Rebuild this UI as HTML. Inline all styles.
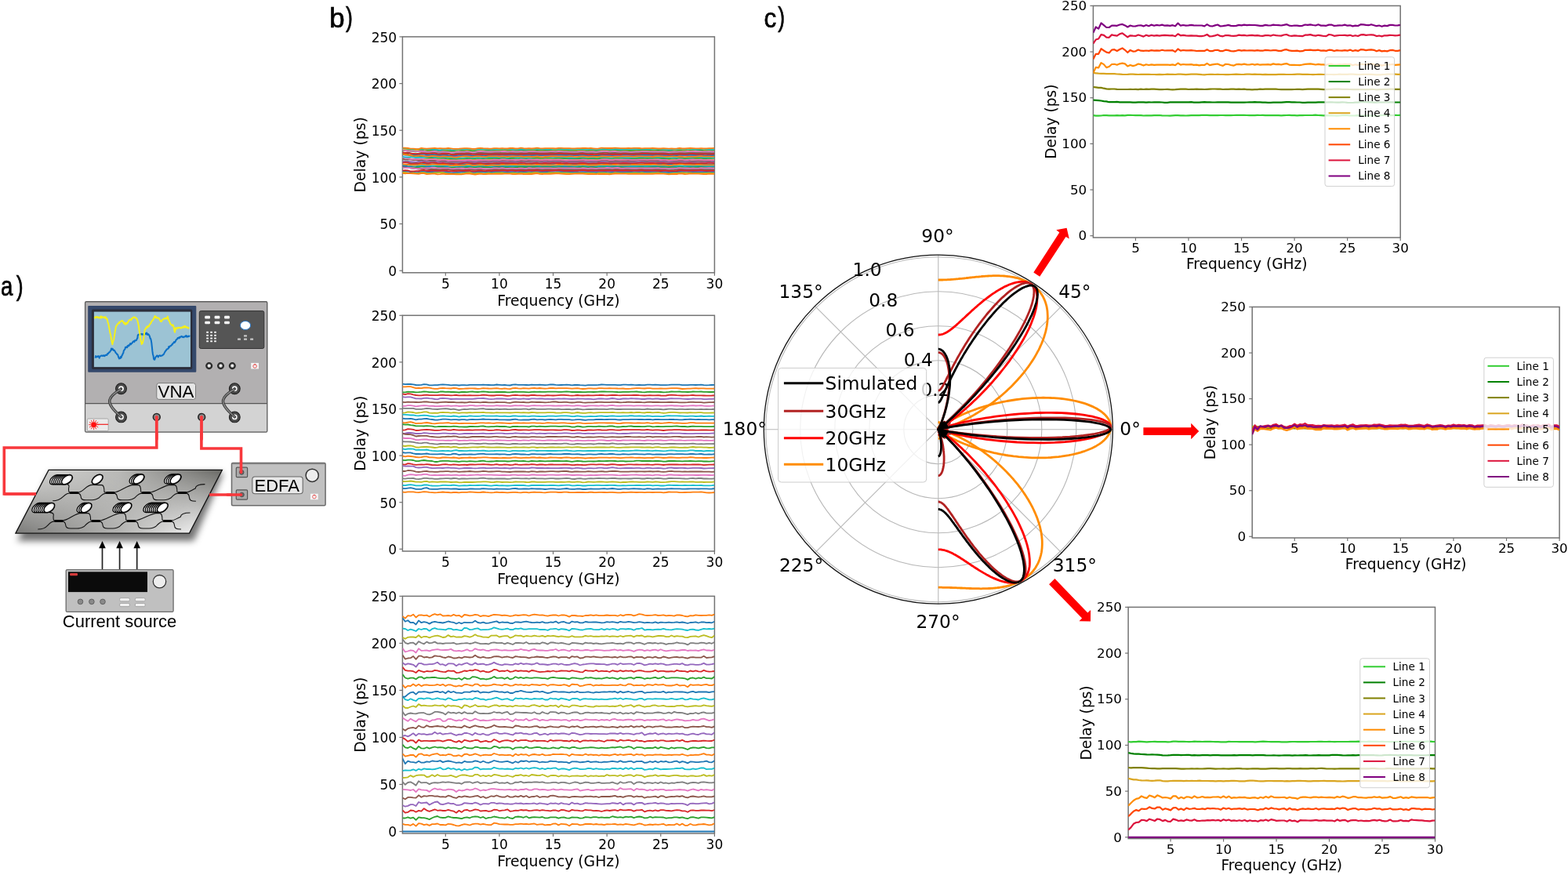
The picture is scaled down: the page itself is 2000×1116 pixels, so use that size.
<!DOCTYPE html>
<html><head><meta charset="utf-8"><title>Figure</title>
<style>html,body{margin:0;padding:0;background:#fff;}svg{display:block;}</style>
</head><body>
<svg width="2000" height="1116" viewBox="0 0 2000 1116">
<rect width="2000" height="1116" fill="#ffffff"/>
<rect x="513.4" y="46.9" width="398" height="300.9" fill="none" stroke="#737373" stroke-width="1.5"/>
<line x1="509.4" y1="345.2" x2="513.4" y2="345.2" stroke="#737373" stroke-width="1.2"/>
<text x="506.2" y="352.1" text-anchor="end" style="font-family:'DejaVu Sans',sans-serif;font-size:17.0px">0</text>
<line x1="509.4" y1="285.54" x2="513.4" y2="285.54" stroke="#737373" stroke-width="1.2"/>
<text x="506.2" y="292.44" text-anchor="end" style="font-family:'DejaVu Sans',sans-serif;font-size:17.0px">50</text>
<line x1="509.4" y1="225.88" x2="513.4" y2="225.88" stroke="#737373" stroke-width="1.2"/>
<text x="506.2" y="232.78" text-anchor="end" style="font-family:'DejaVu Sans',sans-serif;font-size:17.0px">100</text>
<line x1="509.4" y1="166.22" x2="513.4" y2="166.22" stroke="#737373" stroke-width="1.2"/>
<text x="506.2" y="173.12" text-anchor="end" style="font-family:'DejaVu Sans',sans-serif;font-size:17.0px">150</text>
<line x1="509.4" y1="106.56" x2="513.4" y2="106.56" stroke="#737373" stroke-width="1.2"/>
<text x="506.2" y="113.46" text-anchor="end" style="font-family:'DejaVu Sans',sans-serif;font-size:17.0px">200</text>
<line x1="509.4" y1="46.9" x2="513.4" y2="46.9" stroke="#737373" stroke-width="1.2"/>
<text x="506.2" y="53.8" text-anchor="end" style="font-family:'DejaVu Sans',sans-serif;font-size:17.0px">250</text>
<line x1="568.3" y1="347.8" x2="568.3" y2="351.8" stroke="#737373" stroke-width="1.2"/>
<text x="568.3" y="368.1" text-anchor="middle" style="font-family:'DejaVu Sans',sans-serif;font-size:17.0px">5</text>
<line x1="636.92" y1="347.8" x2="636.92" y2="351.8" stroke="#737373" stroke-width="1.2"/>
<text x="636.92" y="368.1" text-anchor="middle" style="font-family:'DejaVu Sans',sans-serif;font-size:17.0px">10</text>
<line x1="705.54" y1="347.8" x2="705.54" y2="351.8" stroke="#737373" stroke-width="1.2"/>
<text x="705.54" y="368.1" text-anchor="middle" style="font-family:'DejaVu Sans',sans-serif;font-size:17.0px">15</text>
<line x1="774.16" y1="347.8" x2="774.16" y2="351.8" stroke="#737373" stroke-width="1.2"/>
<text x="774.16" y="368.1" text-anchor="middle" style="font-family:'DejaVu Sans',sans-serif;font-size:17.0px">20</text>
<line x1="842.78" y1="347.8" x2="842.78" y2="351.8" stroke="#737373" stroke-width="1.2"/>
<text x="842.78" y="368.1" text-anchor="middle" style="font-family:'DejaVu Sans',sans-serif;font-size:17.0px">25</text>
<line x1="911.4" y1="347.8" x2="911.4" y2="351.8" stroke="#737373" stroke-width="1.2"/>
<text x="911.4" y="368.1" text-anchor="middle" style="font-family:'DejaVu Sans',sans-serif;font-size:17.0px">30</text>
<text x="712.4" y="389.8" text-anchor="middle" style="font-family:'DejaVu Sans',sans-serif;font-size:18.8px">Frequency (GHz)</text>
<text transform="translate(466.4,197.35) rotate(-90)" text-anchor="middle" style="font-family:'DejaVu Sans',sans-serif;font-size:18.8px">Delay (ps)</text>
<clipPath id="cp1"><rect x="513.4" y="46.9" width="398" height="300.9"/></clipPath>
<g clip-path="url(#cp1)" fill="none" stroke-width="1.8" stroke-linejoin="round">
<path transform="translate(513.4,0) scale(3.4310,0.1)" vector-effect="non-scaling-stroke" stroke="#7f7f7f" d="M0 1897l1 6 1 15 1 9 1 0 1 5 1 -1 1 -2 1 9 1 5 1 -3 1 0 1 1 1 4 1 4 1 -6 1 -2 1 3 1 -2 1 4 1 6 1 0 1 -2 1 -2 1 -4 1 3 1 4 1 0 1 -4 1 -3 1 3 1 1 1 -1 1 1 1 -1 1 -1 1 -3 1 -6 1 2 1 3 1 2 1 -1 1 1 1 2 1 -3 1 2 1 0 1 -2 1 3 1 -2 1 -6 1 4 1 4 1 -3 1 -1 1 2 1 1 1 -3 1 -2 1 3 1 -1 1 1 1 2 1 1 1 -1 1 1 1 1 1 -4 1 1 1 1 1 -3 1 4 1 2 1 -4 1 0 1 -2 1 2 1 5 1 -1 1 -3 1 0 1 0 1 -2 1 -2 1 2 1 5 1 0 1 -1 1 -1 1 -3 1 0 1 4 1 -2 1 -3 1 0 1 1 1 1 1 0 1 0 1 3 1 -1 1 -1 1 1 1 -3 1 0 1 3 1 0 1 -3 1 -2 1 5 1 1 1 -2 1 0 1 1 1 -1 1 1 1 -1"/>
<path transform="translate(513.4,0) scale(3.4310,0.1)" vector-effect="non-scaling-stroke" stroke="#7f7f7f" d="M0 2055l1 -1 1 0 1 17 1 3 1 -2 1 -3 1 -14 1 6 1 11 1 -3 1 -2 1 -1 1 1 1 4 1 -4 1 3 1 5 1 -3 1 1 1 4 1 0 1 -2 1 -2 1 -5 1 3 1 5 1 -2 1 -4 1 -1 1 1 1 1 1 0 1 0 1 -4 1 3 1 3 1 -5 1 3 1 2 1 2 1 -2 1 1 1 -2 1 -2 1 1 1 -2 1 0 1 4 1 -2 1 -2 1 4 1 0 1 -3 1 2 1 0 1 -1 1 0 1 -6 1 1 1 5 1 2 1 2 1 1 1 -2 1 -2 1 -1 1 -2 1 2 1 0 1 -1 1 4 1 1 1 -4 1 -2 1 2 1 2 1 2 1 -2 1 -8 1 2 1 5 1 -3 1 2 1 2 1 0 1 0 1 -3 1 0 1 0 1 -1 1 1 1 1 1 -3 1 0 1 1 1 1 1 3 1 0 1 -2 1 -2 1 1 1 2 1 -3 1 1 1 4 1 -3 1 -2 1 2 1 3 1 -1 1 -4 1 3 1 2 1 -5 1 2 1 3"/>
<path transform="translate(513.4,0) scale(3.4310,0.1)" vector-effect="non-scaling-stroke" stroke="#7f7f7f" d="M0 2126l1 3 1 7 1 8 1 0 1 1 1 6 1 -2 1 0 1 5 1 0 1 -1 1 1 1 1 1 -2 1 -3 1 1 1 3 1 -1 1 0 1 5 1 0 1 5 1 -2 1 -7 1 -3 1 8 1 0 1 -6 1 1 1 6 1 2 1 -5 1 0 1 -4 1 3 1 0 1 -5 1 2 1 1 1 -2 1 1 1 6 1 1 1 -7 1 -1 1 3 1 -1 1 2 1 -3 1 -1 1 5 1 -2 1 -4 1 4 1 2 1 0 1 -3 1 -4 1 3 1 3 1 0 1 1 1 -1 1 -1 1 -3 1 0 1 1 1 1 1 3 1 0 1 3 1 -1 1 -4 1 -2 1 -2 1 1 1 2 1 1 1 -1 1 -1 1 1 1 0 1 0 1 1 1 4 1 0 1 -3 1 -4 1 -2 1 2 1 1 1 -1 1 -1 1 2 1 2 1 1 1 1 1 0 1 1 1 -1 1 -2 1 -1 1 -1 1 1 1 4 1 -2 1 -2 1 -2 1 1 1 0 1 0 1 5 1 0 1 -2 1 0 1 -1"/>
<path transform="translate(513.4,0) scale(3.4310,0.1)" vector-effect="non-scaling-stroke" stroke="#9467bd" d="M0 1969l1 5 1 3 1 3 1 2 1 7 1 -1 1 -7 1 3 1 3 1 -5 1 -3 1 4 1 3 1 -3 1 -3 1 2 1 5 1 4 1 0 1 2 1 -1 1 -3 1 0 1 0 1 1 1 2 1 -2 1 -6 1 1 1 4 1 2 1 -2 1 0 1 -4 1 -3 1 3 1 2 1 2 1 1 1 0 1 -4 1 0 1 4 1 -5 1 -1 1 2 1 0 1 2 1 -4 1 -3 1 3 1 1 1 -3 1 0 1 1 1 4 1 1 1 -5 1 2 1 1 1 0 1 2 1 -1 1 -1 1 0 1 -2 1 -3 1 4 1 7 1 -2 1 -1 1 2 1 -3 1 -5 1 0 1 5 1 -2 1 -1 1 2 1 -1 1 0 1 1 1 -1 1 0 1 4 1 -1 1 -3 1 -1 1 -1 1 1 1 -3 1 1 1 1 1 -1 1 3 1 0 1 -1 1 0 1 4 1 1 1 -1 1 -2 1 -5 1 0 1 4 1 -1 1 -3 1 2 1 4 1 1 1 -1 1 -1 1 0 1 -1 1 -1 1 -1"/>
<path transform="translate(513.4,0) scale(3.4310,0.1)" vector-effect="non-scaling-stroke" stroke="#9467bd" d="M0 2057l1 4 1 2 1 -2 1 3 1 3 1 -7 1 -6 1 3 1 7 1 -5 1 -7 1 4 1 9 1 2 1 -8 1 -3 1 4 1 2 1 3 1 2 1 -3 1 -2 1 2 1 -4 1 -4 1 8 1 5 1 -6 1 -3 1 7 1 -1 1 -5 1 2 1 -6 1 -1 1 6 1 -2 1 1 1 3 1 -3 1 -1 1 3 1 -3 1 -5 1 3 1 1 1 -2 1 1 1 -2 1 -2 1 5 1 4 1 -2 1 1 1 -3 1 -2 1 1 1 0 1 1 1 3 1 1 1 -1 1 2 1 0 1 -3 1 -1 1 0 1 3 1 -1 1 -2 1 1 1 -1 1 0 1 0 1 -2 1 -2 1 4 1 2 1 -5 1 0 1 1 1 0 1 2 1 1 1 0 1 -1 1 4 1 -2 1 -4 1 -1 1 0 1 3 1 -2 1 -2 1 1 1 3 1 -1 1 2 1 4 1 -2 1 0 1 -2 1 -4 1 2 1 0 1 0 1 1 1 1 1 -1 1 -2 1 -1 1 2 1 2 1 0 1 2 1 -1"/>
<path transform="translate(513.4,0) scale(3.4310,0.1)" vector-effect="non-scaling-stroke" stroke="#9467bd" d="M0 2185l1 0 1 -4 1 9 1 5 1 -8 1 3 1 -3 1 -2 1 -1 1 1 1 5 1 -3 1 -4 1 3 1 4 1 -1 1 -1 1 1 1 2 1 2 1 -1 1 -4 1 -5 1 4 1 5 1 -2 1 -1 1 1 1 -1 1 0 1 1 1 0 1 1 1 -4 1 -1 1 3 1 -2 1 0 1 -1 1 -2 1 2 1 2 1 -1 1 -4 1 2 1 -1 1 -3 1 5 1 -1 1 -3 1 3 1 3 1 0 1 2 1 -2 1 -4 1 0 1 0 1 2 1 1 1 0 1 -1 1 2 1 3 1 0 1 -1 1 -3 1 2 1 0 1 -3 1 1 1 3 1 -2 1 -3 1 -1 1 1 1 3 1 1 1 -4 1 1 1 1 1 -4 1 2 1 3 1 4 1 -1 1 -3 1 1 1 -2 1 -2 1 1 1 2 1 -1 1 -1 1 1 1 3 1 -4 1 0 1 5 1 -2 1 1 1 -1 1 -6 1 3 1 3 1 -4 1 -2 1 4 1 3 1 -1 1 -3 1 -1 1 1 1 1 1 3 1 -1"/>
<path transform="translate(513.4,0) scale(3.4310,0.1)" vector-effect="non-scaling-stroke" stroke="#8c564b" d="M0 1953l1 -3 1 -6 1 9 1 9 1 -1 1 -4 1 -6 1 5 1 2 1 -1 1 0 1 -1 1 5 1 3 1 -7 1 -1 1 2 1 5 1 2 1 -5 1 -4 1 0 1 2 1 -4 1 1 1 7 1 1 1 -8 1 -3 1 3 1 2 1 -1 1 1 1 -2 1 -4 1 0 1 2 1 2 1 0 1 -3 1 1 1 6 1 0 1 -6 1 2 1 -1 1 -3 1 3 1 -1 1 -2 1 0 1 1 1 0 1 2 1 -3 1 2 1 2 1 -4 1 1 1 3 1 0 1 0 1 1 1 1 1 0 1 -2 1 -4 1 4 1 4 1 -5 1 3 1 2 1 -3 1 -3 1 -5 1 1 1 4 1 2 1 -3 1 1 1 0 1 1 1 1 1 -1 1 1 1 -1 1 2 1 -2 1 -3 1 2 1 0 1 1 1 3 1 -2 1 -3 1 2 1 1 1 0 1 4 1 0 1 -2 1 -3 1 -2 1 1 1 3 1 1 1 -4 1 0 1 4 1 -1 1 -4 1 1 1 2 1 0 1 -1 1 1"/>
<path transform="translate(513.4,0) scale(3.4310,0.1)" vector-effect="non-scaling-stroke" stroke="#8c564b" d="M0 2027l1 7 1 -1 1 3 1 4 1 -1 1 4 1 -3 1 1 1 8 1 -2 1 -2 1 -1 1 3 1 3 1 -2 1 2 1 3 1 3 1 0 1 0 1 -2 1 -1 1 -4 1 -6 1 4 1 6 1 -2 1 -5 1 3 1 2 1 1 1 -3 1 1 1 -4 1 1 1 4 1 -2 1 -1 1 0 1 2 1 -2 1 0 1 3 1 -2 1 3 1 0 1 -4 1 3 1 -2 1 -2 1 5 1 -1 1 -5 1 4 1 2 1 -3 1 0 1 -2 1 3 1 2 1 -2 1 -1 1 2 1 1 1 -2 1 1 1 -3 1 1 1 3 1 -3 1 -1 1 4 1 1 1 -6 1 -4 1 5 1 5 1 0 1 -4 1 2 1 1 1 -1 1 1 1 -2 1 1 1 1 1 -3 1 -2 1 0 1 2 1 1 1 -2 1 -2 1 3 1 1 1 -1 1 0 1 -1 1 2 1 1 1 1 1 0 1 -4 1 -1 1 1 1 -2 1 5 1 2 1 -2 1 -1 1 1 1 1 1 -1 1 -2 1 3 1 -1"/>
<path transform="translate(513.4,0) scale(3.4310,0.1)" vector-effect="non-scaling-stroke" stroke="#8c564b" d="M0 2119l1 5 1 9 1 11 1 4 1 2 1 5 1 -3 1 -4 1 8 1 5 1 0 1 4 1 0 1 -2 1 -2 1 0 1 -1 1 6 1 4 1 -2 1 -1 1 -1 1 0 1 -4 1 0 1 6 1 0 1 -5 1 0 1 3 1 -1 1 -1 1 4 1 -2 1 1 1 2 1 -3 1 -1 1 4 1 -1 1 -4 1 2 1 2 1 -5 1 2 1 4 1 -2 1 1 1 -6 1 -3 1 5 1 4 1 -1 1 0 1 -1 1 1 1 0 1 -5 1 2 1 2 1 0 1 3 1 1 1 -3 1 -3 1 0 1 -2 1 3 1 2 1 -4 1 4 1 1 1 -2 1 0 1 0 1 1 1 -1 1 0 1 -2 1 -1 1 2 1 2 1 -2 1 -2 1 2 1 4 1 0 1 -4 1 -3 1 1 1 1 1 2 1 -1 1 -2 1 0 1 2 1 1 1 4 1 3 1 -2 1 -2 1 -3 1 -7 1 3 1 6 1 -1 1 -1 1 -2 1 0 1 0 1 0 1 5 1 1 1 -2 1 0 1 -2"/>
<path transform="translate(513.4,0) scale(3.4310,0.1)" vector-effect="non-scaling-stroke" stroke="#1f77b4" d="M0 1971l1 5 1 1 1 6 1 -3 1 -3 1 -1 1 -11 1 0 1 12 1 -1 1 -7 1 4 1 7 1 -1 1 -2 1 0 1 4 1 5 1 -2 1 -2 1 -3 1 -1 1 -1 1 -4 1 4 1 7 1 -2 1 -4 1 -3 1 4 1 2 1 -3 1 -1 1 -1 1 -3 1 -2 1 2 1 4 1 -4 1 -2 1 3 1 3 1 1 1 -3 1 2 1 -1 1 -2 1 4 1 -2 1 -2 1 4 1 1 1 -5 1 -1 1 1 1 0 1 0 1 -1 1 2 1 1 1 0 1 0 1 -1 1 4 1 -1 1 -2 1 -2 1 3 1 1 1 -3 1 6 1 2 1 -3 1 -3 1 -5 1 1 1 4 1 2 1 -6 1 -1 1 4 1 -2 1 -3 1 0 1 5 1 0 1 -1 1 0 1 0 1 1 1 0 1 1 1 -2 1 -4 1 2 1 5 1 -1 1 0 1 2 1 -1 1 1 1 1 1 -4 1 -2 1 3 1 0 1 0 1 -1 1 -1 1 0 1 0 1 4 1 2 1 -6 1 3 1 2"/>
<path transform="translate(513.4,0) scale(3.4310,0.1)" vector-effect="non-scaling-stroke" stroke="#1f77b4" d="M0 2101l1 0 1 -8 1 -1 1 -1 1 1 1 0 1 -6 1 -2 1 9 1 2 1 -2 1 -3 1 -2 1 2 1 1 1 4 1 0 1 2 1 1 1 -1 1 -2 1 -1 1 -2 1 -1 1 1 1 5 1 -1 1 -4 1 0 1 2 1 4 1 -3 1 0 1 -3 1 -2 1 5 1 -1 1 -1 1 2 1 -1 1 -2 1 1 1 0 1 -3 1 2 1 1 1 -2 1 1 1 -3 1 -1 1 6 1 0 1 -4 1 1 1 1 1 -1 1 -4 1 -1 1 5 1 0 1 4 1 0 1 -1 1 -1 1 -2 1 1 1 -2 1 2 1 3 1 -2 1 2 1 2 1 -5 1 -5 1 -1 1 4 1 1 1 -1 1 -3 1 0 1 4 1 0 1 0 1 0 1 2 1 1 1 2 1 -2 1 -1 1 0 1 -2 1 2 1 -1 1 -4 1 2 1 0 1 -2 1 5 1 4 1 -4 1 -1 1 -1 1 -3 1 4 1 3 1 -1 1 -2 1 1 1 2 1 -3 1 -3 1 3 1 3 1 0 1 0 1 -2"/>
<path transform="translate(513.4,0) scale(3.4310,0.1)" vector-effect="non-scaling-stroke" stroke="#1f77b4" d="M0 2114l1 3 1 5 1 4 1 6 1 -3 1 -6 1 -3 1 1 1 4 1 0 1 -5 1 0 1 7 1 -1 1 -8 1 6 1 5 1 4 1 2 1 -4 1 -4 1 1 1 0 1 -7 1 0 1 8 1 -2 1 -6 1 1 1 4 1 4 1 0 1 -2 1 -4 1 -1 1 0 1 -2 1 1 1 3 1 3 1 -1 1 0 1 0 1 -4 1 3 1 1 1 -3 1 0 1 -2 1 -2 1 4 1 2 1 -2 1 -4 1 1 1 1 1 -3 1 -2 1 4 1 1 1 -1 1 3 1 1 1 0 1 -2 1 0 1 -4 1 4 1 5 1 -4 1 -1 1 1 1 0 1 -2 1 -3 1 1 1 4 1 1 1 -3 1 2 1 3 1 -4 1 -1 1 3 1 0 1 -3 1 -1 1 1 1 0 1 -1 1 1 1 3 1 -3 1 -3 1 3 1 7 1 1 1 -2 1 2 1 -4 1 -2 1 1 1 -4 1 2 1 3 1 -1 1 -5 1 -2 1 6 1 1 1 -1 1 3 1 1 1 -3 1 -1 1 0"/>
<path transform="translate(513.4,0) scale(3.4310,0.1)" vector-effect="non-scaling-stroke" stroke="#1f77b4" d="M0 2184l1 1 1 -1 1 6 1 6 1 7 1 -2 1 -11 1 2 1 7 1 -1 1 -5 1 0 1 5 1 2 1 -2 1 1 1 3 1 3 1 1 1 -5 1 -3 1 -1 1 0 1 0 1 3 1 5 1 -4 1 -6 1 0 1 2 1 2 1 1 1 0 1 -4 1 -1 1 2 1 -2 1 3 1 2 1 -1 1 -2 1 3 1 2 1 -10 1 3 1 5 1 -3 1 -1 1 -2 1 -1 1 4 1 2 1 -6 1 -1 1 5 1 1 1 -2 1 -3 1 2 1 2 1 2 1 0 1 -1 1 2 1 0 1 -1 1 -3 1 2 1 4 1 -3 1 0 1 3 1 -2 1 -2 1 -3 1 4 1 3 1 -2 1 -2 1 -3 1 3 1 0 1 0 1 -2 1 -1 1 1 1 2 1 1 1 -4 1 0 1 2 1 0 1 0 1 -1 1 -1 1 2 1 2 1 0 1 3 1 -2 1 -4 1 -1 1 -3 1 2 1 8 1 -2 1 -4 1 1 1 1 1 1 1 -1 1 0 1 -2 1 0 1 4 1 -3"/>
<path transform="translate(513.4,0) scale(3.4310,0.1)" vector-effect="non-scaling-stroke" stroke="#bcbd22" d="M0 1901l1 0 1 4 1 6 1 0 1 1 1 -1 1 -10 1 2 1 9 1 3 1 -3 1 2 1 6 1 -5 1 -7 1 4 1 7 1 2 1 -1 1 -2 1 -7 1 0 1 4 1 0 1 -1 1 3 1 3 1 -5 1 -1 1 1 1 -3 1 -1 1 3 1 -2 1 -1 1 3 1 -2 1 2 1 3 1 -4 1 -2 1 3 1 -2 1 -1 1 5 1 -2 1 -4 1 3 1 -3 1 -3 1 7 1 3 1 -5 1 -2 1 4 1 -2 1 -3 1 -2 1 3 1 4 1 1 1 -4 1 0 1 2 1 -1 1 0 1 0 1 3 1 -1 1 -1 1 1 1 0 1 0 1 -1 1 -2 1 2 1 1 1 1 1 -3 1 1 1 3 1 -2 1 -3 1 3 1 2 1 -1 1 0 1 -3 1 -2 1 0 1 1 1 1 1 -1 1 1 1 0 1 1 1 0 1 0 1 6 1 -2 1 -3 1 -2 1 -3 1 3 1 4 1 -2 1 -2 1 4 1 -1 1 -5 1 1 1 5 1 0 1 -1 1 0 1 -1"/>
<path transform="translate(513.4,0) scale(3.4310,0.1)" vector-effect="non-scaling-stroke" stroke="#bcbd22" d="M0 2006l1 2 1 6 1 10 1 4 1 -1 1 -1 1 0 1 0 1 1 1 1 1 -2 1 1 1 2 1 2 1 -1 1 0 1 1 1 2 1 3 1 0 1 -2 1 -5 1 1 1 -3 1 -2 1 7 1 1 1 -3 1 3 1 2 1 -1 1 -2 1 0 1 -3 1 2 1 1 1 -4 1 3 1 0 1 0 1 1 1 1 1 -2 1 -5 1 1 1 3 1 -1 1 2 1 -4 1 0 1 3 1 -1 1 0 1 -1 1 -2 1 0 1 0 1 -2 1 2 1 0 1 1 1 0 1 1 1 2 1 0 1 -1 1 -4 1 4 1 3 1 -5 1 2 1 5 1 -2 1 -6 1 0 1 3 1 3 1 -1 1 -4 1 0 1 4 1 -1 1 -2 1 0 1 2 1 2 1 -5 1 -1 1 2 1 1 1 0 1 -1 1 -4 1 2 1 5 1 -1 1 -3 1 1 1 3 1 0 1 0 1 0 1 -2 1 -2 1 3 1 -3 1 -2 1 4 1 0 1 -5 1 0 1 6 1 1 1 -5 1 3 1 2"/>
<path transform="translate(513.4,0) scale(3.4310,0.1)" vector-effect="non-scaling-stroke" stroke="#bcbd22" d="M0 2200l1 -1 1 10 1 1 1 -6 1 7 1 -2 1 -8 1 1 1 6 1 4 1 -4 1 -4 1 -1 1 -1 1 0 1 6 1 5 1 1 1 2 1 -1 1 1 1 -2 1 -5 1 -6 1 -1 1 10 1 1 1 -3 1 0 1 4 1 -3 1 -4 1 4 1 -2 1 -3 1 1 1 -2 1 3 1 3 1 -3 1 -2 1 3 1 3 1 -6 1 2 1 0 1 -3 1 2 1 -5 1 -1 1 5 1 3 1 0 1 -2 1 -3 1 -1 1 -1 1 -1 1 5 1 1 1 0 1 1 1 3 1 -1 1 -1 1 -2 1 -1 1 2 1 2 1 -2 1 2 1 3 1 -6 1 -1 1 0 1 2 1 4 1 -1 1 -6 1 2 1 2 1 -1 1 2 1 -1 1 1 1 -3 1 0 1 1 1 -5 1 5 1 4 1 -3 1 -2 1 -1 1 -1 1 3 1 3 1 3 1 2 1 -4 1 -2 1 -2 1 -2 1 -1 1 1 1 0 1 1 1 2 1 0 1 -1 1 0 1 1 1 -1 1 -1 1 2 1 -1"/>
<path transform="translate(513.4,0) scale(3.4310,0.1)" vector-effect="non-scaling-stroke" stroke="#2ca02c" d="M0 1920l1 1 1 2 1 4 1 5 1 2 1 -9 1 -10 1 6 1 4 1 -2 1 -3 1 -2 1 5 1 7 1 -4 1 3 1 -1 1 -3 1 4 1 4 1 -3 1 -6 1 3 1 -1 1 -2 1 4 1 0 1 -2 1 0 1 3 1 -4 1 -3 1 3 1 -1 1 3 1 0 1 -5 1 1 1 1 1 1 1 -1 1 1 1 -2 1 -6 1 4 1 4 1 -2 1 2 1 -2 1 -3 1 5 1 0 1 -4 1 1 1 0 1 1 1 1 1 -2 1 1 1 1 1 -1 1 2 1 1 1 1 1 -1 1 -3 1 0 1 3 1 -1 1 -2 1 2 1 2 1 -2 1 -2 1 -2 1 2 1 2 1 0 1 -4 1 1 1 3 1 -2 1 1 1 1 1 -1 1 0 1 -1 1 -1 1 0 1 0 1 -1 1 1 1 2 1 -1 1 -3 1 1 1 2 1 3 1 2 1 -3 1 3 1 -1 1 -6 1 4 1 2 1 -4 1 -2 1 2 1 -2 1 -3 1 1 1 5 1 2 1 -1 1 0 1 -2"/>
<path transform="translate(513.4,0) scale(3.4310,0.1)" vector-effect="non-scaling-stroke" stroke="#2ca02c" d="M0 1956l1 8 1 5 1 15 1 5 1 9 1 5 1 -9 1 6 1 12 1 -2 1 0 1 -1 1 5 1 2 1 -2 1 4 1 0 1 8 1 1 1 -2 1 -2 1 -5 1 0 1 2 1 -3 1 3 1 0 1 -4 1 2 1 3 1 -2 1 -2 1 2 1 -2 1 1 1 2 1 -5 1 0 1 5 1 0 1 -3 1 1 1 1 1 -2 1 2 1 2 1 0 1 -2 1 -3 1 -2 1 2 1 1 1 -1 1 -2 1 -1 1 4 1 0 1 -3 1 3 1 3 1 -2 1 3 1 1 1 -1 1 -1 1 0 1 -2 1 1 1 2 1 -2 1 1 1 2 1 -2 1 -5 1 0 1 4 1 -1 1 0 1 -1 1 0 1 0 1 2 1 3 1 -1 1 1 1 0 1 -1 1 -3 1 -2 1 2 1 -2 1 2 1 0 1 -4 1 1 1 4 1 1 1 1 1 2 1 -4 1 0 1 1 1 -6 1 1 1 5 1 -1 1 0 1 0 1 -3 1 -1 1 2 1 3 1 0 1 -3 1 1 1 -2"/>
<path transform="translate(513.4,0) scale(3.4310,0.1)" vector-effect="non-scaling-stroke" stroke="#2ca02c" d="M0 2138l1 2 1 -3 1 1 1 -3 1 2 1 -2 1 -8 1 4 1 10 1 0 1 -8 1 -5 1 4 1 2 1 -2 1 5 1 2 1 -1 1 0 1 2 1 -1 1 -3 1 -2 1 0 1 -2 1 3 1 3 1 -6 1 -2 1 5 1 1 1 1 1 2 1 -1 1 -3 1 1 1 -2 1 0 1 3 1 -1 1 -2 1 0 1 -2 1 -3 1 3 1 2 1 -2 1 1 1 -1 1 -1 1 4 1 0 1 -3 1 1 1 2 1 -2 1 1 1 0 1 -2 1 4 1 3 1 -5 1 2 1 -1 1 0 1 -1 1 -7 1 4 1 5 1 -2 1 2 1 1 1 -2 1 -1 1 -4 1 4 1 3 1 -2 1 -1 1 -1 1 0 1 2 1 1 1 -1 1 2 1 -1 1 -1 1 -2 1 -2 1 2 1 -1 1 0 1 1 1 1 1 1 1 0 1 -2 1 -1 1 2 1 1 1 0 1 0 1 -5 1 0 1 3 1 1 1 1 1 -2 1 -1 1 1 1 -2 1 2 1 3 1 -1 1 3 1 -2"/>
<path transform="translate(513.4,0) scale(3.4310,0.1)" vector-effect="non-scaling-stroke" stroke="#e377c2" d="M0 1914l1 5 1 6 1 1 1 1 1 1 1 0 1 -2 1 2 1 7 1 2 1 -5 1 -2 1 4 1 3 1 -2 1 1 1 3 1 4 1 1 1 -6 1 -3 1 1 1 0 1 -5 1 6 1 6 1 -5 1 -6 1 -2 1 1 1 3 1 1 1 0 1 -2 1 1 1 -1 1 -5 1 2 1 5 1 -2 1 -2 1 2 1 0 1 -2 1 4 1 0 1 -4 1 1 1 0 1 1 1 2 1 0 1 0 1 -1 1 -3 1 0 1 2 1 -3 1 1 1 2 1 1 1 2 1 0 1 0 1 -1 1 -4 1 1 1 3 1 2 1 -4 1 2 1 3 1 -5 1 -5 1 -2 1 4 1 4 1 -2 1 -2 1 3 1 3 1 -3 1 1 1 3 1 2 1 -3 1 -2 1 0 1 -3 1 1 1 0 1 1 1 0 1 1 1 1 1 -1 1 -1 1 3 1 4 1 -3 1 -3 1 2 1 -2 1 -1 1 0 1 -3 1 2 1 0 1 -2 1 1 1 2 1 0 1 0 1 -1 1 3 1 -2"/>
<path transform="translate(513.4,0) scale(3.4310,0.1)" vector-effect="non-scaling-stroke" stroke="#e377c2" d="M0 2006l1 8 1 8 1 6 1 2 1 1 1 -2 1 -6 1 10 1 6 1 -7 1 -1 1 1 1 6 1 4 1 -6 1 3 1 9 1 -3 1 -1 1 2 1 -1 1 1 1 -1 1 -5 1 -1 1 7 1 0 1 -6 1 2 1 0 1 -1 1 3 1 -3 1 -4 1 2 1 1 1 -5 1 2 1 2 1 0 1 -1 1 2 1 2 1 -7 1 1 1 3 1 -5 1 2 1 2 1 -3 1 5 1 1 1 -6 1 3 1 2 1 -1 1 -1 1 -1 1 1 1 3 1 2 1 -3 1 1 1 0 1 0 1 -2 1 -3 1 4 1 4 1 -2 1 0 1 1 1 -2 1 -5 1 -2 1 1 1 3 1 4 1 -5 1 -1 1 2 1 -1 1 0 1 0 1 2 1 0 1 -1 1 -1 1 -1 1 1 1 1 1 -1 1 -1 1 0 1 1 1 3 1 -2 1 0 1 8 1 -2 1 -2 1 -4 1 -5 1 3 1 5 1 -1 1 -3 1 -2 1 3 1 0 1 -2 1 5 1 1 1 -3 1 5 1 -2"/>
<path transform="translate(513.4,0) scale(3.4310,0.1)" vector-effect="non-scaling-stroke" stroke="#e377c2" d="M0 2139l1 2 1 -1 1 2 1 3 1 5 1 -1 1 -6 1 1 1 1 1 -2 1 -6 1 0 1 6 1 2 1 -2 1 1 1 0 1 5 1 2 1 -4 1 -1 1 -1 1 2 1 1 1 -5 1 3 1 5 1 -4 1 -3 1 6 1 4 1 -2 1 -3 1 -5 1 0 1 2 1 -4 1 4 1 3 1 -3 1 1 1 2 1 -2 1 -4 1 4 1 1 1 -7 1 3 1 2 1 -3 1 1 1 1 1 -1 1 0 1 -1 1 3 1 0 1 -3 1 0 1 0 1 1 1 0 1 0 1 1 1 1 1 1 1 -4 1 2 1 4 1 -4 1 2 1 2 1 -5 1 0 1 0 1 -4 1 2 1 3 1 -3 1 -2 1 5 1 1 1 -2 1 0 1 1 1 0 1 0 1 -1 1 -1 1 2 1 0 1 -1 1 1 1 -2 1 -1 1 5 1 -1 1 0 1 3 1 -2 1 -1 1 -1 1 -3 1 1 1 1 1 1 1 1 1 -3 1 3 1 1 1 -5 1 1 1 1 1 -3 1 4 1 0"/>
<path transform="translate(513.4,0) scale(3.4310,0.1)" vector-effect="non-scaling-stroke" stroke="#d62728" d="M0 1945l1 4 1 5 1 5 1 1 1 3 1 1 1 -9 1 1 1 6 1 -4 1 -1 1 -1 1 7 1 3 1 -4 1 1 1 -1 1 8 1 6 1 -5 1 -5 1 -1 1 1 1 -2 1 -1 1 6 1 0 1 -1 1 -1 1 1 1 0 1 -2 1 3 1 -4 1 1 1 3 1 -2 1 0 1 -2 1 -2 1 1 1 2 1 -1 1 -2 1 2 1 -1 1 -1 1 4 1 -3 1 -3 1 6 1 -1 1 -3 1 2 1 0 1 0 1 -2 1 -1 1 0 1 1 1 0 1 -1 1 4 1 3 1 -3 1 -2 1 -2 1 4 1 5 1 -3 1 2 1 1 1 -5 1 -1 1 -1 1 1 1 2 1 3 1 -3 1 1 1 2 1 -6 1 0 1 2 1 2 1 0 1 -2 1 -1 1 -3 1 -1 1 1 1 2 1 1 1 -1 1 0 1 1 1 0 1 0 1 5 1 1 1 -5 1 -1 1 -1 1 1 1 4 1 -2 1 -6 1 -1 1 6 1 1 1 -2 1 0 1 1 1 1 1 -1 1 -2"/>
<path transform="translate(513.4,0) scale(3.4310,0.1)" vector-effect="non-scaling-stroke" stroke="#d62728" d="M0 2077l1 -6 1 3 1 12 1 2 1 -4 1 -1 1 -7 1 -4 1 9 1 -1 1 -4 1 -1 1 7 1 1 1 -5 1 7 1 1 1 0 1 3 1 3 1 -3 1 -6 1 -6 1 -1 1 2 1 7 1 2 1 -5 1 0 1 5 1 -1 1 -2 1 2 1 -4 1 -1 1 0 1 -3 1 3 1 1 1 -1 1 1 1 2 1 -2 1 -5 1 2 1 4 1 0 1 0 1 -3 1 -2 1 5 1 -1 1 -3 1 3 1 -2 1 -3 1 3 1 -2 1 2 1 1 1 -1 1 3 1 1 1 1 1 -2 1 -3 1 -2 1 4 1 7 1 -3 1 -1 1 1 1 -6 1 -2 1 1 1 2 1 1 1 1 1 -2 1 1 1 0 1 -2 1 0 1 1 1 2 1 0 1 -2 1 -2 1 -2 1 4 1 1 1 -2 1 -2 1 3 1 -2 1 0 1 1 1 3 1 0 1 -2 1 0 1 1 1 -2 1 3 1 1 1 -3 1 -1 1 3 1 2 1 -2 1 -1 1 0 1 -2 1 -4 1 2 1 4"/>
<path transform="translate(513.4,0) scale(3.4310,0.1)" vector-effect="non-scaling-stroke" stroke="#d62728" d="M0 2177l1 -5 1 2 1 11 1 -2 1 -1 1 -1 1 -9 1 -3 1 10 1 1 1 -6 1 1 1 3 1 1 1 -6 1 3 1 5 1 0 1 1 1 0 1 -4 1 -1 1 1 1 -3 1 3 1 6 1 0 1 -6 1 -1 1 4 1 -1 1 -3 1 4 1 -5 1 -3 1 4 1 -4 1 1 1 4 1 -4 1 0 1 5 1 -2 1 -3 1 4 1 -1 1 -6 1 4 1 0 1 -4 1 5 1 3 1 -3 1 -1 1 0 1 -2 1 -1 1 -1 1 3 1 4 1 0 1 -2 1 2 1 1 1 -1 1 -4 1 -5 1 5 1 5 1 -3 1 0 1 1 1 -1 1 -1 1 -1 1 3 1 0 1 0 1 -2 1 -1 1 1 1 0 1 -1 1 2 1 2 1 -1 1 0 1 -2 1 -3 1 5 1 0 1 0 1 -1 1 0 1 3 1 1 1 -3 1 0 1 5 1 -2 1 1 1 -1 1 -7 1 1 1 3 1 -1 1 0 1 0 1 1 1 -4 1 -1 1 4 1 2 1 0 1 -2 1 1"/>
<path transform="translate(513.4,0) scale(3.4310,0.1)" vector-effect="non-scaling-stroke" stroke="#17becf" d="M0 1889l1 1 1 5 1 9 1 2 1 -5 1 -1 1 -4 1 2 1 3 1 -3 1 5 1 3 1 2 1 6 1 -7 1 -6 1 2 1 5 1 3 1 -4 1 -4 1 1 1 0 1 -3 1 -1 1 4 1 2 1 -2 1 -1 1 1 1 0 1 0 1 3 1 -5 1 1 1 0 1 -7 1 4 1 2 1 -2 1 5 1 2 1 -4 1 -3 1 3 1 2 1 -4 1 0 1 -3 1 0 1 2 1 2 1 0 1 2 1 -2 1 -4 1 1 1 -2 1 3 1 2 1 0 1 1 1 0 1 -1 1 -2 1 0 1 0 1 4 1 -1 1 -4 1 4 1 2 1 -1 1 -2 1 -4 1 3 1 3 1 -1 1 -3 1 2 1 3 1 -2 1 -1 1 0 1 2 1 -3 1 0 1 1 1 -2 1 1 1 1 1 0 1 -4 1 0 1 4 1 2 1 0 1 1 1 5 1 -5 1 -2 1 0 1 -8 1 3 1 5 1 -4 1 0 1 3 1 3 1 -2 1 -5 1 1 1 4 1 1 1 1 1 -2"/>
<path transform="translate(513.4,0) scale(3.4310,0.1)" vector-effect="non-scaling-stroke" stroke="#17becf" d="M0 2000l1 4 1 1 1 -3 1 4 1 4 1 -1 1 -2 1 2 1 -1 1 -10 1 1 1 7 1 3 1 -1 1 -3 1 1 1 4 1 0 1 3 1 2 1 0 1 -1 1 -2 1 -3 1 0 1 4 1 -2 1 -1 1 1 1 1 1 -1 1 -5 1 0 1 0 1 -1 1 4 1 -3 1 0 1 7 1 -6 1 -6 1 7 1 2 1 -5 1 3 1 2 1 -1 1 -1 1 -3 1 -3 1 4 1 0 1 -2 1 3 1 2 1 2 1 -5 1 -2 1 3 1 0 1 2 1 1 1 0 1 1 1 -3 1 -3 1 0 1 4 1 2 1 -4 1 1 1 -2 1 -2 1 1 1 0 1 3 1 2 1 1 1 -4 1 0 1 1 1 -1 1 1 1 2 1 -2 1 -2 1 -1 1 -2 1 -1 1 3 1 1 1 -3 1 2 1 1 1 -3 1 3 1 1 1 -1 1 5 1 0 1 -2 1 1 1 -4 1 0 1 3 1 -2 1 1 1 -2 1 -2 1 0 1 1 1 4 1 -1 1 -2 1 4 1 0"/>
<path transform="translate(513.4,0) scale(3.4310,0.1)" vector-effect="non-scaling-stroke" stroke="#17becf" d="M0 2102l1 -3 1 4 1 9 1 -3 1 0 1 4 1 -3 1 -2 1 3 1 0 1 2 1 -2 1 -2 1 2 1 0 1 3 1 1 1 0 1 4 1 1 1 -4 1 1 1 -1 1 -4 1 1 1 4 1 2 1 -3 1 -4 1 2 1 0 1 1 1 5 1 -6 1 -3 1 -1 1 -2 1 5 1 1 1 -1 1 3 1 -3 1 -3 1 -1 1 2 1 -1 1 -1 1 2 1 0 1 1 1 1 1 -3 1 -1 1 2 1 1 1 1 1 -2 1 -4 1 3 1 2 1 -1 1 0 1 2 1 3 1 -1 1 -7 1 0 1 6 1 1 1 -4 1 1 1 5 1 -2 1 -3 1 1 1 0 1 0 1 0 1 -7 1 0 1 6 1 1 1 1 1 1 1 1 1 0 1 0 1 -3 1 -1 1 3 1 0 1 -1 1 -3 1 -1 1 -1 1 4 1 1 1 1 1 1 1 -5 1 2 1 2 1 -4 1 2 1 5 1 -5 1 -2 1 2 1 0 1 -1 1 0 1 2 1 2 1 -3 1 2 1 -2"/>
<path transform="translate(513.4,0) scale(3.4310,0.1)" vector-effect="non-scaling-stroke" stroke="#ff7f0e" d="M0 1887l1 -1 1 4 1 6 1 1 1 3 1 1 1 -12 1 4 1 4 1 -4 1 -2 1 -1 1 3 1 -1 1 1 1 0 1 -3 1 3 1 5 1 0 1 -1 1 -3 1 -2 1 0 1 1 1 5 1 1 1 -7 1 -3 1 3 1 1 1 2 1 1 1 -4 1 0 1 1 1 -2 1 2 1 2 1 -5 1 0 1 5 1 -1 1 -7 1 5 1 3 1 -4 1 4 1 -4 1 -4 1 5 1 2 1 -3 1 0 1 1 1 0 1 2 1 -6 1 1 1 3 1 -1 1 1 1 2 1 -1 1 -1 1 -1 1 -2 1 1 1 2 1 -2 1 3 1 4 1 -4 1 -6 1 1 1 2 1 0 1 0 1 -3 1 2 1 2 1 0 1 0 1 -1 1 1 1 -2 1 -1 1 2 1 3 1 -1 1 -1 1 1 1 -3 1 2 1 4 1 0 1 -3 1 1 1 3 1 -1 1 1 1 -2 1 -4 1 3 1 2 1 -4 1 -1 1 2 1 2 1 -1 1 -1 1 1 1 0 1 -1 1 0 1 -3"/>
<path transform="translate(513.4,0) scale(3.4310,0.1)" vector-effect="non-scaling-stroke" stroke="#ff7f0e" d="M0 1965l1 5 1 6 1 6 1 6 1 3 1 -5 1 0 1 6 1 4 1 -1 1 -6 1 2 1 4 1 4 1 -4 1 1 1 3 1 0 1 8 1 1 1 -7 1 -5 1 -1 1 0 1 4 1 2 1 -4 1 -2 1 2 1 5 1 -1 1 -7 1 0 1 -1 1 1 1 5 1 -4 1 1 1 4 1 -3 1 -2 1 2 1 0 1 -2 1 5 1 -1 1 -3 1 4 1 -2 1 -3 1 5 1 3 1 -3 1 -2 1 -3 1 -2 1 2 1 2 1 -2 1 1 1 2 1 -3 1 1 1 5 1 0 1 -4 1 -4 1 5 1 5 1 -5 1 -1 1 3 1 -2 1 -4 1 2 1 3 1 -1 1 0 1 1 1 -1 1 -1 1 -3 1 3 1 0 1 0 1 1 1 -3 1 -2 1 0 1 4 1 0 1 -1 1 4 1 -5 1 -3 1 2 1 3 1 1 1 0 1 -2 1 0 1 3 1 -4 1 3 1 6 1 -5 1 -2 1 1 1 0 1 -4 1 -3 1 5 1 1 1 -1 1 3 1 -2"/>
<path transform="translate(513.4,0) scale(3.4310,0.1)" vector-effect="non-scaling-stroke" stroke="#ff7f0e" d="M0 2096l1 0 1 4 1 4 1 -1 1 1 1 -2 1 -8 1 4 1 6 1 -3 1 -4 1 0 1 4 1 1 1 -3 1 2 1 2 1 8 1 -1 1 -5 1 3 1 -1 1 -1 1 -7 1 -1 1 10 1 1 1 -6 1 -3 1 3 1 7 1 -2 1 -3 1 -2 1 3 1 0 1 -8 1 4 1 2 1 -3 1 -2 1 1 1 3 1 -4 1 1 1 3 1 -2 1 2 1 0 1 -5 1 3 1 4 1 -3 1 1 1 2 1 -1 1 -1 1 -3 1 0 1 2 1 1 1 -2 1 3 1 2 1 -2 1 -3 1 -3 1 4 1 5 1 -3 1 1 1 0 1 -3 1 0 1 -2 1 0 1 3 1 -1 1 -3 1 3 1 1 1 0 1 0 1 0 1 -1 1 -2 1 1 1 -1 1 -2 1 3 1 -1 1 0 1 -2 1 0 1 5 1 0 1 -1 1 3 1 6 1 -3 1 -7 1 0 1 -4 1 0 1 5 1 0 1 -1 1 2 1 -1 1 -2 1 2 1 2 1 -1 1 1 1 0 1 -1"/>
<path transform="translate(513.4,0) scale(3.4310,0.1)" vector-effect="non-scaling-stroke" stroke="#ff7f0e" d="M0 2209l1 4 1 -5 1 2 1 3 1 4 1 1 1 -8 1 2 1 9 1 -2 1 -4 1 1 1 7 1 -2 1 -5 1 4 1 0 1 0 1 0 1 3 1 0 1 0 1 -4 1 -5 1 1 1 6 1 6 1 -7 1 -4 1 4 1 1 1 -2 1 0 1 0 1 0 1 0 1 -1 1 -2 1 -1 1 2 1 4 1 1 1 -3 1 -3 1 4 1 2 1 -2 1 0 1 -5 1 -3 1 6 1 2 1 -4 1 2 1 0 1 -3 1 -1 1 0 1 3 1 2 1 2 1 0 1 -3 1 -2 1 -1 1 0 1 0 1 4 1 3 1 -4 1 2 1 1 1 -2 1 1 1 -1 1 2 1 2 1 -4 1 -4 1 2 1 0 1 -2 1 2 1 1 1 0 1 1 1 -1 1 1 1 0 1 0 1 -2 1 1 1 0 1 -2 1 -2 1 2 1 1 1 2 1 5 1 -3 1 -1 1 0 1 -6 1 1 1 7 1 -3 1 -5 1 1 1 2 1 0 1 1 1 2 1 1 1 -5 1 3 1 0"/>
</g>
<rect x="513.4" y="402.3" width="398" height="300.7" fill="none" stroke="#737373" stroke-width="1.5"/>
<line x1="509.4" y1="700.3" x2="513.4" y2="700.3" stroke="#737373" stroke-width="1.2"/>
<text x="506.2" y="707.2" text-anchor="end" style="font-family:'DejaVu Sans',sans-serif;font-size:17.0px">0</text>
<line x1="509.4" y1="640.7" x2="513.4" y2="640.7" stroke="#737373" stroke-width="1.2"/>
<text x="506.2" y="647.6" text-anchor="end" style="font-family:'DejaVu Sans',sans-serif;font-size:17.0px">50</text>
<line x1="509.4" y1="581.1" x2="513.4" y2="581.1" stroke="#737373" stroke-width="1.2"/>
<text x="506.2" y="588" text-anchor="end" style="font-family:'DejaVu Sans',sans-serif;font-size:17.0px">100</text>
<line x1="509.4" y1="521.5" x2="513.4" y2="521.5" stroke="#737373" stroke-width="1.2"/>
<text x="506.2" y="528.4" text-anchor="end" style="font-family:'DejaVu Sans',sans-serif;font-size:17.0px">150</text>
<line x1="509.4" y1="461.9" x2="513.4" y2="461.9" stroke="#737373" stroke-width="1.2"/>
<text x="506.2" y="468.8" text-anchor="end" style="font-family:'DejaVu Sans',sans-serif;font-size:17.0px">200</text>
<line x1="509.4" y1="402.3" x2="513.4" y2="402.3" stroke="#737373" stroke-width="1.2"/>
<text x="506.2" y="409.2" text-anchor="end" style="font-family:'DejaVu Sans',sans-serif;font-size:17.0px">250</text>
<line x1="568.3" y1="703" x2="568.3" y2="707" stroke="#737373" stroke-width="1.2"/>
<text x="568.3" y="723.3" text-anchor="middle" style="font-family:'DejaVu Sans',sans-serif;font-size:17.0px">5</text>
<line x1="636.92" y1="703" x2="636.92" y2="707" stroke="#737373" stroke-width="1.2"/>
<text x="636.92" y="723.3" text-anchor="middle" style="font-family:'DejaVu Sans',sans-serif;font-size:17.0px">10</text>
<line x1="705.54" y1="703" x2="705.54" y2="707" stroke="#737373" stroke-width="1.2"/>
<text x="705.54" y="723.3" text-anchor="middle" style="font-family:'DejaVu Sans',sans-serif;font-size:17.0px">15</text>
<line x1="774.16" y1="703" x2="774.16" y2="707" stroke="#737373" stroke-width="1.2"/>
<text x="774.16" y="723.3" text-anchor="middle" style="font-family:'DejaVu Sans',sans-serif;font-size:17.0px">20</text>
<line x1="842.78" y1="703" x2="842.78" y2="707" stroke="#737373" stroke-width="1.2"/>
<text x="842.78" y="723.3" text-anchor="middle" style="font-family:'DejaVu Sans',sans-serif;font-size:17.0px">25</text>
<line x1="911.4" y1="703" x2="911.4" y2="707" stroke="#737373" stroke-width="1.2"/>
<text x="911.4" y="723.3" text-anchor="middle" style="font-family:'DejaVu Sans',sans-serif;font-size:17.0px">30</text>
<text x="712.4" y="745" text-anchor="middle" style="font-family:'DejaVu Sans',sans-serif;font-size:18.8px">Frequency (GHz)</text>
<text transform="translate(466.4,552.65) rotate(-90)" text-anchor="middle" style="font-family:'DejaVu Sans',sans-serif;font-size:18.8px">Delay (ps)</text>
<clipPath id="cp2"><rect x="513.4" y="402.3" width="398" height="300.7"/></clipPath>
<g clip-path="url(#cp2)" fill="none" stroke-width="1.8" stroke-linejoin="round">
<path transform="translate(513.4,0) scale(3.4310,0.1)" vector-effect="non-scaling-stroke" stroke="#1f77b4" d="M0 4897l1 4 1 -3 1 2 1 3 1 7 1 2 1 -3 1 -7 1 2 1 10 1 0 1 -2 1 -1 1 -4 1 -3 1 2 1 3 1 4 1 -2 1 0 1 4 1 -3 1 -1 1 2 1 -5 1 0 1 1 1 0 1 0 1 -2 1 2 1 1 1 1 1 1 1 -7 1 3 1 4 1 -2 1 4 1 1 1 -8 1 -4 1 5 1 1 1 -1 1 2 1 2 1 -5 1 1 1 1 1 -2 1 2 1 3 1 -3 1 -5 1 1 1 4 1 2 1 -1 1 -1 1 -2 1 2 1 4 1 -3 1 -1 1 3 1 2 1 2 1 -4 1 -1 1 0 1 0 1 -2 1 -4 1 2 1 2 1 -1 1 0 1 1 1 2 1 0 1 -5 1 0 1 2 1 -2 1 3 1 2 1 -1 1 1 1 0 1 -4 1 0 1 1 1 -1 1 1 1 3 1 0 1 0 1 -2 1 -3 1 1 1 -1 1 1 1 4 1 0 1 0 1 -2 1 -1 1 2 1 -2 1 -1 1 4 1 2 1 -1 1 -2 1 -2"/>
<path transform="translate(513.4,0) scale(3.4310,0.1)" vector-effect="non-scaling-stroke" stroke="#ff7f0e" d="M0 4933l1 0 1 -2 1 1 1 9 1 10 1 -2 1 2 1 -6 1 -2 1 4 1 7 1 5 1 -1 1 -6 1 -2 1 2 1 1 1 2 1 -6 1 3 1 8 1 -2 1 -1 1 -2 1 -2 1 0 1 2 1 4 1 -2 1 -5 1 1 1 2 1 1 1 -2 1 -2 1 5 1 1 1 -4 1 4 1 3 1 -9 1 -3 1 5 1 2 1 -4 1 1 1 4 1 -6 1 -1 1 3 1 -3 1 3 1 4 1 -3 1 -4 1 0 1 3 1 -2 1 1 1 0 1 -1 1 3 1 3 1 -3 1 -3 1 5 1 4 1 -1 1 -5 1 0 1 3 1 -1 1 -5 1 1 1 2 1 0 1 -2 1 1 1 0 1 2 1 1 1 -1 1 3 1 0 1 -2 1 -3 1 -2 1 1 1 2 1 1 1 -4 1 1 1 4 1 0 1 0 1 -2 1 2 1 0 1 -3 1 -1 1 -1 1 1 1 3 1 5 1 -1 1 -2 1 0 1 -4 1 -1 1 3 1 -1 1 0 1 2 1 0 1 1 1 0"/>
<path transform="translate(513.4,0) scale(3.4310,0.1)" vector-effect="non-scaling-stroke" stroke="#2ca02c" d="M0 5004l1 -1 1 -6 1 2 1 1 1 4 1 -2 1 -3 1 -6 1 3 1 6 1 -1 1 3 1 0 1 -9 1 0 1 3 1 -2 1 4 1 -1 1 2 1 4 1 -5 1 -1 1 2 1 -5 1 -1 1 4 1 1 1 -3 1 -4 1 3 1 4 1 1 1 1 1 -4 1 2 1 -1 1 1 1 3 1 1 1 -4 1 -4 1 2 1 1 1 0 1 2 1 2 1 -5 1 -1 1 2 1 -3 1 2 1 1 1 -3 1 0 1 0 1 1 1 2 1 -1 1 -2 1 -1 1 1 1 4 1 0 1 -2 1 2 1 2 1 -1 1 -3 1 1 1 1 1 -2 1 -1 1 -2 1 0 1 2 1 -1 1 0 1 2 1 2 1 1 1 -2 1 0 1 -1 1 -1 1 -1 1 -1 1 3 1 4 1 1 1 -5 1 -1 1 2 1 -1 1 0 1 2 1 3 1 -1 1 -3 1 -4 1 1 1 1 1 -2 1 3 1 1 1 1 1 -2 1 -3 1 2 1 0 1 -2 1 4 1 0 1 1 1 0 1 -1"/>
<path transform="translate(513.4,0) scale(3.4310,0.1)" vector-effect="non-scaling-stroke" stroke="#d62728" d="M0 5024l1 7 1 -9 1 1 1 10 1 7 1 3 1 1 1 -6 1 -1 1 4 1 1 1 0 1 0 1 -4 1 -1 1 4 1 0 1 2 1 -1 1 -2 1 4 1 -1 1 -1 1 1 1 -1 1 2 1 0 1 0 1 -2 1 -5 1 2 1 5 1 1 1 0 1 -3 1 0 1 0 1 3 1 4 1 -3 1 -5 1 -3 1 4 1 2 1 -2 1 3 1 0 1 -7 1 2 1 3 1 0 1 3 1 -1 1 -4 1 2 1 2 1 -2 1 -2 1 -2 1 -1 1 3 1 3 1 2 1 -2 1 -4 1 3 1 2 1 -2 1 -2 1 3 1 -1 1 -2 1 -1 1 -2 1 4 1 2 1 -3 1 -2 1 1 1 2 1 1 1 -1 1 -1 1 0 1 1 1 -2 1 0 1 2 1 1 1 2 1 -2 1 -1 1 2 1 -1 1 -1 1 3 1 2 1 -2 1 -7 1 -2 1 3 1 3 1 2 1 1 1 -1 1 -1 1 -1 1 -2 1 3 1 1 1 -1 1 2 1 2 1 -1 1 -1 1 -2"/>
<path transform="translate(513.4,0) scale(3.4310,0.1)" vector-effect="non-scaling-stroke" stroke="#9467bd" d="M0 5061l1 5 1 -2 1 -1 1 10 1 10 1 0 1 2 1 -6 1 -3 1 6 1 1 1 7 1 3 1 -11 1 -3 1 2 1 2 1 7 1 -2 1 -2 1 3 1 0 1 0 1 0 1 -1 1 1 1 -4 1 -4 1 1 1 -2 1 4 1 5 1 3 1 -3 1 -5 1 1 1 -1 1 3 1 5 1 -1 1 -6 1 -1 1 5 1 0 1 -5 1 4 1 2 1 -7 1 0 1 3 1 -2 1 1 1 4 1 -2 1 2 1 1 1 -4 1 -1 1 2 1 -2 1 1 1 3 1 1 1 -2 1 -3 1 2 1 0 1 2 1 -2 1 1 1 5 1 -4 1 -5 1 1 1 2 1 1 1 -3 1 -5 1 4 1 7 1 -1 1 -5 1 0 1 1 1 -4 1 1 1 2 1 2 1 3 1 0 1 -5 1 0 1 4 1 -4 1 0 1 5 1 0 1 -1 1 -4 1 -3 1 2 1 0 1 0 1 3 1 1 1 2 1 -2 1 -3 1 2 1 -1 1 1 1 5 1 -1 1 -2 1 -1 1 -1"/>
<path transform="translate(513.4,0) scale(3.4310,0.1)" vector-effect="non-scaling-stroke" stroke="#8c564b" d="M0 5128l1 3 1 -4 1 1 1 0 1 2 1 2 1 -4 1 -4 1 1 1 4 1 2 1 3 1 1 1 -3 1 -3 1 -2 1 3 1 0 1 -1 1 4 1 1 1 -2 1 3 1 -1 1 -7 1 5 1 -1 1 0 1 2 1 -5 1 2 1 4 1 0 1 0 1 -4 1 1 1 0 1 0 1 5 1 2 1 -6 1 -6 1 2 1 3 1 -1 1 3 1 1 1 -7 1 1 1 2 1 0 1 1 1 2 1 -2 1 -3 1 -4 1 1 1 5 1 1 1 -2 1 0 1 4 1 2 1 -1 1 -5 1 -1 1 6 1 2 1 -3 1 1 1 0 1 -4 1 -2 1 1 1 2 1 1 1 -1 1 -2 1 -1 1 2 1 3 1 -1 1 -2 1 -3 1 2 1 3 1 -2 1 -2 1 3 1 2 1 -5 1 -1 1 3 1 0 1 0 1 1 1 1 1 0 1 -2 1 -1 1 2 1 1 1 2 1 0 1 -1 1 -1 1 -4 1 0 1 4 1 -1 1 0 1 6 1 -3 1 -3 1 0 1 -1"/>
<path transform="translate(513.4,0) scale(3.4310,0.1)" vector-effect="non-scaling-stroke" stroke="#e377c2" d="M0 5178l1 0 1 -6 1 0 1 4 1 8 1 -5 1 -5 1 -2 1 1 1 5 1 -1 1 3 1 1 1 -1 1 -1 1 -3 1 -3 1 5 1 -2 1 -2 1 6 1 -1 1 -3 1 1 1 -5 1 0 1 3 1 1 1 -2 1 -2 1 5 1 -1 1 1 1 0 1 -6 1 4 1 0 1 -1 1 2 1 2 1 -3 1 -3 1 1 1 -1 1 2 1 4 1 1 1 -6 1 -1 1 1 1 1 1 2 1 -2 1 0 1 0 1 1 1 1 1 -2 1 1 1 -2 1 -2 1 2 1 3 1 -1 1 -4 1 2 1 5 1 2 1 -5 1 -1 1 0 1 1 1 1 1 -4 1 3 1 2 1 -5 1 -4 1 5 1 3 1 -1 1 -2 1 1 1 0 1 0 1 2 1 -2 1 -1 1 0 1 2 1 0 1 2 1 0 1 -3 1 -1 1 4 1 0 1 -2 1 -2 1 -2 1 4 1 -2 1 3 1 4 1 -4 1 0 1 -3 1 -1 1 3 1 -2 1 -1 1 5 1 1 1 1 1 -2 1 -4"/>
<path transform="translate(513.4,0) scale(3.4310,0.1)" vector-effect="non-scaling-stroke" stroke="#7f7f7f" d="M0 5207l1 2 1 -1 1 1 1 0 1 10 1 0 1 -1 1 -4 1 -6 1 4 1 4 1 3 1 1 1 -4 1 -3 1 -1 1 3 1 6 1 -4 1 7 1 8 1 -8 1 -5 1 3 1 -5 1 -1 1 2 1 -1 1 -4 1 -1 1 6 1 2 1 -1 1 2 1 -4 1 3 1 -1 1 -2 1 3 1 1 1 -2 1 -2 1 1 1 1 1 -3 1 1 1 6 1 -8 1 -1 1 5 1 -1 1 1 1 0 1 -3 1 1 1 1 1 0 1 -1 1 4 1 1 1 -4 1 2 1 3 1 -3 1 -5 1 4 1 4 1 -2 1 -3 1 2 1 -1 1 -2 1 2 1 0 1 0 1 2 1 -4 1 -3 1 4 1 2 1 0 1 -1 1 0 1 -1 1 0 1 1 1 -1 1 1 1 3 1 -1 1 -6 1 3 1 3 1 -3 1 0 1 2 1 3 1 -3 1 -3 1 -1 1 2 1 3 1 -2 1 0 1 2 1 -1 1 -1 1 -1 1 3 1 1 1 -3 1 2 1 -2 1 2 1 -1 1 -2"/>
<path transform="translate(513.4,0) scale(3.4310,0.1)" vector-effect="non-scaling-stroke" stroke="#bcbd22" d="M0 5267l1 -3 1 -11 1 3 1 4 1 9 1 -4 1 -4 1 -7 1 -1 1 14 1 1 1 -2 1 2 1 -7 1 -2 1 2 1 0 1 6 1 -5 1 1 1 5 1 -5 1 0 1 2 1 -4 1 2 1 -1 1 0 1 -1 1 -2 1 4 1 1 1 1 1 1 1 -4 1 1 1 1 1 0 1 0 1 1 1 -1 1 -2 1 -1 1 2 1 -1 1 1 1 2 1 -5 1 2 1 3 1 -2 1 0 1 0 1 -1 1 0 1 0 1 3 1 1 1 -1 1 -3 1 -1 1 2 1 5 1 -2 1 -6 1 5 1 4 1 0 1 -6 1 -1 1 4 1 -2 1 -2 1 0 1 0 1 0 1 -1 1 -3 1 4 1 2 1 -1 1 -1 1 1 1 0 1 -3 1 3 1 -3 1 -1 1 4 1 2 1 -6 1 1 1 4 1 -3 1 -2 1 5 1 4 1 -2 1 -4 1 -4 1 1 1 3 1 3 1 -1 1 -1 1 2 1 -3 1 1 1 1 1 -2 1 -1 1 5 1 1 1 0 1 -2 1 -2"/>
<path transform="translate(513.4,0) scale(3.4310,0.1)" vector-effect="non-scaling-stroke" stroke="#17becf" d="M0 5287l1 1 1 3 1 4 1 -2 1 8 1 2 1 -5 1 -1 1 2 1 6 1 4 1 4 1 -1 1 -6 1 -2 1 3 1 1 1 4 1 -7 1 3 1 9 1 -7 1 0 1 1 1 -7 1 3 1 1 1 0 1 -1 1 -5 1 4 1 0 1 1 1 -1 1 -3 1 6 1 0 1 -2 1 5 1 -1 1 -6 1 -1 1 4 1 1 1 -3 1 3 1 2 1 -4 1 -1 1 2 1 2 1 1 1 0 1 -5 1 0 1 1 1 1 1 -2 1 -2 1 -1 1 0 1 4 1 4 1 -1 1 -6 1 5 1 5 1 0 1 -3 1 -1 1 1 1 -1 1 -3 1 -2 1 3 1 2 1 -3 1 -3 1 3 1 2 1 -1 1 -2 1 1 1 -2 1 -3 1 3 1 2 1 -2 1 2 1 2 1 -5 1 3 1 4 1 -2 1 0 1 2 1 -1 1 -6 1 -2 1 1 1 1 1 0 1 1 1 1 1 2 1 1 1 -3 1 1 1 3 1 -2 1 -3 1 5 1 -1 1 -3 1 2 1 0"/>
<path transform="translate(513.4,0) scale(3.4310,0.1)" vector-effect="non-scaling-stroke" stroke="#1f77b4" d="M0 5336l1 5 1 0 1 -2 1 6 1 9 1 -7 1 -1 1 -4 1 -2 1 7 1 3 1 5 1 1 1 -4 1 -5 1 -1 1 2 1 6 1 -2 1 0 1 3 1 -3 1 0 1 4 1 -5 1 -1 1 1 1 0 1 -3 1 -3 1 3 1 1 1 3 1 -1 1 -2 1 4 1 1 1 0 1 1 1 0 1 -5 1 -3 1 7 1 2 1 -3 1 2 1 0 1 -6 1 -2 1 6 1 -1 1 0 1 3 1 -3 1 -3 1 2 1 2 1 -4 1 -1 1 4 1 0 1 0 1 4 1 -2 1 -3 1 1 1 3 1 3 1 -4 1 -1 1 0 1 -3 1 0 1 0 1 2 1 -2 1 -1 1 -1 1 1 1 5 1 1 1 -3 1 0 1 -1 1 -3 1 0 1 1 1 1 1 -1 1 3 1 -2 1 -1 1 4 1 -3 1 0 1 2 1 0 1 -1 1 -1 1 -2 1 2 1 1 1 2 1 0 1 -3 1 -1 1 -2 1 2 1 2 1 -1 1 1 1 1 1 0 1 2 1 -2 1 -1"/>
<path transform="translate(513.4,0) scale(3.4310,0.1)" vector-effect="non-scaling-stroke" stroke="#ff7f0e" d="M0 5391l1 3 1 -7 1 -5 1 8 1 11 1 -2 1 0 1 -5 1 -4 1 5 1 6 1 2 1 -4 1 -2 1 0 1 -3 1 -3 1 8 1 0 1 -2 1 5 1 -2 1 -2 1 1 1 -1 1 4 1 -2 1 -4 1 -3 1 1 1 2 1 -1 1 2 1 1 1 -4 1 0 1 1 1 1 1 2 1 2 1 -3 1 -4 1 2 1 2 1 -3 1 2 1 1 1 -3 1 0 1 2 1 1 1 1 1 -2 1 -4 1 2 1 3 1 0 1 -1 1 -2 1 0 1 3 1 1 1 2 1 -2 1 -5 1 0 1 5 1 3 1 -2 1 -1 1 -1 1 -2 1 -2 1 0 1 1 1 1 1 0 1 -1 1 3 1 4 1 -1 1 -5 1 -2 1 1 1 1 1 1 1 -1 1 -2 1 4 1 0 1 -5 1 4 1 3 1 -5 1 1 1 3 1 -1 1 -4 1 -3 1 2 1 4 1 -2 1 2 1 3 1 0 1 -3 1 -5 1 1 1 3 1 1 1 0 1 1 1 0 1 0 1 0 1 0"/>
<path transform="translate(513.4,0) scale(3.4310,0.1)" vector-effect="non-scaling-stroke" stroke="#2ca02c" d="M0 5411l1 5 1 -1 1 7 1 3 1 8 1 1 1 0 1 1 1 -4 1 3 1 3 1 6 1 -1 1 -3 1 1 1 0 1 1 1 0 1 -4 1 2 1 4 1 1 1 1 1 0 1 -5 1 0 1 2 1 -1 1 -4 1 -2 1 6 1 2 1 -1 1 -1 1 -4 1 3 1 0 1 -1 1 5 1 4 1 -8 1 -2 1 2 1 1 1 0 1 1 1 3 1 -8 1 0 1 4 1 -4 1 1 1 4 1 -3 1 -3 1 1 1 0 1 2 1 0 1 -3 1 0 1 3 1 8 1 -1 1 -9 1 3 1 6 1 -2 1 -5 1 -1 1 4 1 0 1 -5 1 2 1 3 1 -3 1 -4 1 0 1 6 1 4 1 -2 1 -3 1 1 1 -5 1 -1 1 5 1 0 1 -1 1 2 1 1 1 -5 1 0 1 6 1 -2 1 -3 1 3 1 1 1 -3 1 -1 1 0 1 -2 1 -1 1 3 1 2 1 0 1 3 1 -3 1 -3 1 2 1 0 1 0 1 3 1 0 1 -1 1 0 1 -2"/>
<path transform="translate(513.4,0) scale(3.4310,0.1)" vector-effect="non-scaling-stroke" stroke="#d62728" d="M0 5487l1 -3 1 -12 1 1 1 6 1 11 1 -1 1 -6 1 -2 1 -2 1 3 1 3 1 4 1 0 1 -3 1 -4 1 -1 1 5 1 0 1 -7 1 4 1 4 1 -2 1 2 1 -2 1 0 1 1 1 -3 1 1 1 0 1 -3 1 3 1 4 1 0 1 -1 1 -5 1 2 1 4 1 -2 1 2 1 -1 1 -5 1 -2 1 5 1 0 1 -2 1 1 1 3 1 -3 1 -2 1 -1 1 1 1 2 1 1 1 0 1 -1 1 0 1 1 1 2 1 -1 1 -4 1 -1 1 3 1 6 1 -1 1 -6 1 3 1 5 1 -1 1 -5 1 0 1 1 1 -2 1 -2 1 3 1 1 1 -1 1 -3 1 -1 1 3 1 2 1 -1 1 -3 1 0 1 0 1 -1 1 1 1 0 1 0 1 2 1 -1 1 -4 1 4 1 4 1 -3 1 -1 1 3 1 4 1 -3 1 -3 1 -1 1 -1 1 -1 1 0 1 2 1 2 1 2 1 -2 1 -2 1 3 1 0 1 -3 1 2 1 0 1 2 1 0 1 -2"/>
<path transform="translate(513.4,0) scale(3.4310,0.1)" vector-effect="non-scaling-stroke" stroke="#9467bd" d="M0 5529l1 -3 1 -6 1 0 1 5 1 5 1 0 1 -1 1 -7 1 1 1 5 1 1 1 3 1 -1 1 -3 1 -1 1 0 1 1 1 3 1 -3 1 3 1 6 1 -4 1 -3 1 0 1 -2 1 2 1 1 1 1 1 -3 1 -2 1 5 1 0 1 -2 1 -1 1 -2 1 0 1 0 1 3 1 1 1 -2 1 -1 1 -4 1 2 1 2 1 -1 1 4 1 0 1 -7 1 3 1 4 1 -4 1 1 1 2 1 -4 1 0 1 3 1 0 1 -2 1 -1 1 -2 1 -1 1 3 1 3 1 0 1 -4 1 0 1 4 1 1 1 -4 1 3 1 1 1 -3 1 -1 1 0 1 1 1 0 1 0 1 -2 1 1 1 4 1 2 1 -2 1 0 1 -2 1 -3 1 -1 1 0 1 0 1 2 1 1 1 -2 1 2 1 2 1 -2 1 1 1 3 1 1 1 -1 1 -4 1 -2 1 1 1 0 1 1 1 2 1 1 1 1 1 0 1 0 1 -2 1 -1 1 1 1 -1 1 1 1 0 1 -3 1 -1"/>
<path transform="translate(513.4,0) scale(3.4310,0.1)" vector-effect="non-scaling-stroke" stroke="#8c564b" d="M0 5529l1 10 1 1 1 2 1 10 1 13 1 -5 1 -1 1 0 1 0 1 8 1 3 1 3 1 3 1 -1 1 -3 1 -2 1 -3 1 2 1 -4 1 2 1 10 1 0 1 -2 1 3 1 -3 1 -5 1 -1 1 1 1 0 1 0 1 3 1 2 1 -2 1 -4 1 0 1 5 1 0 1 0 1 4 1 0 1 -7 1 -3 1 5 1 2 1 -1 1 1 1 1 1 -5 1 0 1 3 1 -1 1 3 1 -2 1 -5 1 1 1 -1 1 1 1 2 1 -1 1 -2 1 -1 1 3 1 5 1 -1 1 -6 1 5 1 5 1 -2 1 -3 1 1 1 1 1 -3 1 -1 1 0 1 3 1 1 1 -2 1 -2 1 1 1 2 1 0 1 -2 1 -3 1 -1 1 3 1 2 1 -1 1 -1 1 2 1 2 1 -7 1 0 1 6 1 -3 1 0 1 0 1 1 1 -1 1 1 1 -1 1 -3 1 -1 1 2 1 5 1 -1 1 -1 1 1 1 -1 1 -1 1 -2 1 -1 1 6 1 -3 1 1 1 3 1 -2"/>
<path transform="translate(513.4,0) scale(3.4310,0.1)" vector-effect="non-scaling-stroke" stroke="#e377c2" d="M0 5585l1 5 1 -1 1 3 1 6 1 14 1 0 1 -6 1 -2 1 1 1 6 1 1 1 2 1 3 1 -1 1 0 1 2 1 -2 1 2 1 -4 1 0 1 6 1 -2 1 -2 1 2 1 -3 1 1 1 2 1 -1 1 -2 1 -3 1 2 1 2 1 1 1 2 1 -5 1 1 1 2 1 0 1 2 1 -1 1 -3 1 0 1 4 1 -1 1 -4 1 2 1 3 1 -7 1 1 1 4 1 -1 1 2 1 0 1 -4 1 1 1 2 1 1 1 -3 1 0 1 2 1 -3 1 3 1 7 1 -2 1 -6 1 2 1 3 1 0 1 -4 1 1 1 2 1 -3 1 -4 1 0 1 2 1 5 1 0 1 -5 1 0 1 5 1 0 1 -5 1 2 1 0 1 -2 1 2 1 -1 1 -1 1 4 1 1 1 -5 1 1 1 3 1 -3 1 -1 1 0 1 4 1 -1 1 -5 1 -1 1 4 1 0 1 -2 1 3 1 1 1 -1 1 -1 1 -1 1 2 1 -2 1 -1 1 5 1 -2 1 1 1 1 1 -4"/>
<path transform="translate(513.4,0) scale(3.4310,0.1)" vector-effect="non-scaling-stroke" stroke="#7f7f7f" d="M0 5631l1 3 1 0 1 1 1 4 1 8 1 4 1 2 1 -7 1 1 1 10 1 2 1 4 1 4 1 -7 1 -1 1 0 1 -1 1 4 1 -4 1 1 1 6 1 -1 1 -2 1 0 1 -5 1 0 1 1 1 2 1 2 1 -5 1 0 1 4 1 1 1 -3 1 -2 1 3 1 0 1 3 1 4 1 -1 1 -6 1 -2 1 4 1 1 1 -2 1 1 1 0 1 -6 1 1 1 4 1 -2 1 2 1 -1 1 0 1 2 1 -2 1 -1 1 2 1 0 1 -4 1 0 1 6 1 4 1 -2 1 -6 1 2 1 3 1 -1 1 -1 1 0 1 3 1 -3 1 -5 1 1 1 2 1 2 1 -2 1 -6 1 5 1 4 1 -2 1 1 1 3 1 -2 1 -4 1 0 1 1 1 -1 1 1 1 2 1 -4 1 0 1 5 1 -4 1 -1 1 5 1 1 1 -3 1 -1 1 0 1 0 1 2 1 -1 1 1 1 0 1 -1 1 -3 1 -2 1 6 1 1 1 -1 1 2 1 -2 1 0 1 -1 1 -1"/>
<path transform="translate(513.4,0) scale(3.4310,0.1)" vector-effect="non-scaling-stroke" stroke="#bcbd22" d="M0 5687l1 3 1 -5 1 -1 1 7 1 14 1 2 1 -5 1 -2 1 0 1 2 1 3 1 5 1 -4 1 -7 1 1 1 1 1 -1 1 6 1 -6 1 1 1 11 1 -3 1 -2 1 2 1 -3 1 -3 1 0 1 2 1 -3 1 -3 1 4 1 2 1 2 1 -1 1 -3 1 2 1 2 1 0 1 1 1 0 1 -2 1 -2 1 2 1 0 1 -2 1 2 1 3 1 -6 1 1 1 6 1 -3 1 0 1 2 1 -3 1 -2 1 1 1 1 1 -1 1 1 1 0 1 -3 1 0 1 4 1 -3 1 -3 1 4 1 4 1 0 1 -3 1 1 1 -1 1 -1 1 0 1 -2 1 2 1 2 1 -2 1 -3 1 4 1 2 1 0 1 -2 1 -1 1 0 1 -1 1 0 1 0 1 -1 1 2 1 2 1 -3 1 1 1 3 1 -5 1 -1 1 4 1 2 1 0 1 -1 1 -2 1 0 1 1 1 3 1 -1 1 -2 1 2 1 -5 1 -3 1 5 1 -1 1 0 1 2 1 1 1 3 1 -1 1 -3"/>
<path transform="translate(513.4,0) scale(3.4310,0.1)" vector-effect="non-scaling-stroke" stroke="#17becf" d="M0 5723l1 8 1 -6 1 -2 1 4 1 11 1 -1 1 2 1 -1 1 -3 1 8 1 6 1 2 1 2 1 -2 1 -2 1 2 1 -1 1 3 1 -7 1 -4 1 8 1 0 1 2 1 -1 1 -5 1 2 1 1 1 -1 1 0 1 -2 1 4 1 3 1 -2 1 -1 1 -2 1 1 1 0 1 0 1 5 1 2 1 -8 1 0 1 4 1 -1 1 -2 1 4 1 -1 1 -6 1 1 1 3 1 -1 1 -1 1 1 1 1 1 0 1 -2 1 2 1 -1 1 0 1 -2 1 -2 1 3 1 3 1 2 1 -4 1 0 1 3 1 0 1 -2 1 0 1 0 1 -1 1 0 1 1 1 0 1 -1 1 -1 1 0 1 0 1 4 1 2 1 -4 1 2 1 -1 1 -3 1 -1 1 -3 1 2 1 3 1 0 1 -3 1 3 1 2 1 -4 1 2 1 2 1 2 1 -2 1 -4 1 -3 1 3 1 3 1 1 1 1 1 0 1 -3 1 -5 1 0 1 6 1 -1 1 1 1 5 1 -5 1 -1 1 3 1 0"/>
<path transform="translate(513.4,0) scale(3.4310,0.1)" vector-effect="non-scaling-stroke" stroke="#1f77b4" d="M0 5770l1 7 1 -4 1 1 1 10 1 6 1 -1 1 3 1 -4 1 -3 1 6 1 2 1 1 1 0 1 -3 1 1 1 4 1 2 1 -2 1 -10 1 4 1 12 1 -5 1 -3 1 3 1 -4 1 2 1 1 1 -4 1 -3 1 -2 1 6 1 1 1 -1 1 0 1 -1 1 3 1 -2 1 1 1 5 1 -1 1 -6 1 -3 1 3 1 3 1 -1 1 3 1 2 1 -7 1 0 1 1 1 0 1 2 1 0 1 -4 1 -1 1 3 1 0 1 0 1 1 1 -4 1 -2 1 2 1 4 1 0 1 -3 1 4 1 3 1 -1 1 -4 1 0 1 3 1 0 1 -4 1 -2 1 3 1 1 1 -4 1 -1 1 5 1 3 1 -1 1 -4 1 2 1 2 1 -2 1 -2 1 0 1 1 1 1 1 2 1 -4 1 -1 1 5 1 -1 1 -2 1 2 1 2 1 -2 1 -4 1 0 1 2 1 -1 1 0 1 0 1 2 1 0 1 -4 1 0 1 3 1 -1 1 -2 1 5 1 1 1 -1 1 1 1 -4"/>
<path transform="translate(513.4,0) scale(3.4310,0.1)" vector-effect="non-scaling-stroke" stroke="#ff7f0e" d="M0 5817l1 6 1 -6 1 3 1 3 1 7 1 3 1 -1 1 -9 1 0 1 11 1 0 1 3 1 5 1 -2 1 -5 1 -1 1 2 1 2 1 -3 1 3 1 7 1 -5 1 -2 1 0 1 -3 1 4 1 1 1 -3 1 -1 1 -2 1 -1 1 4 1 2 1 1 1 -1 1 2 1 -1 1 -2 1 4 1 -1 1 -5 1 -1 1 3 1 3 1 -2 1 -2 1 2 1 -4 1 0 1 3 1 -3 1 3 1 3 1 -2 1 -4 1 1 1 1 1 1 1 2 1 -3 1 -3 1 3 1 5 1 -2 1 -4 1 2 1 3 1 4 1 -4 1 -2 1 2 1 -3 1 -2 1 0 1 0 1 1 1 1 1 -1 1 -1 1 3 1 3 1 -3 1 -2 1 0 1 -2 1 2 1 1 1 -1 1 1 1 4 1 -4 1 0 1 2 1 -6 1 -1 1 3 1 4 1 -2 1 -3 1 -1 1 2 1 2 1 0 1 -2 1 0 1 0 1 -5 1 3 1 5 1 -1 1 0 1 2 1 0 1 -1 1 -2 1 -1"/>
<path transform="translate(513.4,0) scale(3.4310,0.1)" vector-effect="non-scaling-stroke" stroke="#2ca02c" d="M0 5868l1 3 1 -5 1 0 1 4 1 11 1 0 1 -7 1 -4 1 5 1 4 1 1 1 10 1 0 1 -9 1 -3 1 0 1 1 1 4 1 0 1 2 1 3 1 -5 1 1 1 3 1 -6 1 3 1 3 1 -3 1 -4 1 -3 1 7 1 2 1 -1 1 -1 1 -5 1 3 1 0 1 0 1 3 1 -2 1 -4 1 -2 1 4 1 1 1 -2 1 4 1 2 1 -7 1 2 1 2 1 -3 1 1 1 2 1 -1 1 0 1 -2 1 0 1 0 1 1 1 1 1 -2 1 3 1 5 1 -4 1 -4 1 1 1 4 1 2 1 -4 1 0 1 2 1 -2 1 -3 1 1 1 1 1 -2 1 -1 1 -1 1 2 1 4 1 -2 1 0 1 3 1 -1 1 -1 1 -1 1 -5 1 -1 1 4 1 0 1 -2 1 2 1 2 1 -3 1 1 1 2 1 4 1 -1 1 -5 1 -2 1 2 1 2 1 0 1 1 1 -1 1 0 1 -2 1 1 1 3 1 -2 1 0 1 3 1 -1 1 2 1 -2 1 -2"/>
<path transform="translate(513.4,0) scale(3.4310,0.1)" vector-effect="non-scaling-stroke" stroke="#d62728" d="M0 5924l1 2 1 -14 1 3 1 9 1 4 1 -2 1 -1 1 1 1 -5 1 4 1 5 1 2 1 2 1 -5 1 -6 1 -1 1 4 1 2 1 -4 1 2 1 5 1 -3 1 -1 1 3 1 -5 1 0 1 2 1 -3 1 -1 1 -2 1 2 1 2 1 4 1 -2 1 -5 1 6 1 0 1 -4 1 2 1 5 1 -3 1 -6 1 4 1 3 1 -3 1 -1 1 2 1 -5 1 1 1 5 1 -3 1 -1 1 4 1 -2 1 -3 1 2 1 1 1 0 1 0 1 -1 1 0 1 2 1 4 1 -1 1 -4 1 2 1 2 1 1 1 -4 1 -4 1 1 1 2 1 -2 1 -1 1 3 1 2 1 -3 1 -4 1 2 1 5 1 2 1 -2 1 -2 1 -3 1 1 1 2 1 -1 1 1 1 1 1 0 1 -3 1 3 1 1 1 -4 1 0 1 3 1 3 1 -3 1 -3 1 1 1 0 1 -1 1 2 1 1 1 -2 1 2 1 -1 1 -2 1 1 1 -1 1 2 1 5 1 -3 1 -1 1 0 1 -2"/>
<path transform="translate(513.4,0) scale(3.4310,0.1)" vector-effect="non-scaling-stroke" stroke="#9467bd" d="M0 5942l1 4 1 -3 1 3 1 0 1 15 1 4 1 -2 1 -4 1 -1 1 9 1 5 1 -1 1 -2 1 -1 1 2 1 -3 1 -3 1 5 1 0 1 2 1 5 1 -3 1 -3 1 0 1 -2 1 3 1 2 1 -1 1 -3 1 -3 1 4 1 1 1 0 1 -2 1 -2 1 5 1 0 1 -3 1 3 1 3 1 -5 1 -3 1 2 1 3 1 -1 1 0 1 0 1 -6 1 1 1 4 1 0 1 0 1 2 1 -2 1 1 1 1 1 -1 1 1 1 -2 1 -2 1 1 1 1 1 5 1 -3 1 -5 1 4 1 4 1 1 1 -5 1 0 1 2 1 -2 1 -4 1 0 1 4 1 1 1 -5 1 -5 1 5 1 4 1 2 1 -2 1 -1 1 0 1 -1 1 2 1 -2 1 -1 1 5 1 1 1 -8 1 2 1 5 1 -2 1 -1 1 2 1 4 1 -3 1 -7 1 -1 1 5 1 0 1 -1 1 0 1 1 1 4 1 -3 1 -3 1 1 1 -1 1 2 1 5 1 -2 1 -1 1 -1 1 -1"/>
<path transform="translate(513.4,0) scale(3.4310,0.1)" vector-effect="non-scaling-stroke" stroke="#8c564b" d="M0 6010l1 0 1 -10 1 1 1 5 1 10 1 4 1 -3 1 -6 1 -1 1 6 1 1 1 2 1 -1 1 -4 1 -1 1 -2 1 1 1 4 1 -3 1 1 1 5 1 -2 1 -2 1 -1 1 -4 1 3 1 4 1 0 1 -4 1 -4 1 3 1 4 1 -1 1 -1 1 -2 1 0 1 4 1 0 1 2 1 2 1 -3 1 -2 1 0 1 0 1 -1 1 3 1 2 1 -7 1 2 1 5 1 -4 1 -1 1 2 1 -2 1 -2 1 -1 1 2 1 2 1 -4 1 -1 1 0 1 5 1 4 1 -4 1 0 1 1 1 0 1 0 1 -4 1 1 1 4 1 -1 1 -3 1 -1 1 3 1 1 1 -4 1 -2 1 0 1 2 1 4 1 1 1 0 1 0 1 -3 1 0 1 1 1 -1 1 0 1 1 1 -2 1 -1 1 3 1 -2 1 -1 1 4 1 2 1 -2 1 -4 1 -3 1 4 1 0 1 1 1 2 1 -2 1 2 1 -1 1 -1 1 1 1 0 1 -1 1 3 1 0 1 0 1 1 1 -2"/>
<path transform="translate(513.4,0) scale(3.4310,0.1)" vector-effect="non-scaling-stroke" stroke="#e377c2" d="M0 6066l1 2 1 -11 1 -6 1 3 1 6 1 -4 1 -1 1 -6 1 0 1 10 1 2 1 -1 1 1 1 -2 1 1 1 -1 1 -2 1 5 1 -3 1 -2 1 6 1 -3 1 -2 1 5 1 -3 1 -2 1 -1 1 -2 1 3 1 -1 1 -1 1 1 1 0 1 2 1 -1 1 3 1 -1 1 0 1 2 1 -2 1 -4 1 1 1 5 1 -3 1 0 1 3 1 0 1 -7 1 0 1 3 1 0 1 1 1 1 1 -3 1 -1 1 1 1 2 1 0 1 -2 1 -1 1 -2 1 3 1 3 1 0 1 -3 1 2 1 3 1 2 1 -3 1 -2 1 3 1 -2 1 -1 1 -2 1 0 1 0 1 -1 1 1 1 1 1 4 1 1 1 -4 1 1 1 -2 1 -1 1 -1 1 -1 1 3 1 1 1 2 1 -4 1 1 1 5 1 -6 1 0 1 4 1 2 1 -2 1 -6 1 0 1 4 1 -1 1 2 1 2 1 -4 1 0 1 0 1 0 1 2 1 0 1 -2 1 1 1 -1 1 2 1 2 1 -4"/>
<path transform="translate(513.4,0) scale(3.4310,0.1)" vector-effect="non-scaling-stroke" stroke="#7f7f7f" d="M0 6104l1 2 1 -5 1 0 1 -1 1 8 1 3 1 -4 1 -8 1 -1 1 5 1 0 1 5 1 0 1 -3 1 -1 1 -2 1 -1 1 4 1 -5 1 2 1 6 1 -3 1 0 1 1 1 -3 1 1 1 -1 1 0 1 -4 1 -3 1 6 1 3 1 0 1 1 1 -2 1 1 1 -2 1 2 1 3 1 -2 1 -4 1 -1 1 1 1 2 1 -1 1 -1 1 4 1 -4 1 -2 1 3 1 0 1 1 1 2 1 -3 1 -2 1 1 1 3 1 0 1 -2 1 -2 1 -1 1 2 1 6 1 2 1 -7 1 -2 1 6 1 2 1 -5 1 -2 1 1 1 -2 1 -1 1 1 1 1 1 2 1 -3 1 -3 1 2 1 4 1 1 1 -2 1 1 1 1 1 0 1 -3 1 -1 1 1 1 3 1 0 1 -7 1 3 1 4 1 -4 1 -1 1 2 1 5 1 -1 1 -6 1 -2 1 3 1 0 1 1 1 1 1 2 1 1 1 -4 1 -2 1 3 1 -3 1 0 1 5 1 0 1 1 1 0 1 -2"/>
<path transform="translate(513.4,0) scale(3.4310,0.1)" vector-effect="non-scaling-stroke" stroke="#bcbd22" d="M0 6140l1 2 1 -4 1 -3 1 5 1 7 1 -1 1 2 1 -7 1 -2 1 9 1 -4 1 2 1 2 1 -3 1 0 1 0 1 1 1 4 1 -2 1 -1 1 7 1 -1 1 -4 1 1 1 -2 1 2 1 -2 1 -1 1 -1 1 -3 1 1 1 2 1 6 1 -2 1 -5 1 2 1 3 1 -2 1 1 1 2 1 -2 1 -4 1 1 1 0 1 0 1 4 1 1 1 -6 1 0 1 3 1 0 1 0 1 0 1 -2 1 1 1 0 1 1 1 0 1 -1 1 1 1 -1 1 -2 1 4 1 -1 1 -4 1 3 1 6 1 -1 1 -7 1 1 1 2 1 -1 1 -2 1 0 1 2 1 1 1 -2 1 -1 1 1 1 3 1 4 1 -3 1 0 1 -3 1 -4 1 2 1 1 1 2 1 1 1 0 1 -4 1 1 1 2 1 -3 1 1 1 6 1 0 1 -3 1 -4 1 -3 1 0 1 2 1 2 1 -1 1 1 1 1 1 -2 1 -1 1 4 1 0 1 -1 1 3 1 -2 1 1 1 -1 1 -4"/>
<path transform="translate(513.4,0) scale(3.4310,0.1)" vector-effect="non-scaling-stroke" stroke="#17becf" d="M0 6190l1 2 1 -7 1 -4 1 5 1 7 1 1 1 -1 1 -8 1 -1 1 7 1 4 1 1 1 0 1 -3 1 -5 1 1 1 2 1 -1 1 -4 1 5 1 6 1 -4 1 -2 1 2 1 -3 1 2 1 -1 1 -1 1 -1 1 -1 1 2 1 3 1 3 1 -4 1 -2 1 3 1 -1 1 1 1 2 1 -1 1 -3 1 -2 1 1 1 0 1 0 1 4 1 2 1 -6 1 -1 1 1 1 -1 1 1 1 1 1 0 1 -1 1 -1 1 2 1 2 1 -3 1 -1 1 -3 1 1 1 6 1 1 1 -4 1 1 1 4 1 0 1 -3 1 -1 1 0 1 -2 1 -1 1 3 1 1 1 -2 1 -1 1 -1 1 2 1 3 1 1 1 -2 1 1 1 -1 1 -1 1 1 1 -3 1 1 1 2 1 0 1 -3 1 0 1 5 1 -3 1 1 1 3 1 0 1 -4 1 -5 1 2 1 2 1 -1 1 2 1 1 1 -2 1 2 1 -1 1 -2 1 3 1 0 1 -2 1 4 1 0 1 0 1 -2 1 -3"/>
<path transform="translate(513.4,0) scale(3.4310,0.1)" vector-effect="non-scaling-stroke" stroke="#1f77b4" d="M0 6229l1 2 1 -5 1 -4 1 6 1 10 1 0 1 0 1 -11 1 -5 1 14 1 3 1 0 1 -1 1 -5 1 0 1 1 1 0 1 3 1 -3 1 1 1 5 1 -1 1 -1 1 0 1 -3 1 0 1 1 1 1 1 -2 1 -4 1 3 1 3 1 -1 1 2 1 -3 1 1 1 1 1 -1 1 2 1 -1 1 -5 1 -2 1 5 1 2 1 -2 1 -1 1 2 1 -4 1 1 1 2 1 -1 1 2 1 4 1 -3 1 -4 1 0 1 4 1 1 1 -1 1 -4 1 -3 1 6 1 3 1 -1 1 -4 1 1 1 5 1 0 1 -4 1 -1 1 1 1 1 1 -1 1 -2 1 -2 1 4 1 -3 1 -3 1 4 1 4 1 0 1 -4 1 0 1 3 1 -4 1 -2 1 3 1 1 1 2 1 1 1 -6 1 1 1 5 1 -2 1 -2 1 2 1 0 1 -1 1 -2 1 -2 1 3 1 -1 1 1 1 3 1 0 1 -2 1 -1 1 -1 1 0 1 2 1 -2 1 1 1 0 1 3 1 -2 1 -4"/>
<path transform="translate(513.4,0) scale(3.4310,0.1)" vector-effect="non-scaling-stroke" stroke="#ff7f0e" d="M0 6276l1 3 1 -5 1 0 1 0 1 5 1 2 1 -4 1 -5 1 1 1 5 1 3 1 3 1 -2 1 -4 1 -3 1 3 1 2 1 3 1 -3 1 0 1 4 1 -5 1 0 1 0 1 -5 1 2 1 3 1 3 1 -2 1 -5 1 4 1 3 1 1 1 -2 1 -4 1 5 1 -2 1 1 1 3 1 -3 1 -3 1 0 1 3 1 2 1 -4 1 0 1 4 1 -5 1 -1 1 1 1 0 1 4 1 1 1 -4 1 -2 1 -1 1 1 1 3 1 0 1 -3 1 0 1 3 1 2 1 0 1 -3 1 1 1 0 1 2 1 -2 1 -3 1 3 1 1 1 -2 1 0 1 1 1 1 1 -2 1 -1 1 3 1 3 1 -1 1 -3 1 1 1 -2 1 -2 1 2 1 1 1 -2 1 1 1 2 1 -3 1 0 1 2 1 -2 1 0 1 1 1 4 1 -3 1 -5 1 2 1 0 1 0 1 5 1 0 1 -2 1 -1 1 -1 1 -2 1 1 1 0 1 -3 1 4 1 5 1 2 1 -2 1 -3"/>
</g>
<rect x="513.4" y="760.4" width="398" height="302.6" fill="none" stroke="#737373" stroke-width="1.5"/>
<line x1="509.4" y1="1060.5" x2="513.4" y2="1060.5" stroke="#737373" stroke-width="1.2"/>
<text x="506.2" y="1067.4" text-anchor="end" style="font-family:'DejaVu Sans',sans-serif;font-size:17.0px">0</text>
<line x1="509.4" y1="1000.48" x2="513.4" y2="1000.48" stroke="#737373" stroke-width="1.2"/>
<text x="506.2" y="1007.38" text-anchor="end" style="font-family:'DejaVu Sans',sans-serif;font-size:17.0px">50</text>
<line x1="509.4" y1="940.46" x2="513.4" y2="940.46" stroke="#737373" stroke-width="1.2"/>
<text x="506.2" y="947.36" text-anchor="end" style="font-family:'DejaVu Sans',sans-serif;font-size:17.0px">100</text>
<line x1="509.4" y1="880.44" x2="513.4" y2="880.44" stroke="#737373" stroke-width="1.2"/>
<text x="506.2" y="887.34" text-anchor="end" style="font-family:'DejaVu Sans',sans-serif;font-size:17.0px">150</text>
<line x1="509.4" y1="820.42" x2="513.4" y2="820.42" stroke="#737373" stroke-width="1.2"/>
<text x="506.2" y="827.32" text-anchor="end" style="font-family:'DejaVu Sans',sans-serif;font-size:17.0px">200</text>
<line x1="509.4" y1="760.4" x2="513.4" y2="760.4" stroke="#737373" stroke-width="1.2"/>
<text x="506.2" y="767.3" text-anchor="end" style="font-family:'DejaVu Sans',sans-serif;font-size:17.0px">250</text>
<line x1="568.3" y1="1063" x2="568.3" y2="1067" stroke="#737373" stroke-width="1.2"/>
<text x="568.3" y="1083.3" text-anchor="middle" style="font-family:'DejaVu Sans',sans-serif;font-size:17.0px">5</text>
<line x1="636.92" y1="1063" x2="636.92" y2="1067" stroke="#737373" stroke-width="1.2"/>
<text x="636.92" y="1083.3" text-anchor="middle" style="font-family:'DejaVu Sans',sans-serif;font-size:17.0px">10</text>
<line x1="705.54" y1="1063" x2="705.54" y2="1067" stroke="#737373" stroke-width="1.2"/>
<text x="705.54" y="1083.3" text-anchor="middle" style="font-family:'DejaVu Sans',sans-serif;font-size:17.0px">15</text>
<line x1="774.16" y1="1063" x2="774.16" y2="1067" stroke="#737373" stroke-width="1.2"/>
<text x="774.16" y="1083.3" text-anchor="middle" style="font-family:'DejaVu Sans',sans-serif;font-size:17.0px">20</text>
<line x1="842.78" y1="1063" x2="842.78" y2="1067" stroke="#737373" stroke-width="1.2"/>
<text x="842.78" y="1083.3" text-anchor="middle" style="font-family:'DejaVu Sans',sans-serif;font-size:17.0px">25</text>
<line x1="911.4" y1="1063" x2="911.4" y2="1067" stroke="#737373" stroke-width="1.2"/>
<text x="911.4" y="1083.3" text-anchor="middle" style="font-family:'DejaVu Sans',sans-serif;font-size:17.0px">30</text>
<text x="712.4" y="1105" text-anchor="middle" style="font-family:'DejaVu Sans',sans-serif;font-size:18.8px">Frequency (GHz)</text>
<text transform="translate(466.4,911.7) rotate(-90)" text-anchor="middle" style="font-family:'DejaVu Sans',sans-serif;font-size:18.8px">Delay (ps)</text>
<clipPath id="cp3"><rect x="513.4" y="760.4" width="398" height="302.6"/></clipPath>
<g clip-path="url(#cp3)" fill="none" stroke-width="1.8" stroke-linejoin="round">
<path transform="translate(513.4,0) scale(3.4310,0.1)" vector-effect="non-scaling-stroke" stroke="#1f77b4" d="M0 10605l1 0 1 0 1 0 1 0 1 0 1 0 1 0 1 0 1 0 1 0 1 0 1 0 1 0 1 0 1 0 1 0 1 0 1 0 1 0 1 0 1 0 1 0 1 0 1 0 1 0 1 0 1 0 1 0 1 0 1 0 1 0 1 0 1 0 1 0 1 0 1 0 1 0 1 0 1 0 1 0 1 0 1 0 1 0 1 0 1 0 1 0 1 0 1 0 1 0 1 0 1 0 1 0 1 0 1 0 1 0 1 0 1 0 1 0 1 0 1 0 1 0 1 0 1 0 1 0 1 0 1 0 1 0 1 0 1 0 1 0 1 0 1 0 1 0 1 0 1 0 1 0 1 0 1 0 1 0 1 0 1 0 1 0 1 0 1 0 1 0 1 0 1 0 1 0 1 0 1 0 1 0 1 0 1 0 1 0 1 0 1 0 1 0 1 0 1 0 1 0 1 0 1 0 1 0 1 0 1 0 1 0 1 0 1 0 1 0 1 0 1 0 1 0 1 0 1 0 1 0 1 0"/>
<path transform="translate(513.4,0) scale(3.4310,0.1)" vector-effect="non-scaling-stroke" stroke="#ff7f0e" d="M0 10509l1 10 1 0 1 9 1 -19 1 27 1 -34 1 5 1 14 1 -7 1 15 1 -18 1 1 1 -7 1 15 1 -1 1 5 1 -16 1 4 1 8 1 12 1 2 1 -12 1 -10 1 4 1 9 1 -13 1 -6 1 1 1 10 1 -9 1 9 1 5 1 -1 1 -24 1 5 1 10 1 2 1 1 1 -2 1 5 1 1 1 -7 1 -1 1 -4 1 4 1 -3 1 6 1 -5 1 -4 1 13 1 -4 1 -2 1 12 1 -5 1 1 1 -14 1 -1 1 19 1 -16 1 3 1 4 1 18 1 -24 1 3 1 -1 1 12 1 -5 1 -8 1 0 1 -2 1 8 1 -6 1 7 1 -2 1 7 1 -10 1 1 1 -1 1 -2 1 8 1 -5 1 6 1 -10 1 4 1 5 1 6 1 -10 1 -11 1 7 1 15 1 -4 1 -6 1 5 1 -6 1 5 1 -5 1 -6 1 19 1 -7 1 1 1 0 1 -16 1 20 1 -19 1 22 1 0 1 -20 1 15 1 0 1 -8 1 -2 1 -3 1 7 1 6 1 -4 1 -17"/>
<path transform="translate(513.4,0) scale(3.4310,0.1)" vector-effect="non-scaling-stroke" stroke="#2ca02c" d="M0 10434l1 1 1 -11 1 13 1 -10 1 32 1 -36 1 7 1 2 1 6 1 13 1 -18 1 -15 1 -8 1 17 1 3 1 -1 1 -16 1 11 1 6 1 0 1 5 1 7 1 -13 1 -6 1 10 1 -15 1 -4 1 2 1 14 1 -11 1 21 1 -12 1 -2 1 -11 1 6 1 8 1 2 1 6 1 -17 1 14 1 6 1 -22 1 -3 1 3 1 10 1 -15 1 20 1 -8 1 -3 1 1 1 3 1 -6 1 13 1 1 1 -10 1 -1 1 0 1 13 1 -10 1 -2 1 9 1 3 1 -13 1 4 1 0 1 10 1 -3 1 -12 1 2 1 5 1 -7 1 0 1 7 1 -5 1 5 1 -2 1 1 1 -16 1 8 1 6 1 -5 1 8 1 -13 1 5 1 -4 1 14 1 -11 1 -5 1 5 1 14 1 -2 1 -15 1 11 1 -7 1 3 1 0 1 1 1 11 1 -5 1 0 1 -7 1 -1 1 7 1 -6 1 10 1 8 1 -17 1 -3 1 6 1 8 1 -13 1 1 1 3 1 3 1 3 1 -11"/>
<path transform="translate(513.4,0) scale(3.4310,0.1)" vector-effect="non-scaling-stroke" stroke="#d62728" d="M0 10335l1 31 1 -7 1 -24 1 3 1 19 1 -18 1 8 1 -35 1 24 1 13 1 -12 1 -14 1 15 1 -5 1 7 1 0 1 -12 1 10 1 8 1 21 1 -29 1 21 1 -26 1 -5 1 17 1 -9 1 -12 1 4 1 17 1 -4 1 -3 1 11 1 -5 1 -17 1 1 1 15 1 -7 1 -2 1 -11 1 25 1 -4 1 -7 1 2 1 -9 1 5 1 -3 1 9 1 -2 1 -6 1 -1 1 6 1 -7 1 6 1 2 1 4 1 -9 1 1 1 11 1 -16 1 2 1 9 1 7 1 -19 1 7 1 1 1 5 1 1 1 -15 1 5 1 0 1 8 1 -1 1 1 1 9 1 -10 1 -7 1 7 1 -5 1 -4 1 11 1 -16 1 8 1 -1 1 -3 1 1 1 15 1 -13 1 0 1 -5 1 26 1 -12 1 -6 1 7 1 -10 1 11 1 -13 1 1 1 6 1 2 1 3 1 -6 1 -5 1 1 1 10 1 0 1 15 1 -21 1 -3 1 4 1 1 1 -4 1 -2 1 4 1 -1 1 6 1 -12"/>
<path transform="translate(513.4,0) scale(3.4310,0.1)" vector-effect="non-scaling-stroke" stroke="#9467bd" d="M0 10270l1 17 1 -8 1 -18 1 1 1 18 1 -50 1 13 1 -5 1 -3 1 30 1 -19 1 -16 1 -5 1 30 1 6 1 -9 1 -10 1 10 1 -2 1 18 1 0 1 -7 1 -20 1 4 1 4 1 1 1 -14 1 10 1 19 1 -13 1 -1 1 4 1 -17 1 0 1 12 1 -5 1 1 1 8 1 -2 1 4 1 -1 1 -10 1 4 1 -4 1 8 1 -5 1 3 1 -2 1 -4 1 11 1 -12 1 5 1 4 1 7 1 -15 1 4 1 -4 1 11 1 -14 1 9 1 3 1 7 1 -25 1 16 1 -6 1 13 1 -5 1 -12 1 3 1 1 1 3 1 1 1 3 1 4 1 -3 1 -3 1 1 1 -10 1 3 1 6 1 -14 1 27 1 -18 1 -1 1 -1 1 20 1 -21 1 -3 1 -1 1 20 1 -9 1 -4 1 -2 1 -5 1 13 1 -8 1 2 1 9 1 1 1 -8 1 4 1 -4 1 1 1 -1 1 9 1 14 1 -23 1 -1 1 4 1 1 1 -5 1 -3 1 -2 1 12 1 -5 1 -15"/>
<path transform="translate(513.4,0) scale(3.4310,0.1)" vector-effect="non-scaling-stroke" stroke="#8c564b" d="M0 10176l1 17 1 -24 1 0 1 5 1 3 1 -34 1 25 1 -17 1 5 1 -7 1 0 1 7 1 -2 1 9 1 -1 1 4 1 -19 1 9 1 16 1 7 1 -21 1 8 1 -12 1 6 1 6 1 -4 1 -8 1 -5 1 22 1 -11 1 19 1 -11 1 -15 1 6 1 -14 1 13 1 8 1 1 1 -17 1 16 1 1 1 -14 1 10 1 -14 1 15 1 -14 1 21 1 -9 1 -2 1 -10 1 20 1 -9 1 0 1 5 1 -17 1 -2 1 7 1 9 1 1 1 -3 1 3 1 8 1 -10 1 -2 1 2 1 2 1 1 1 -8 1 1 1 -1 1 7 1 -4 1 10 1 -11 1 1 1 -2 1 2 1 -5 1 -6 1 14 1 -5 1 11 1 -13 1 -4 1 0 1 14 1 -11 1 6 1 -4 1 20 1 -12 1 1 1 -4 1 -6 1 15 1 -19 1 3 1 17 1 -8 1 -4 1 1 1 -8 1 7 1 -8 1 14 1 8 1 -14 1 -5 1 6 1 6 1 -5 1 -8 1 9 1 0 1 0 1 -10"/>
<path transform="translate(513.4,0) scale(3.4310,0.1)" vector-effect="non-scaling-stroke" stroke="#e377c2" d="M0 10069l1 2 1 3 1 6 1 -10 1 32 1 -39 1 10 1 4 1 2 1 20 1 -28 1 -16 1 14 1 -4 1 11 1 0 1 -9 1 2 1 6 1 25 1 -24 1 9 1 -7 1 -11 1 9 1 -4 1 -17 1 12 1 18 1 -10 1 5 1 -10 1 -8 1 0 1 4 1 4 1 1 1 3 1 -3 1 -1 1 6 1 -6 1 8 1 -10 1 2 1 -8 1 14 1 0 1 -12 1 0 1 10 1 -4 1 2 1 6 1 -4 1 -9 1 8 1 0 1 -7 1 7 1 0 1 4 1 -1 1 -8 1 -5 1 23 1 -7 1 -6 1 -4 1 11 1 0 1 -8 1 1 1 -2 1 3 1 -8 1 5 1 -6 1 8 1 3 1 -25 1 16 1 -1 1 -2 1 -2 1 21 1 -24 1 9 1 -2 1 6 1 11 1 -12 1 10 1 -12 1 6 1 -7 1 1 1 12 1 -5 1 3 1 -6 1 0 1 -3 1 3 1 2 1 11 1 -12 1 -9 1 8 1 11 1 -16 1 8 1 -5 1 5 1 5 1 -18"/>
<path transform="translate(513.4,0) scale(3.4310,0.1)" vector-effect="non-scaling-stroke" stroke="#7f7f7f" d="M0 9970l1 38 1 -28 1 -6 1 18 1 26 1 -56 1 22 1 -2 1 0 1 19 1 -15 1 -5 1 4 1 -4 1 -8 1 5 1 -4 1 4 1 5 1 6 1 -2 1 11 1 -21 1 -2 1 -2 1 15 1 -9 1 -7 1 19 1 -8 1 0 1 9 1 -3 1 -9 1 -5 1 13 1 -5 1 5 1 -9 1 18 1 -4 1 -17 1 3 1 -10 1 14 1 -3 1 -3 1 2 1 -6 1 2 1 3 1 -4 1 9 1 3 1 -2 1 -5 1 0 1 9 1 -9 1 -1 1 7 1 10 1 -10 1 -10 1 3 1 16 1 -7 1 -10 1 2 1 10 1 0 1 -5 1 -6 1 10 1 0 1 -2 1 1 1 -10 1 12 1 9 1 -26 1 15 1 -4 1 -9 1 -1 1 28 1 -22 1 -6 1 7 1 13 1 -11 1 2 1 6 1 -10 1 11 1 -16 1 13 1 -3 1 9 1 -9 1 4 1 -9 1 -1 1 -5 1 10 1 12 1 -12 1 -4 1 2 1 7 1 -13 1 -3 1 5 1 6 1 -1 1 -5"/>
<path transform="translate(513.4,0) scale(3.4310,0.1)" vector-effect="non-scaling-stroke" stroke="#bcbd22" d="M0 9920l1 -1 1 -6 1 -22 1 18 1 -17 1 -6 1 -3 1 3 1 25 1 -6 1 -22 1 20 1 -23 1 17 1 2 1 -1 1 -1 1 -8 1 12 1 12 1 -18 1 -10 1 -1 1 6 1 9 1 0 1 -21 1 1 1 21 1 -10 1 12 1 -12 1 11 1 -22 1 4 1 9 1 9 1 -3 1 -8 1 10 1 9 1 -19 1 0 1 -8 1 13 1 -5 1 10 1 -20 1 5 1 5 1 1 1 -11 1 12 1 15 1 -15 1 -2 1 2 1 13 1 -13 1 4 1 -2 1 11 1 -9 1 1 1 -3 1 5 1 -1 1 -8 1 15 1 -11 1 4 1 -4 1 7 1 -4 1 3 1 -19 1 12 1 -2 1 0 1 7 1 -13 1 15 1 -8 1 -7 1 0 1 17 1 -18 1 4 1 4 1 19 1 -11 1 -5 1 -1 1 -10 1 15 1 -7 1 -4 1 7 1 5 1 -6 1 -6 1 0 1 7 1 4 1 -4 1 9 1 -9 1 -1 1 7 1 -2 1 -6 1 -12 1 18 1 -8 1 6 1 -16"/>
<path transform="translate(513.4,0) scale(3.4310,0.1)" vector-effect="non-scaling-stroke" stroke="#17becf" d="M0 9831l1 -7 1 2 1 1 1 -14 1 16 1 -21 1 10 1 -14 1 6 1 -1 1 5 1 -4 1 -8 1 -11 1 22 1 -2 1 -17 1 14 1 -7 1 17 1 -10 1 19 1 -19 1 12 1 -9 1 -3 1 -22 1 4 1 24 1 -7 1 2 1 -3 1 2 1 -19 1 9 1 8 1 -3 1 5 1 -3 1 4 1 5 1 -17 1 7 1 -9 1 11 1 -11 1 11 1 -10 1 -4 1 5 1 11 1 -8 1 11 1 -12 1 5 1 -8 1 -1 1 21 1 -11 1 -1 1 7 1 10 1 -18 1 -7 1 4 1 12 1 -1 1 -3 1 -9 1 2 1 10 1 -9 1 6 1 1 1 4 1 -6 1 4 1 -12 1 1 1 7 1 -9 1 13 1 -17 1 14 1 -14 1 19 1 -13 1 2 1 -2 1 19 1 -5 1 -8 1 8 1 -18 1 7 1 11 1 -5 1 1 1 -2 1 -2 1 -3 1 -5 1 4 1 -8 1 17 1 3 1 -1 1 -9 1 8 1 -9 1 -10 1 2 1 16 1 -3 1 0 1 -12"/>
<path transform="translate(513.4,0) scale(3.4310,0.1)" vector-effect="non-scaling-stroke" stroke="#1f77b4" d="M0 9673l1 69 1 -35 1 12 1 2 1 8 1 -21 1 19 1 0 1 -14 1 5 1 -13 1 4 1 2 1 -10 1 20 1 -9 1 -7 1 6 1 9 1 9 1 -5 1 8 1 -23 1 10 1 0 1 -2 1 -14 1 7 1 15 1 -17 1 15 1 5 1 -11 1 -17 1 9 1 8 1 2 1 -5 1 -5 1 12 1 12 1 -21 1 15 1 -22 1 5 1 -7 1 15 1 -9 1 0 1 3 1 13 1 -9 1 6 1 -4 1 -12 1 6 1 -1 1 9 1 -4 1 5 1 0 1 12 1 -20 1 0 1 2 1 9 1 -4 1 -4 1 -7 1 12 1 -4 1 -4 1 9 1 2 1 -7 1 1 1 -4 1 -5 1 4 1 6 1 -15 1 15 1 -1 1 -7 1 -3 1 17 1 -14 1 1 1 -2 1 19 1 -4 1 -13 1 9 1 -12 1 16 1 -15 1 7 1 -7 1 14 1 -2 1 -10 1 -5 1 19 1 -15 1 8 1 15 1 -19 1 1 1 6 1 0 1 -6 1 -2 1 -7 1 14 1 2 1 -19"/>
<path transform="translate(513.4,0) scale(3.4310,0.1)" vector-effect="non-scaling-stroke" stroke="#ff7f0e" d="M0 9615l1 32 1 -9 1 -8 1 -2 1 28 1 -37 1 -6 1 20 1 -4 1 10 1 -16 1 -7 1 -4 1 21 1 -5 1 6 1 -14 1 3 1 19 1 -2 1 -8 1 16 1 -28 1 -3 1 17 1 -8 1 -12 1 11 1 14 1 -9 1 -3 1 5 1 -2 1 -20 1 10 1 10 1 -3 1 4 1 -1 1 -2 1 17 1 -29 1 17 1 -13 1 7 1 -5 1 18 1 -15 1 -5 1 7 1 3 1 -11 1 14 1 -1 1 -2 1 -11 1 2 1 1 1 -3 1 3 1 1 1 19 1 -24 1 8 1 2 1 2 1 3 1 -16 1 13 1 -6 1 6 1 -3 1 10 1 -12 1 5 1 0 1 5 1 -8 1 -9 1 13 1 -10 1 9 1 -5 1 -3 1 -3 1 16 1 -16 1 8 1 -6 1 17 1 -9 1 -1 1 4 1 -9 1 3 1 -2 1 6 1 1 1 -4 1 3 1 -4 1 0 1 3 1 -10 1 11 1 9 1 -9 1 2 1 -5 1 2 1 -8 1 -10 1 15 1 0 1 9 1 -21"/>
<path transform="translate(513.4,0) scale(3.4310,0.1)" vector-effect="non-scaling-stroke" stroke="#2ca02c" d="M0 9497l1 36 1 7 1 -17 1 21 1 14 1 -39 1 25 1 3 1 -15 1 14 1 -12 1 -9 1 10 1 -3 1 1 1 13 1 -15 1 10 1 -5 1 5 1 11 1 -6 1 -21 1 15 1 4 1 1 1 -18 1 3 1 12 1 -4 1 2 1 6 1 -3 1 -24 1 5 1 17 1 -9 1 3 1 -3 1 4 1 22 1 -22 1 -3 1 -1 1 9 1 -17 1 15 1 2 1 -7 1 -4 1 2 1 11 1 -3 1 6 1 -3 1 -10 1 8 1 5 1 -19 1 6 1 4 1 9 1 -14 1 -2 1 11 1 6 1 -6 1 -4 1 -1 1 -5 1 2 1 6 1 5 1 -7 1 4 1 -1 1 -3 1 -5 1 3 1 -6 1 -4 1 14 1 -7 1 -11 1 7 1 22 1 -18 1 0 1 2 1 12 1 -6 1 -1 1 3 1 -13 1 18 1 -18 1 7 1 7 1 9 1 -19 1 12 1 -8 1 -1 1 1 1 9 1 14 1 -19 1 -6 1 2 1 6 1 -8 1 -7 1 13 1 3 1 -11 1 0"/>
<path transform="translate(513.4,0) scale(3.4310,0.1)" vector-effect="non-scaling-stroke" stroke="#d62728" d="M0 9409l1 20 1 29 1 -17 1 4 1 31 1 -40 1 18 1 -5 1 0 1 3 1 -2 1 0 1 -7 1 3 1 11 1 -11 1 -9 1 3 1 16 1 10 1 -17 1 20 1 -30 1 8 1 9 1 -6 1 -10 1 1 1 22 1 -7 1 -7 1 13 1 -3 1 -27 1 13 1 21 1 -15 1 -7 1 -2 1 6 1 11 1 -22 1 15 1 -11 1 0 1 -1 1 11 1 5 1 -12 1 6 1 -2 1 0 1 2 1 10 1 -22 1 10 1 -3 1 -2 1 1 1 6 1 -2 1 8 1 -15 1 13 1 -8 1 19 1 -18 1 -3 1 4 1 -4 1 4 1 4 1 -8 1 7 1 9 1 -18 1 2 1 -4 1 4 1 12 1 -19 1 9 1 -2 1 -6 1 9 1 7 1 -13 1 9 1 0 1 11 1 -9 1 -4 1 4 1 -8 1 8 1 -9 1 1 1 9 1 0 1 -3 1 0 1 -9 1 11 1 -14 1 18 1 5 1 -7 1 -6 1 2 1 3 1 -3 1 -4 1 3 1 2 1 -1 1 -14"/>
<path transform="translate(513.4,0) scale(3.4310,0.1)" vector-effect="non-scaling-stroke" stroke="#9467bd" d="M0 9388l1 -8 1 14 1 -18 1 -23 1 29 1 -26 1 9 1 -4 1 10 1 -6 1 -2 1 -25 1 21 1 -10 1 18 1 -8 1 -2 1 -5 1 14 1 13 1 -13 1 3 1 -19 1 0 1 10 1 16 1 -29 1 17 1 5 1 -12 1 16 1 2 1 -17 1 -9 1 -5 1 14 1 1 1 -8 1 6 1 10 1 7 1 -24 1 4 1 -8 1 13 1 -3 1 10 1 -2 1 -12 1 -3 1 24 1 -7 1 -9 1 16 1 -17 1 3 1 -6 1 9 1 -7 1 -2 1 9 1 6 1 -20 1 3 1 10 1 10 1 -4 1 -10 1 -1 1 4 1 -2 1 0 1 3 1 0 1 0 1 3 1 -9 1 0 1 0 1 6 1 -13 1 14 1 -5 1 -1 1 6 1 6 1 -11 1 -1 1 -12 1 33 1 -14 1 -8 1 3 1 -9 1 19 1 -9 1 -4 1 12 1 -10 1 4 1 -2 1 -5 1 8 1 -6 1 13 1 4 1 -10 1 -6 1 10 1 3 1 -14 1 -5 1 13 1 0 1 4 1 -25"/>
<path transform="translate(513.4,0) scale(3.4310,0.1)" vector-effect="non-scaling-stroke" stroke="#8c564b" d="M0 9295l1 23 1 -26 1 -9 1 -3 1 11 1 -36 1 18 1 6 1 -27 1 17 1 1 1 -6 1 -4 1 7 1 -2 1 18 1 -22 1 11 1 -6 1 8 1 3 1 3 1 -25 1 16 1 10 1 -14 1 -14 1 12 1 6 1 -1 1 17 1 -9 1 -8 1 -21 1 14 1 9 1 -1 1 -2 1 4 1 4 1 4 1 -26 1 3 1 11 1 5 1 -6 1 9 1 -5 1 -8 1 -3 1 18 1 -5 1 8 1 -10 1 -9 1 9 1 2 1 2 1 -14 1 2 1 8 1 7 1 -14 1 5 1 -9 1 17 1 4 1 -13 1 5 1 -5 1 -2 1 8 1 -7 1 -5 1 10 1 2 1 1 1 -8 1 5 1 7 1 -16 1 13 1 -10 1 4 1 -13 1 18 1 -13 1 6 1 -11 1 24 1 -16 1 1 1 10 1 -10 1 -1 1 -4 1 7 1 7 1 -2 1 2 1 -5 1 -1 1 4 1 -9 1 17 1 -1 1 -9 1 -6 1 3 1 1 1 -3 1 -7 1 12 1 0 1 6 1 -14"/>
<path transform="translate(513.4,0) scale(3.4310,0.1)" vector-effect="non-scaling-stroke" stroke="#e377c2" d="M0 9155l1 23 1 20 1 -31 1 20 1 17 1 -32 1 1 1 12 1 2 1 18 1 -21 1 -2 1 -13 1 -1 1 31 1 -3 1 -25 1 -1 1 13 1 11 1 -10 1 7 1 -26 1 12 1 16 1 -7 1 -20 1 14 1 11 1 -6 1 7 1 -4 1 -5 1 -8 1 3 1 4 1 -8 1 6 1 -10 1 17 1 14 1 -30 1 14 1 -4 1 5 1 -19 1 25 1 -9 1 -13 1 4 1 18 1 -13 1 8 1 2 1 -13 1 2 1 2 1 1 1 5 1 -5 1 1 1 16 1 -18 1 4 1 -5 1 13 1 -7 1 -12 1 5 1 4 1 0 1 -2 1 10 1 -11 1 6 1 -7 1 12 1 -16 1 -4 1 13 1 -2 1 6 1 -7 1 -3 1 1 1 11 1 -9 1 -4 1 3 1 12 1 -10 1 4 1 -4 1 -1 1 7 1 -9 1 -4 1 18 1 -11 1 9 1 -8 1 -8 1 6 1 3 1 11 1 -3 1 -2 1 -11 1 8 1 0 1 -15 1 -4 1 12 1 12 1 -7 1 -10"/>
<path transform="translate(513.4,0) scale(3.4310,0.1)" vector-effect="non-scaling-stroke" stroke="#7f7f7f" d="M0 9077l1 49 1 -23 1 -8 1 7 1 2 1 -10 1 -2 1 0 1 16 1 5 1 -12 1 -22 1 -1 1 7 1 8 1 21 1 -32 1 11 1 -4 1 10 1 -14 1 16 1 -20 1 17 1 -1 1 5 1 -29 1 20 1 9 1 -4 1 4 1 -2 1 -5 1 -15 1 10 1 -4 1 12 1 -11 1 -9 1 34 1 -5 1 -22 1 1 1 2 1 2 1 0 1 3 1 4 1 -15 1 20 1 2 1 -23 1 14 1 9 1 -23 1 1 1 2 1 17 1 -14 1 1 1 15 1 -2 1 -11 1 -6 1 1 1 19 1 -2 1 -14 1 -1 1 6 1 2 1 -6 1 5 1 -4 1 6 1 0 1 7 1 -17 1 6 1 6 1 -11 1 18 1 -12 1 7 1 -10 1 16 1 -25 1 5 1 2 1 14 1 -9 1 4 1 -1 1 -7 1 -4 1 3 1 11 1 -3 1 -10 1 13 1 -21 1 11 1 1 1 2 1 9 1 10 1 -12 1 2 1 -11 1 13 1 -13 1 -6 1 13 1 -1 1 1 1 -10"/>
<path transform="translate(513.4,0) scale(3.4310,0.1)" vector-effect="non-scaling-stroke" stroke="#bcbd22" d="M0 8999l1 29 1 2 1 -15 1 -10 1 13 1 -37 1 20 1 -5 1 5 1 3 1 0 1 -11 1 5 1 3 1 -8 1 25 1 -23 1 10 1 -4 1 6 1 5 1 21 1 -40 1 7 1 18 1 -11 1 -17 1 20 1 -2 1 -5 1 7 1 9 1 -12 1 -12 1 -1 1 15 1 -10 1 3 1 8 1 -7 1 10 1 -15 1 5 1 3 1 -4 1 7 1 3 1 -16 1 -5 1 10 1 10 1 -15 1 12 1 2 1 -11 1 4 1 -6 1 23 1 -26 1 15 1 0 1 9 1 -21 1 0 1 4 1 9 1 -1 1 -9 1 10 1 3 1 3 1 -13 1 5 1 -2 1 1 1 -3 1 7 1 -4 1 3 1 -7 1 -10 1 22 1 -11 1 -6 1 -6 1 24 1 -16 1 -6 1 12 1 11 1 -9 1 0 1 -11 1 -2 1 12 1 -3 1 -6 1 10 1 3 1 -3 1 3 1 -10 1 0 1 -5 1 13 1 5 1 -5 1 -4 1 -4 1 6 1 -1 1 -12 1 7 1 4 1 3 1 -9"/>
<path transform="translate(513.4,0) scale(3.4310,0.1)" vector-effect="non-scaling-stroke" stroke="#17becf" d="M0 8882l1 40 1 10 1 -19 1 16 1 11 1 -32 1 -1 1 8 1 -11 1 2 1 12 1 -5 1 -9 1 9 1 4 1 9 1 -23 1 9 1 20 1 -1 1 -12 1 2 1 -10 1 8 1 -6 1 8 1 -21 1 6 1 13 1 -3 1 12 1 -9 1 -2 1 -11 1 -9 1 14 1 12 1 -6 1 -5 1 14 1 8 1 -31 1 8 1 -4 1 9 1 -8 1 7 1 3 1 -8 1 4 1 1 1 -5 1 15 1 0 1 -20 1 9 1 -3 1 13 1 -18 1 7 1 7 1 12 1 -20 1 -4 1 3 1 18 1 -14 1 -3 1 5 1 -4 1 7 1 -3 1 4 1 -4 1 5 1 0 1 -7 1 -1 1 -7 1 10 1 -12 1 15 1 -12 1 5 1 2 1 9 1 -1 1 -11 1 -3 1 18 1 -14 1 0 1 4 1 -5 1 2 1 0 1 1 1 4 1 -2 1 -8 1 7 1 4 1 -6 1 -8 1 17 1 -1 1 -13 1 8 1 2 1 6 1 -13 1 -8 1 10 1 10 1 -1 1 -9"/>
<path transform="translate(513.4,0) scale(3.4310,0.1)" vector-effect="non-scaling-stroke" stroke="#1f77b4" d="M0 8890l1 -5 1 -29 1 -23 1 -6 1 29 1 -32 1 3 1 -5 1 5 1 8 1 -5 1 -8 1 -4 1 13 1 -9 1 21 1 -29 1 18 1 -12 1 16 1 1 1 5 1 -16 1 0 1 3 1 -15 1 6 1 -7 1 24 1 -11 1 3 1 4 1 -9 1 -9 1 4 1 7 1 -3 1 10 1 -9 1 16 1 0 1 -18 1 -2 1 -11 1 10 1 7 1 3 1 1 1 -12 1 -2 1 10 1 -7 1 12 1 11 1 -8 1 -13 1 0 1 6 1 -2 1 -1 1 4 1 5 1 -10 1 5 1 -8 1 12 1 0 1 -4 1 -5 1 9 1 5 1 -11 1 5 1 -5 1 -2 1 2 1 -5 1 4 1 -5 1 16 1 -17 1 14 1 -7 1 -6 1 10 1 6 1 -10 1 -5 1 -2 1 19 1 -7 1 1 1 -6 1 -2 1 4 1 0 1 -9 1 18 1 -11 1 5 1 -7 1 -1 1 2 1 -2 1 5 1 9 1 -12 1 -7 1 13 1 -6 1 0 1 0 1 0 1 6 1 -8 1 -2"/>
<path transform="translate(513.4,0) scale(3.4310,0.1)" vector-effect="non-scaling-stroke" stroke="#ff7f0e" d="M0 8733l1 39 1 -26 1 5 1 -25 1 23 1 -21 1 23 1 -14 1 -3 1 7 1 0 1 -3 1 -8 1 11 1 -13 1 21 1 -16 1 2 1 14 1 6 1 -11 1 9 1 -21 1 -2 1 10 1 7 1 -21 1 1 1 22 1 -11 1 7 1 -1 1 -6 1 -12 1 8 1 2 1 8 1 -16 1 5 1 13 1 -3 1 -14 1 7 1 -5 1 9 1 -5 1 9 1 -14 1 4 1 1 1 7 1 -11 1 1 1 16 1 -15 1 -2 1 5 1 5 1 -1 1 -9 1 8 1 14 1 -27 1 4 1 1 1 21 1 -6 1 -10 1 -4 1 -2 1 17 1 -11 1 5 1 -6 1 7 1 0 1 -1 1 -3 1 0 1 3 1 -9 1 9 1 2 1 -20 1 4 1 17 1 -5 1 3 1 -6 1 12 1 -17 1 2 1 9 1 -15 1 9 1 -3 1 -3 1 13 1 2 1 0 1 -7 1 -9 1 16 1 -4 1 1 1 20 1 -30 1 6 1 -2 1 -2 1 8 1 -8 1 -5 1 13 1 0 1 -13"/>
<path transform="translate(513.4,0) scale(3.4310,0.1)" vector-effect="non-scaling-stroke" stroke="#2ca02c" d="M0 8601l1 44 1 12 1 -10 1 -1 1 17 1 -26 1 -4 1 23 1 -14 1 2 1 -4 1 -2 1 9 1 4 1 1 1 1 1 -12 1 14 1 2 1 3 1 -10 1 20 1 -26 1 14 1 -1 1 -26 1 3 1 10 1 16 1 -4 1 9 1 -7 1 -8 1 -21 1 20 1 -2 1 -3 1 14 1 -17 1 23 1 -9 1 -22 1 15 1 -8 1 11 1 -10 1 6 1 1 1 -5 1 0 1 4 1 5 1 0 1 6 1 -14 1 -6 1 6 1 5 1 1 1 -2 1 7 1 5 1 -16 1 2 1 6 1 5 1 0 1 -15 1 5 1 -5 1 7 1 6 1 -3 1 5 1 -8 1 -7 1 9 1 -8 1 9 1 10 1 -18 1 11 1 -1 1 -10 1 -2 1 14 1 -18 1 2 1 5 1 13 1 -9 1 5 1 -9 1 -6 1 14 1 -6 1 -17 1 22 1 -3 1 -6 1 1 1 0 1 3 1 2 1 4 1 16 1 -20 1 -4 1 12 1 -12 1 7 1 -16 1 16 1 -1 1 4 1 -25"/>
<path transform="translate(513.4,0) scale(3.4310,0.1)" vector-effect="non-scaling-stroke" stroke="#d62728" d="M0 8507l1 42 1 8 1 0 1 5 1 18 1 -32 1 13 1 10 1 -11 1 4 1 0 1 -15 1 4 1 11 1 4 1 3 1 -18 1 5 1 -2 1 25 1 -3 1 -10 1 -13 1 5 1 -10 1 3 1 -11 1 6 1 19 1 -11 1 14 1 3 1 -11 1 -23 1 5 1 19 1 -7 1 4 1 -10 1 19 1 -5 1 -12 1 8 1 -7 1 5 1 -2 1 13 1 -19 1 5 1 9 1 8 1 -3 1 -3 1 -6 1 5 1 -10 1 10 1 -4 1 -6 1 1 1 0 1 7 1 -12 1 8 1 5 1 8 1 2 1 -26 1 9 1 0 1 3 1 -11 1 16 1 -9 1 6 1 -2 1 10 1 -18 1 8 1 5 1 -14 1 13 1 -11 1 5 1 -4 1 14 1 -12 1 -4 1 3 1 9 1 2 1 1 1 -5 1 -13 1 16 1 -7 1 1 1 6 1 0 1 -4 1 6 1 -18 1 9 1 2 1 1 1 10 1 -16 1 8 1 -9 1 10 1 3 1 -18 1 13 1 5 1 -3 1 -4"/>
<path transform="translate(513.4,0) scale(3.4310,0.1)" vector-effect="non-scaling-stroke" stroke="#9467bd" d="M0 8453l1 25 1 -14 1 6 1 8 1 28 1 -45 1 0 1 15 1 1 1 -5 1 -1 1 -8 1 -16 1 29 1 -4 1 17 1 -25 1 0 1 3 1 26 1 -22 1 7 1 -14 1 -9 1 20 1 3 1 -24 1 20 1 -4 1 -4 1 14 1 -3 1 -10 1 -18 1 17 1 11 1 6 1 -11 1 2 1 5 1 -1 1 -14 1 10 1 -16 1 13 1 -8 1 6 1 6 1 -7 1 -13 1 19 1 -2 1 3 1 5 1 -6 1 -7 1 0 1 10 1 -12 1 11 1 4 1 -2 1 -9 1 -7 1 6 1 17 1 -10 1 -4 1 -5 1 -2 1 -1 1 7 1 0 1 1 1 0 1 10 1 -6 1 -9 1 0 1 12 1 -18 1 11 1 -2 1 -2 1 0 1 13 1 -18 1 -3 1 8 1 17 1 -7 1 -10 1 5 1 -8 1 8 1 -8 1 5 1 13 1 -4 1 -5 1 -4 1 -1 1 6 1 -13 1 19 1 3 1 -9 1 -1 1 6 1 -1 1 -5 1 -14 1 17 1 0 1 -4 1 -9"/>
<path transform="translate(513.4,0) scale(3.4310,0.1)" vector-effect="non-scaling-stroke" stroke="#8c564b" d="M0 8355l1 51 1 -11 1 -3 1 -22 1 39 1 -42 1 0 1 18 1 -6 1 9 1 -4 1 -20 1 4 1 3 1 13 1 6 1 -15 1 6 1 14 1 -1 1 -11 1 11 1 -17 1 4 1 4 1 -3 1 -25 1 23 1 8 1 -9 1 9 1 4 1 -6 1 -13 1 -2 1 4 1 12 1 -8 1 -4 1 9 1 6 1 -19 1 6 1 3 1 1 1 2 1 11 1 -10 1 -2 1 -7 1 5 1 0 1 6 1 4 1 -9 1 -6 1 2 1 13 1 -8 1 -1 1 0 1 14 1 -24 1 8 1 -5 1 21 1 -3 1 -16 1 1 1 4 1 -7 1 6 1 3 1 3 1 -7 1 -2 1 5 1 3 1 -7 1 10 1 -15 1 10 1 0 1 -6 1 -4 1 18 1 -12 1 3 1 -3 1 18 1 -16 1 1 1 7 1 -12 1 14 1 0 1 -16 1 8 1 10 1 -6 1 -6 1 -1 1 7 1 -6 1 9 1 7 1 -14 1 -2 1 6 1 -1 1 1 1 -19 1 22 1 -4 1 -2 1 -12"/>
<path transform="translate(513.4,0) scale(3.4310,0.1)" vector-effect="non-scaling-stroke" stroke="#e377c2" d="M0 8269l1 46 1 -10 1 -12 1 6 1 26 1 -53 1 27 1 -2 1 -4 1 11 1 -12 1 -6 1 -4 1 7 1 3 1 -2 1 -1 1 -10 1 20 1 4 1 -5 1 9 1 -10 1 -14 1 19 1 -3 1 -26 1 13 1 5 1 -6 1 11 1 5 1 -12 1 -2 1 -2 1 7 1 5 1 -6 1 4 1 1 1 0 1 -6 1 1 1 -12 1 11 1 1 1 10 1 -14 1 -9 1 16 1 1 1 -2 1 5 1 0 1 -7 1 -1 1 -10 1 20 1 -10 1 -4 1 9 1 10 1 -20 1 9 1 -6 1 8 1 1 1 -7 1 0 1 9 1 -4 1 -5 1 2 1 2 1 5 1 -3 1 -1 1 -6 1 -4 1 12 1 -9 1 11 1 -6 1 -3 1 7 1 12 1 -15 1 -8 1 2 1 14 1 -11 1 7 1 -8 1 -4 1 13 1 -17 1 15 1 7 1 -6 1 -4 1 0 1 4 1 -3 1 -5 1 -1 1 11 1 -6 1 2 1 -3 1 9 1 -11 1 -7 1 11 1 0 1 3 1 -11"/>
<path transform="translate(513.4,0) scale(3.4310,0.1)" vector-effect="non-scaling-stroke" stroke="#7f7f7f" d="M0 8151l1 47 1 14 1 -13 1 -2 1 25 1 -41 1 19 1 13 1 -27 1 18 1 -5 1 -13 1 20 1 -3 1 7 1 -7 1 0 1 0 1 -5 1 17 1 -3 1 -6 1 -2 1 -3 1 9 1 -7 1 -12 1 11 1 9 1 1 1 -4 1 7 1 -16 1 -5 1 6 1 2 1 -2 1 13 1 -14 1 10 1 11 1 -20 1 0 1 1 1 5 1 -16 1 21 1 -5 1 2 1 -3 1 7 1 -19 1 9 1 14 1 -22 1 1 1 7 1 4 1 -7 1 6 1 9 1 5 1 -19 1 2 1 3 1 3 1 7 1 -19 1 7 1 -1 1 8 1 -7 1 7 1 3 1 -5 1 -4 1 -1 1 -4 1 7 1 4 1 -3 1 7 1 -17 1 -3 1 2 1 17 1 -15 1 -1 1 9 1 12 1 -16 1 -2 1 5 1 -5 1 9 1 -7 1 4 1 13 1 -11 1 0 1 -3 1 -12 1 10 1 1 1 5 1 15 1 -22 1 -1 1 6 1 -1 1 -9 1 1 1 11 1 -10 1 9 1 -18"/>
<path transform="translate(513.4,0) scale(3.4310,0.1)" vector-effect="non-scaling-stroke" stroke="#bcbd22" d="M0 8130l1 18 1 -20 1 -4 1 1 1 5 1 -27 1 30 1 -15 1 2 1 14 1 -14 1 -9 1 -4 1 10 1 13 1 -5 1 -24 1 20 1 -6 1 12 1 -3 1 2 1 -14 1 5 1 9 1 -11 1 -22 1 19 1 5 1 10 1 0 1 3 1 -24 1 0 1 -2 1 21 1 -8 1 -5 1 -1 1 25 1 -12 1 -21 1 5 1 -2 1 16 1 -12 1 4 1 3 1 -11 1 7 1 4 1 -9 1 14 1 -13 1 4 1 -5 1 7 1 6 1 -8 1 6 1 5 1 1 1 -13 1 11 1 0 1 1 1 -2 1 -13 1 8 1 -6 1 7 1 -2 1 3 1 -6 1 4 1 -6 1 9 1 -7 1 4 1 4 1 -11 1 12 1 -11 1 -2 1 -2 1 17 1 -17 1 3 1 -5 1 18 1 -8 1 1 1 7 1 -7 1 -6 1 -1 1 2 1 11 1 0 1 -17 1 15 1 -8 1 5 1 0 1 11 1 3 1 -13 1 -2 1 -2 1 11 1 -13 1 -11 1 11 1 11 1 9 1 -28"/>
<path transform="translate(513.4,0) scale(3.4310,0.1)" vector-effect="non-scaling-stroke" stroke="#17becf" d="M0 8017l1 3 1 20 1 -14 1 11 1 13 1 -30 1 10 1 -12 1 4 1 25 1 -25 1 -10 1 12 1 2 1 2 1 6 1 -17 1 2 1 14 1 -5 1 9 1 5 1 -34 1 4 1 19 1 -2 1 -11 1 -4 1 19 1 -1 1 -1 1 -2 1 -7 1 -19 1 10 1 11 1 5 1 -6 1 -7 1 14 1 1 1 -14 1 5 1 -8 1 12 1 0 1 -4 1 0 1 0 1 -1 1 9 1 0 1 0 1 9 1 -16 1 -2 1 -3 1 15 1 -12 1 4 1 5 1 14 1 -26 1 4 1 5 1 6 1 2 1 -10 1 -3 1 -3 1 10 1 2 1 1 1 -12 1 14 1 -13 1 8 1 -9 1 4 1 13 1 -16 1 1 1 3 1 -5 1 3 1 14 1 -16 1 -1 1 -9 1 25 1 -6 1 0 1 4 1 -6 1 -1 1 2 1 -11 1 11 1 3 1 2 1 -8 1 -4 1 1 1 3 1 9 1 5 1 -11 1 -2 1 8 1 3 1 -10 1 -9 1 4 1 -3 1 3 1 -6"/>
<path transform="translate(513.4,0) scale(3.4310,0.1)" vector-effect="non-scaling-stroke" stroke="#1f77b4" d="M0 7881l1 47 1 -16 1 30 1 -3 1 26 1 -51 1 28 1 -11 1 7 1 18 1 -20 1 -8 1 9 1 3 1 5 1 -8 1 -12 1 8 1 5 1 17 1 -15 1 13 1 -15 1 3 1 0 1 -2 1 -22 1 23 1 6 1 -10 1 13 1 -3 1 -7 1 -8 1 -7 1 20 1 -9 1 4 1 -2 1 12 1 1 1 -17 1 2 1 4 1 -8 1 -4 1 7 1 6 1 1 1 -5 1 5 1 -9 1 11 1 1 1 -9 1 3 1 -12 1 22 1 -15 1 -3 1 13 1 6 1 -23 1 9 1 -4 1 13 1 -1 1 -13 1 5 1 2 1 -2 1 0 1 3 1 6 1 -3 1 -10 1 5 1 -4 1 5 1 7 1 -16 1 8 1 0 1 -8 1 6 1 8 1 -4 1 -6 1 4 1 8 1 -6 1 4 1 1 1 -9 1 13 1 -11 1 3 1 2 1 -5 1 6 1 -3 1 -6 1 8 1 -6 1 6 1 9 1 -10 1 -2 1 -5 1 12 1 -10 1 -1 1 7 1 -1 1 3 1 -16"/>
<path transform="translate(513.4,0) scale(3.4310,0.1)" vector-effect="non-scaling-stroke" stroke="#ff7f0e" d="M0 7860l1 26 1 -35 1 6 1 -20 1 38 1 -29 1 -2 1 7 1 -5 1 19 1 -21 1 -12 1 12 1 -11 1 22 1 -2 1 -3 1 7 1 -18 1 15 1 -6 1 23 1 -31 1 5 1 8 1 -4 1 -10 1 4 1 19 1 -11 1 3 1 8 1 -13 1 -10 1 2 1 3 1 6 1 -4 1 5 1 7 1 -4 1 -10 1 6 1 -4 1 -4 1 2 1 11 1 -11 1 -7 1 5 1 5 1 -3 1 8 1 5 1 -8 1 -4 1 -2 1 12 1 -10 1 -2 1 8 1 15 1 -18 1 2 1 5 1 1 1 4 1 -10 1 0 1 -7 1 8 1 -8 1 9 1 0 1 -2 1 -5 1 5 1 -1 1 -1 1 9 1 -15 1 11 1 -12 1 -3 1 3 1 13 1 -10 1 -12 1 4 1 11 1 3 1 -2 1 -2 1 -4 1 8 1 -2 1 -5 1 11 1 -4 1 2 1 4 1 -13 1 2 1 5 1 10 1 3 1 -12 1 3 1 -11 1 6 1 1 1 -2 1 0 1 -4 1 5 1 -13"/>
</g>
<rect x="1394.4" y="7.4" width="391.8" height="295.6" fill="none" stroke="#737373" stroke-width="1.5"/>
<line x1="1390.4" y1="300.7" x2="1394.4" y2="300.7" stroke="#737373" stroke-width="1.2"/>
<text x="1386.2" y="306.4" text-anchor="end" style="font-family:'DejaVu Sans',sans-serif;font-size:16.7px">0</text>
<line x1="1390.4" y1="242.04" x2="1394.4" y2="242.04" stroke="#737373" stroke-width="1.2"/>
<text x="1386.2" y="247.74" text-anchor="end" style="font-family:'DejaVu Sans',sans-serif;font-size:16.7px">50</text>
<line x1="1390.4" y1="183.38" x2="1394.4" y2="183.38" stroke="#737373" stroke-width="1.2"/>
<text x="1386.2" y="189.08" text-anchor="end" style="font-family:'DejaVu Sans',sans-serif;font-size:16.7px">100</text>
<line x1="1390.4" y1="124.72" x2="1394.4" y2="124.72" stroke="#737373" stroke-width="1.2"/>
<text x="1386.2" y="130.42" text-anchor="end" style="font-family:'DejaVu Sans',sans-serif;font-size:16.7px">150</text>
<line x1="1390.4" y1="66.06" x2="1394.4" y2="66.06" stroke="#737373" stroke-width="1.2"/>
<text x="1386.2" y="71.76" text-anchor="end" style="font-family:'DejaVu Sans',sans-serif;font-size:16.7px">200</text>
<line x1="1390.4" y1="7.4" x2="1394.4" y2="7.4" stroke="#737373" stroke-width="1.2"/>
<text x="1386.2" y="13.1" text-anchor="end" style="font-family:'DejaVu Sans',sans-serif;font-size:16.7px">250</text>
<line x1="1448.44" y1="303" x2="1448.44" y2="307" stroke="#737373" stroke-width="1.2"/>
<text x="1448.44" y="322.3" text-anchor="middle" style="font-family:'DejaVu Sans',sans-serif;font-size:16.7px">5</text>
<line x1="1515.99" y1="303" x2="1515.99" y2="307" stroke="#737373" stroke-width="1.2"/>
<text x="1515.99" y="322.3" text-anchor="middle" style="font-family:'DejaVu Sans',sans-serif;font-size:16.7px">10</text>
<line x1="1583.54" y1="303" x2="1583.54" y2="307" stroke="#737373" stroke-width="1.2"/>
<text x="1583.54" y="322.3" text-anchor="middle" style="font-family:'DejaVu Sans',sans-serif;font-size:16.7px">15</text>
<line x1="1651.1" y1="303" x2="1651.1" y2="307" stroke="#737373" stroke-width="1.2"/>
<text x="1651.1" y="322.3" text-anchor="middle" style="font-family:'DejaVu Sans',sans-serif;font-size:16.7px">20</text>
<line x1="1718.65" y1="303" x2="1718.65" y2="307" stroke="#737373" stroke-width="1.2"/>
<text x="1718.65" y="322.3" text-anchor="middle" style="font-family:'DejaVu Sans',sans-serif;font-size:16.7px">25</text>
<line x1="1786.2" y1="303" x2="1786.2" y2="307" stroke="#737373" stroke-width="1.2"/>
<text x="1786.2" y="322.3" text-anchor="middle" style="font-family:'DejaVu Sans',sans-serif;font-size:16.7px">30</text>
<text x="1590.3" y="343.3" text-anchor="middle" style="font-family:'DejaVu Sans',sans-serif;font-size:18.6px">Frequency (GHz)</text>
<text transform="translate(1347.4,155.2) rotate(-90)" text-anchor="middle" style="font-family:'DejaVu Sans',sans-serif;font-size:18.6px">Delay (ps)</text>
<clipPath id="cp4"><rect x="1394.4" y="7.4" width="391.8" height="295.6"/></clipPath>
<g clip-path="url(#cp4)" fill="none" stroke-width="2.2" stroke-linejoin="round">
<path transform="translate(1394.4,0) scale(3.3776,0.1)" vector-effect="non-scaling-stroke" stroke="#32cd32" d="M0 1472l1 4 1 0 1 -1 1 -5 1 2 1 2 1 0 1 -1 1 -2 1 2 1 -1 1 1 1 -4 1 0 1 1 1 2 1 0 1 -1 1 4 1 -1 1 0 1 -1 1 -2 1 1 1 -2 1 3 1 2 1 0 1 1 1 -3 1 -1 1 -1 1 2 1 1 1 1 1 -2 1 -1 1 -1 1 1 1 -1 1 -3 1 1 1 0 1 2 1 1 1 -1 1 0 1 -1 1 0 1 1 1 1 1 -1 1 -1 1 -2 1 1 1 0 1 0 1 1 1 1 1 -1 1 1 1 -3 1 2 1 -1 1 2 1 0 1 -1 1 1 1 0 1 1 1 1 1 -2 1 -1 1 -1 1 2 1 1 1 1 1 -1 1 -1 1 -1 1 0 1 0 1 -1 1 -2 1 3 1 1 1 2 1 -1 1 1 1 0 1 2 1 1 1 -1 1 -4 1 0 1 0 1 4 1 0 1 -1 1 -2 1 1 1 1 1 2 1 -2 1 1 1 1 1 -1 1 -2 1 -4 1 1 1 2 1 -1 1 1 1 -3 1 1 1 -1"/>
<path transform="translate(1394.4,0) scale(3.3776,0.1)" vector-effect="non-scaling-stroke" stroke="#008000" d="M0 1277l1 2 1 2 1 4 1 6 1 3 1 8 1 -1 1 1 1 -3 1 4 1 1 1 0 1 -1 1 0 1 3 1 0 1 -2 1 -1 1 1 1 3 1 -3 1 1 1 -1 1 0 1 -1 1 2 1 3 1 0 1 -4 1 -1 1 0 1 1 1 -1 1 0 1 0 1 0 1 -1 1 4 1 1 1 -1 1 -3 1 -2 1 2 1 0 1 2 1 0 1 -2 1 1 1 -1 1 1 1 0 1 3 1 0 1 0 1 -1 1 0 1 0 1 -1 1 -1 1 -1 1 -1 1 1 1 1 1 3 1 0 1 1 1 0 1 -2 1 1 1 -2 1 1 1 -2 1 -2 1 0 1 1 1 1 1 1 1 0 1 3 1 0 1 -2 1 -1 1 1 1 0 1 -2 1 -1 1 0 1 2 1 -2 1 0 1 2 1 2 1 -1 1 -2 1 1 1 3 1 2 1 0 1 -3 1 -1 1 -4 1 0 1 0 1 1 1 1 1 2 1 1 1 -2 1 0 1 0 1 0 1 -2 1 1 1 1 1 0 1 0"/>
<path transform="translate(1394.4,0) scale(3.3776,0.1)" vector-effect="non-scaling-stroke" stroke="#808000" d="M0 1110l1 4 1 4 1 1 1 8 1 7 1 2 1 -1 1 0 1 3 1 2 1 0 1 0 1 0 1 -1 1 1 1 -2 1 3 1 -4 1 3 1 -3 1 2 1 -2 1 0 1 1 1 3 1 0 1 -1 1 -2 1 3 1 2 1 -1 1 -3 1 -2 1 0 1 0 1 3 1 -1 1 0 1 -3 1 3 1 0 1 1 1 -2 1 -2 1 -1 1 0 1 2 1 0 1 3 1 -2 1 0 1 -1 1 -1 1 3 1 -2 1 2 1 -2 1 4 1 1 1 2 1 -2 1 0 1 -5 1 1 1 -1 1 0 1 -2 1 1 1 1 1 3 1 1 1 1 1 -1 1 0 1 0 1 -1 1 -1 1 0 1 2 1 -2 1 -2 1 -1 1 1 1 0 1 0 1 1 1 3 1 1 1 -3 1 -1 1 -3 1 2 1 -1 1 2 1 0 1 0 1 2 1 1 1 1 1 -1 1 0 1 1 1 0 1 -1 1 -2 1 1 1 3 1 -2 1 -1 1 -2 1 0 1 -2 1 0 1 2 1 1 1 0"/>
<path transform="translate(1394.4,0) scale(3.3776,0.1)" vector-effect="non-scaling-stroke" stroke="#daa520" d="M0 929l1 4 1 4 1 2 1 0 1 2 1 0 1 1 1 0 1 3 1 2 1 2 1 1 1 -1 1 -3 1 0 1 2 1 2 1 -2 1 0 1 0 1 1 1 1 1 0 1 1 1 -2 1 2 1 -1 1 -3 1 1 1 1 1 1 1 -4 1 0 1 2 1 3 1 -3 1 -1 1 0 1 0 1 2 1 3 1 1 1 -3 1 -1 1 0 1 1 1 -2 1 2 1 0 1 1 1 0 1 -1 1 -2 1 -1 1 1 1 2 1 -1 1 -2 1 -1 1 2 1 -1 1 2 1 0 1 2 1 -3 1 3 1 1 1 0 1 -1 1 -2 1 0 1 0 1 1 1 0 1 0 1 -2 1 -2 1 1 1 1 1 1 1 0 1 1 1 2 1 -2 1 -1 1 -1 1 2 1 -1 1 1 1 0 1 1 1 -1 1 -3 1 2 1 0 1 0 1 -3 1 1 1 2 1 2 1 -1 1 -1 1 -1 1 0 1 1 1 2 1 2 1 0 1 -1 1 -2 1 -4 1 0 1 0 1 1 1 1 1 0"/>
<path transform="translate(1394.4,0) scale(3.3776,0.1)" vector-effect="non-scaling-stroke" stroke="#ff8c00" d="M0 931l1 -72 1 6 1 -64 1 20 1 40 1 -11 1 -30 1 -2 1 9 1 -14 1 -7 1 8 1 31 1 -15 1 11 1 -8 1 -18 1 7 1 14 1 -14 1 8 1 -7 1 5 1 -2 1 1 1 -2 1 1 1 -1 1 4 1 -5 1 8 1 -27 1 22 1 -7 1 3 1 1 1 -3 1 8 1 -2 1 6 1 -5 1 2 1 -21 1 22 1 -7 1 -5 1 -4 1 15 1 9 1 -21 1 2 1 10 1 7 1 -15 1 -3 1 4 1 -7 1 8 1 1 1 -7 1 8 1 -7 1 8 1 -4 1 0 1 -2 1 5 1 -12 1 7 1 -3 1 7 1 -9 1 -5 1 15 1 3 1 0 1 1 1 1 1 -6 1 -7 1 -2 1 -2 1 4 1 7 1 -7 1 5 1 1 1 4 1 -9 1 -2 1 10 1 -2 1 -5 1 4 1 -5 1 2 1 -3 1 14 1 -9 1 8 1 -15 1 4 1 3 1 -8 1 -3 1 9 1 12 1 -8 1 11 1 -9 1 -3 1 1 1 -5 1 9 1 -3 1 -3"/>
<path transform="translate(1394.4,0) scale(3.3776,0.1)" vector-effect="non-scaling-stroke" stroke="#ff4500" d="M0 755l1 -67 1 0 1 -66 1 23 1 21 1 9 1 -39 1 -4 1 18 1 -20 1 -16 1 24 1 32 1 -31 1 17 1 -3 1 -18 1 12 1 2 1 -4 1 3 1 -6 1 4 1 -3 1 4 1 -10 1 8 1 -2 1 0 1 -1 1 19 1 -36 1 22 1 -7 1 3 1 1 1 -3 1 4 1 5 1 -2 1 0 1 1 1 -16 1 18 1 0 1 -11 1 -2 1 13 1 0 1 -14 1 4 1 10 1 2 1 -5 1 -9 1 7 1 -4 1 3 1 -1 1 -1 1 4 1 -5 1 4 1 1 1 -8 1 3 1 3 1 -4 1 0 1 7 1 1 1 -12 1 -5 1 12 1 4 1 0 1 -2 1 7 1 -1 1 -13 1 -1 1 -2 1 5 1 0 1 -4 1 9 1 -3 1 6 1 -12 1 2 1 11 1 -9 1 4 1 1 1 -5 1 6 1 -11 1 14 1 -9 1 8 1 -17 1 2 1 7 1 -4 1 -3 1 4 1 15 1 -12 1 13 1 -6 1 6 1 -12 1 -3 1 9 1 0 1 -7"/>
<path transform="translate(1394.4,0) scale(3.3776,0.1)" vector-effect="non-scaling-stroke" stroke="#dc143c" d="M0 556l1 -51 1 -10 1 -53 1 6 1 28 1 2 1 -34 1 8 1 4 1 -22 1 -11 1 26 1 24 1 -20 1 4 1 2 1 -14 1 10 1 11 1 -18 1 11 1 -9 1 6 1 -5 1 5 1 -5 1 -2 1 2 1 2 1 -1 1 11 1 -30 1 20 1 -4 1 5 1 3 1 -4 1 4 1 -1 1 6 1 -1 1 -6 1 -15 1 25 1 -4 1 -7 1 -11 1 16 1 4 1 -13 1 1 1 6 1 2 1 -2 1 -11 1 6 1 -3 1 6 1 -4 1 -2 1 4 1 -2 1 6 1 1 1 -7 1 -1 1 7 1 -12 1 7 1 3 1 1 1 -11 1 -5 1 15 1 3 1 -5 1 4 1 2 1 3 1 -15 1 0 1 -6 1 10 1 5 1 -8 1 5 1 7 1 1 1 -21 1 5 1 13 1 -4 1 -4 1 0 1 -2 1 5 1 -5 1 12 1 -8 1 8 1 -16 1 -3 1 8 1 -4 1 -2 1 4 1 14 1 -6 1 9 1 -11 1 1 1 -5 1 1 1 3 1 -1 1 -6"/>
<path transform="translate(1394.4,0) scale(3.3776,0.1)" vector-effect="non-scaling-stroke" stroke="#800080" d="M0 417l1 -72 1 22 1 -73 1 27 1 29 1 0 1 -24 1 0 1 2 1 -13 1 -6 1 15 1 21 1 -20 1 10 1 -1 1 -9 1 -2 1 11 1 -14 1 12 1 -16 1 12 1 -9 1 6 1 -9 1 11 1 -4 1 6 1 -7 1 11 1 -37 1 31 1 -7 1 6 1 -3 1 -4 1 4 1 2 1 0 1 0 1 9 1 -23 1 20 1 4 1 -11 1 -9 1 20 1 -3 1 -5 1 -8 1 10 1 3 1 -3 1 -10 1 5 1 -8 1 6 1 -4 1 2 1 0 1 3 1 5 1 1 1 -10 1 5 1 1 1 -9 1 4 1 2 1 3 1 -7 1 -7 1 15 1 4 1 -5 1 1 1 5 1 -3 1 -13 1 4 1 -5 1 6 1 5 1 -12 1 13 1 1 1 1 1 -12 1 -1 1 14 1 -2 1 -4 1 2 1 -9 1 11 1 -4 1 11 1 -8 1 4 1 -18 1 1 1 5 1 4 1 -10 1 10 1 10 1 -7 1 12 1 -11 1 5 1 -12 1 0 1 6 1 -2 1 -4"/>
</g>
<rect x="1690" y="72.7" width="88.6" height="164.9" rx="3" fill="#ffffff" fill-opacity="0.8" stroke="#d0d0d0" stroke-width="1"/>
<line x1="1694.6" y1="84" x2="1722.2" y2="84" stroke="#32cd32" stroke-width="2"/>
<text x="1732.2" y="89" style="font-family:'DejaVu Sans',sans-serif;font-size:13.6px">Line 1</text>
<line x1="1694.6" y1="104.07" x2="1722.2" y2="104.07" stroke="#008000" stroke-width="2"/>
<text x="1732.2" y="109.07" style="font-family:'DejaVu Sans',sans-serif;font-size:13.6px">Line 2</text>
<line x1="1694.6" y1="124.14" x2="1722.2" y2="124.14" stroke="#808000" stroke-width="2"/>
<text x="1732.2" y="129.14" style="font-family:'DejaVu Sans',sans-serif;font-size:13.6px">Line 3</text>
<line x1="1694.6" y1="144.21" x2="1722.2" y2="144.21" stroke="#daa520" stroke-width="2"/>
<text x="1732.2" y="149.21" style="font-family:'DejaVu Sans',sans-serif;font-size:13.6px">Line 4</text>
<line x1="1694.6" y1="164.28" x2="1722.2" y2="164.28" stroke="#ff8c00" stroke-width="2"/>
<text x="1732.2" y="169.28" style="font-family:'DejaVu Sans',sans-serif;font-size:13.6px">Line 5</text>
<line x1="1694.6" y1="184.35" x2="1722.2" y2="184.35" stroke="#ff4500" stroke-width="2"/>
<text x="1732.2" y="189.35" style="font-family:'DejaVu Sans',sans-serif;font-size:13.6px">Line 6</text>
<line x1="1694.6" y1="204.42" x2="1722.2" y2="204.42" stroke="#dc143c" stroke-width="2"/>
<text x="1732.2" y="209.42" style="font-family:'DejaVu Sans',sans-serif;font-size:13.6px">Line 7</text>
<line x1="1694.6" y1="224.49" x2="1722.2" y2="224.49" stroke="#800080" stroke-width="2"/>
<text x="1732.2" y="229.49" style="font-family:'DejaVu Sans',sans-serif;font-size:13.6px">Line 8</text>
<rect x="1597.2" y="391.5" width="391.9" height="294.5" fill="none" stroke="#737373" stroke-width="1.5"/>
<line x1="1593.2" y1="684.3" x2="1597.2" y2="684.3" stroke="#737373" stroke-width="1.2"/>
<text x="1589" y="690" text-anchor="end" style="font-family:'DejaVu Sans',sans-serif;font-size:16.7px">0</text>
<line x1="1593.2" y1="625.74" x2="1597.2" y2="625.74" stroke="#737373" stroke-width="1.2"/>
<text x="1589" y="631.44" text-anchor="end" style="font-family:'DejaVu Sans',sans-serif;font-size:16.7px">50</text>
<line x1="1593.2" y1="567.18" x2="1597.2" y2="567.18" stroke="#737373" stroke-width="1.2"/>
<text x="1589" y="572.88" text-anchor="end" style="font-family:'DejaVu Sans',sans-serif;font-size:16.7px">100</text>
<line x1="1593.2" y1="508.62" x2="1597.2" y2="508.62" stroke="#737373" stroke-width="1.2"/>
<text x="1589" y="514.32" text-anchor="end" style="font-family:'DejaVu Sans',sans-serif;font-size:16.7px">150</text>
<line x1="1593.2" y1="450.06" x2="1597.2" y2="450.06" stroke="#737373" stroke-width="1.2"/>
<text x="1589" y="455.76" text-anchor="end" style="font-family:'DejaVu Sans',sans-serif;font-size:16.7px">200</text>
<line x1="1593.2" y1="391.5" x2="1597.2" y2="391.5" stroke="#737373" stroke-width="1.2"/>
<text x="1589" y="397.2" text-anchor="end" style="font-family:'DejaVu Sans',sans-serif;font-size:16.7px">250</text>
<line x1="1651.26" y1="686" x2="1651.26" y2="690" stroke="#737373" stroke-width="1.2"/>
<text x="1651.26" y="705.3" text-anchor="middle" style="font-family:'DejaVu Sans',sans-serif;font-size:16.7px">5</text>
<line x1="1718.82" y1="686" x2="1718.82" y2="690" stroke="#737373" stroke-width="1.2"/>
<text x="1718.82" y="705.3" text-anchor="middle" style="font-family:'DejaVu Sans',sans-serif;font-size:16.7px">10</text>
<line x1="1786.39" y1="686" x2="1786.39" y2="690" stroke="#737373" stroke-width="1.2"/>
<text x="1786.39" y="705.3" text-anchor="middle" style="font-family:'DejaVu Sans',sans-serif;font-size:16.7px">15</text>
<line x1="1853.96" y1="686" x2="1853.96" y2="690" stroke="#737373" stroke-width="1.2"/>
<text x="1853.96" y="705.3" text-anchor="middle" style="font-family:'DejaVu Sans',sans-serif;font-size:16.7px">20</text>
<line x1="1921.53" y1="686" x2="1921.53" y2="690" stroke="#737373" stroke-width="1.2"/>
<text x="1921.53" y="705.3" text-anchor="middle" style="font-family:'DejaVu Sans',sans-serif;font-size:16.7px">25</text>
<line x1="1989.1" y1="686" x2="1989.1" y2="690" stroke="#737373" stroke-width="1.2"/>
<text x="1989.1" y="705.3" text-anchor="middle" style="font-family:'DejaVu Sans',sans-serif;font-size:16.7px">30</text>
<text x="1793.15" y="726.3" text-anchor="middle" style="font-family:'DejaVu Sans',sans-serif;font-size:18.6px">Frequency (GHz)</text>
<text transform="translate(1550.2,538.75) rotate(-90)" text-anchor="middle" style="font-family:'DejaVu Sans',sans-serif;font-size:18.6px">Delay (ps)</text>
<clipPath id="cp5"><rect x="1597.2" y="391.5" width="391.9" height="294.5"/></clipPath>
<g clip-path="url(#cp5)" fill="none" stroke-width="2.2" stroke-linejoin="round">
<path transform="translate(1597.2,0) scale(3.3784,0.1)" vector-effect="non-scaling-stroke" stroke="#32cd32" d="M0 5439l1 0 1 2 1 1 1 3 1 -1 1 2 1 -1 1 0 1 2 1 0 1 2 1 -1 1 0 1 -1 1 -1 1 1 1 -1 1 2 1 2 1 0 1 -2 1 -1 1 1 1 0 1 0 1 2 1 0 1 0 1 -3 1 2 1 1 1 1 1 -1 1 -1 1 0 1 -1 1 -2 1 0 1 -1 1 1 1 -3 1 2 1 1 1 2 1 0 1 1 1 1 1 -1 1 1 1 0 1 1 1 -2 1 0 1 0 1 -1 1 0 1 0 1 1 1 -1 1 -1 1 -1 1 1 1 1 1 -1 1 0 1 -2 1 1 1 1 1 3 1 0 1 0 1 0 1 2 1 -2 1 -1 1 -1 1 0 1 0 1 0 1 0 1 1 1 2 1 0 1 -1 1 -2 1 -1 1 2 1 3 1 0 1 -2 1 -1 1 2 1 -1 1 0 1 -1 1 -2 1 -2 1 0 1 2 1 3 1 -1 1 1 1 0 1 2 1 -3 1 -1 1 0 1 2 1 -1 1 -3 1 0 1 2 1 0 1 0 1 2 1 1"/>
<path transform="translate(1597.2,0) scale(3.3784,0.1)" vector-effect="non-scaling-stroke" stroke="#008000" d="M0 5445l1 3 1 2 1 2 1 -2 1 -2 1 1 1 0 1 2 1 0 1 5 1 -2 1 1 1 0 1 2 1 -2 1 -3 1 -1 1 1 1 3 1 1 1 3 1 -1 1 0 1 -3 1 -2 1 -1 1 -3 1 2 1 1 1 3 1 0 1 0 1 1 1 0 1 -1 1 -1 1 0 1 3 1 1 1 0 1 -2 1 0 1 -1 1 -1 1 -2 1 1 1 3 1 3 1 2 1 0 1 -3 1 -2 1 0 1 2 1 1 1 1 1 -2 1 0 1 -2 1 1 1 -2 1 0 1 -2 1 0 1 1 1 2 1 1 1 0 1 -1 1 -1 1 -1 1 1 1 0 1 -1 1 2 1 0 1 0 1 -1 1 1 1 0 1 -1 1 1 1 3 1 -2 1 -1 1 -2 1 -1 1 0 1 0 1 3 1 0 1 1 1 -1 1 1 1 -1 1 1 1 -2 1 2 1 2 1 1 1 -2 1 -2 1 -1 1 -2 1 -1 1 0 1 2 1 0 1 0 1 -1 1 1 1 0 1 -1 1 1 1 3 1 1"/>
<path transform="translate(1597.2,0) scale(3.3784,0.1)" vector-effect="non-scaling-stroke" stroke="#808000" d="M0 5447l1 2 1 4 1 -1 1 1 1 2 1 6 1 -1 1 0 1 0 1 1 1 0 1 -1 1 1 1 1 1 0 1 1 1 -2 1 1 1 -1 1 3 1 0 1 1 1 -4 1 0 1 -2 1 4 1 1 1 1 1 -1 1 -3 1 1 1 -2 1 1 1 0 1 -1 1 1 1 0 1 -1 1 -1 1 0 1 2 1 0 1 0 1 0 1 1 1 1 1 0 1 -2 1 0 1 -2 1 2 1 1 1 1 1 -1 1 -1 1 1 1 1 1 -1 1 -1 1 -2 1 2 1 0 1 2 1 -2 1 1 1 0 1 1 1 1 1 -1 1 -1 1 1 1 -1 1 -1 1 0 1 1 1 0 1 -1 1 0 1 2 1 0 1 0 1 -1 1 -2 1 -1 1 -1 1 1 1 2 1 0 1 1 1 0 1 1 1 -1 1 0 1 -3 1 0 1 0 1 1 1 1 1 -1 1 0 1 -4 1 3 1 0 1 3 1 -1 1 -1 1 1 1 1 1 0 1 -1 1 0 1 2 1 0 1 -2 1 -3 1 1"/>
<path transform="translate(1597.2,0) scale(3.3784,0.1)" vector-effect="non-scaling-stroke" stroke="#daa520" d="M0 5442l1 2 1 -1 1 2 1 1 1 0 1 2 1 1 1 2 1 1 1 -1 1 0 1 0 1 -1 1 0 1 0 1 0 1 1 1 0 1 1 1 0 1 1 1 0 1 1 1 0 1 -1 1 -1 1 -1 1 -2 1 -1 1 1 1 2 1 1 1 -1 1 1 1 -2 1 2 1 -1 1 1 1 0 1 0 1 0 1 -1 1 -2 1 0 1 0 1 3 1 1 1 0 1 -1 1 1 1 1 1 1 1 -1 1 -1 1 0 1 -1 1 -1 1 -1 1 3 1 1 1 -1 1 -2 1 0 1 0 1 2 1 3 1 -1 1 -1 1 -3 1 1 1 0 1 -1 1 1 1 0 1 2 1 -1 1 -1 1 -1 1 -1 1 2 1 1 1 -1 1 -2 1 -2 1 0 1 2 1 3 1 0 1 -2 1 1 1 -1 1 0 1 0 1 0 1 2 1 -1 1 1 1 -1 1 1 1 -1 1 2 1 0 1 1 1 -4 1 -1 1 0 1 3 1 0 1 0 1 -3 1 3 1 -1 1 5 1 -4 1 1 1 -3"/>
<path transform="translate(1597.2,0) scale(3.3784,0.1)" vector-effect="non-scaling-stroke" stroke="#ff8c00" d="M0 5533l1 -58 1 24 1 -28 1 -2 1 6 1 5 1 4 1 -18 1 -9 1 10 1 -5 1 18 1 9 1 -10 1 -13 1 -21 1 28 1 -7 1 -1 1 -13 1 18 1 -4 1 6 1 9 1 -3 1 3 1 -19 1 8 1 -1 1 0 1 5 1 0 1 -2 1 -8 1 -3 1 24 1 -15 1 -9 1 15 1 -4 1 -4 1 -1 1 -4 1 12 1 -8 1 -4 1 2 1 -8 1 9 1 7 1 2 1 -6 1 -1 1 1 1 3 1 -9 1 0 1 -4 1 16 1 -3 1 -7 1 2 1 4 1 -1 1 4 1 -14 1 4 1 16 1 -7 1 3 1 -16 1 9 1 7 1 -9 1 3 1 -11 1 6 1 0 1 4 1 -4 1 9 1 -11 1 9 1 5 1 -5 1 1 1 -8 1 4 1 10 1 -12 1 2 1 8 1 -10 1 6 1 3 1 -9 1 -2 1 9 1 -11 1 2 1 10 1 -14 1 11 1 -4 1 14 1 -13 1 5 1 -7 1 10 1 -13 1 -6 1 2 1 24 1 -16 1 3 1 15"/>
<path transform="translate(1597.2,0) scale(3.3784,0.1)" vector-effect="non-scaling-stroke" stroke="#ff4500" d="M0 5500l1 -63 1 37 1 -29 1 6 1 -1 1 -12 1 11 1 -2 1 -16 1 7 1 -8 1 23 1 7 1 -9 1 -5 1 -29 1 32 1 -13 1 -1 1 -6 1 13 1 1 1 1 1 6 1 3 1 -1 1 -18 1 14 1 -2 1 -3 1 1 1 1 1 -1 1 -9 1 -2 1 22 1 -16 1 -7 1 17 1 -2 1 -2 1 -10 1 -1 1 11 1 -8 1 -4 1 11 1 -10 1 3 1 10 1 0 1 -3 1 -1 1 -2 1 -6 1 1 1 7 1 -8 1 9 1 3 1 -7 1 5 1 -5 1 4 1 5 1 -12 1 1 1 10 1 -1 1 -4 1 -8 1 10 1 8 1 -15 1 9 1 -11 1 3 1 1 1 0 1 -5 1 13 1 -9 1 3 1 9 1 -4 1 -5 1 0 1 -3 1 11 1 -10 1 7 1 0 1 -7 1 4 1 8 1 -12 1 -2 1 9 1 -8 1 -1 1 11 1 -16 1 17 1 -8 1 11 1 -15 1 7 1 -3 1 9 1 -13 1 -2 1 -2 1 32 1 -28 1 2 1 17"/>
<path transform="translate(1597.2,0) scale(3.3784,0.1)" vector-effect="non-scaling-stroke" stroke="#dc143c" d="M0 5502l1 -79 1 34 1 -19 1 0 1 -7 1 -6 1 11 1 -18 1 -8 1 22 1 -9 1 18 1 9 1 -16 1 -6 1 -22 1 21 1 -15 1 3 1 -14 1 20 1 -1 1 2 1 9 1 -3 1 4 1 -11 1 6 1 -1 1 -2 1 6 1 -7 1 6 1 -6 1 -6 1 19 1 -12 1 -11 1 17 1 -1 1 -5 1 -1 1 -1 1 4 1 1 1 -11 1 3 1 -5 1 7 1 7 1 3 1 -7 1 2 1 0 1 0 1 -9 1 2 1 -2 1 11 1 1 1 -4 1 -5 1 -4 1 8 1 6 1 -16 1 8 1 13 1 -3 1 -7 1 -3 1 5 1 8 1 -10 1 4 1 -13 1 9 1 -7 1 5 1 -2 1 9 1 -9 1 2 1 14 1 -11 1 0 1 -3 1 -1 1 10 1 -12 1 6 1 7 1 -12 1 7 1 3 1 -9 1 -2 1 10 1 -9 1 4 1 4 1 -16 1 14 1 0 1 9 1 -14 1 7 1 -7 1 11 1 -13 1 0 1 -8 1 29 1 -17 1 -1 1 16"/>
<path transform="translate(1597.2,0) scale(3.3784,0.1)" vector-effect="non-scaling-stroke" stroke="#800080" d="M0 5542l1 -97 1 35 1 -46 1 8 1 4 1 -15 1 14 1 -14 1 -2 1 12 1 -13 1 29 1 3 1 -6 1 -14 1 -17 1 23 1 -17 1 4 1 -10 1 19 1 -6 1 11 1 -1 1 -1 1 -1 1 -15 1 5 1 6 1 -3 1 6 1 -3 1 2 1 0 1 -10 1 19 1 -18 1 3 1 8 1 0 1 -5 1 -4 1 0 1 6 1 -6 1 -2 1 3 1 -10 1 10 1 10 1 -5 1 0 1 -1 1 -3 1 2 1 -2 1 -3 1 0 1 8 1 -4 1 1 1 -2 1 0 1 0 1 9 1 -16 1 3 1 12 1 -7 1 1 1 -2 1 -2 1 12 1 -12 1 6 1 -9 1 5 1 -1 1 0 1 -5 1 8 1 -6 1 5 1 9 1 -7 1 3 1 -6 1 0 1 10 1 -11 1 4 1 7 1 -12 1 9 1 3 1 -10 1 -2 1 7 1 -10 1 2 1 9 1 -14 1 7 1 1 1 17 1 -18 1 8 1 -6 1 15 1 -19 1 1 1 -4 1 21 1 -18 1 6 1 18"/>
</g>
<rect x="1892.9" y="456.2" width="88.5" height="165.1" rx="3" fill="#ffffff" fill-opacity="0.8" stroke="#d0d0d0" stroke-width="1"/>
<line x1="1897.5" y1="466.8" x2="1925" y2="466.8" stroke="#32cd32" stroke-width="2"/>
<text x="1934.5" y="471.8" style="font-family:'DejaVu Sans',sans-serif;font-size:13.6px">Line 1</text>
<line x1="1897.5" y1="486.97" x2="1925" y2="486.97" stroke="#008000" stroke-width="2"/>
<text x="1934.5" y="491.97" style="font-family:'DejaVu Sans',sans-serif;font-size:13.6px">Line 2</text>
<line x1="1897.5" y1="507.14" x2="1925" y2="507.14" stroke="#808000" stroke-width="2"/>
<text x="1934.5" y="512.14" style="font-family:'DejaVu Sans',sans-serif;font-size:13.6px">Line 3</text>
<line x1="1897.5" y1="527.31" x2="1925" y2="527.31" stroke="#daa520" stroke-width="2"/>
<text x="1934.5" y="532.31" style="font-family:'DejaVu Sans',sans-serif;font-size:13.6px">Line 4</text>
<line x1="1897.5" y1="547.48" x2="1925" y2="547.48" stroke="#ff8c00" stroke-width="2"/>
<text x="1934.5" y="552.48" style="font-family:'DejaVu Sans',sans-serif;font-size:13.6px">Line 5</text>
<line x1="1897.5" y1="567.65" x2="1925" y2="567.65" stroke="#ff4500" stroke-width="2"/>
<text x="1934.5" y="572.65" style="font-family:'DejaVu Sans',sans-serif;font-size:13.6px">Line 6</text>
<line x1="1897.5" y1="587.82" x2="1925" y2="587.82" stroke="#dc143c" stroke-width="2"/>
<text x="1934.5" y="592.82" style="font-family:'DejaVu Sans',sans-serif;font-size:13.6px">Line 7</text>
<line x1="1897.5" y1="607.99" x2="1925" y2="607.99" stroke="#800080" stroke-width="2"/>
<text x="1934.5" y="612.99" style="font-family:'DejaVu Sans',sans-serif;font-size:13.6px">Line 8</text>
<rect x="1439.1" y="774.4" width="391.4" height="295.2" fill="none" stroke="#737373" stroke-width="1.5"/>
<line x1="1435.1" y1="1067.8" x2="1439.1" y2="1067.8" stroke="#737373" stroke-width="1.2"/>
<text x="1430.9" y="1073.5" text-anchor="end" style="font-family:'DejaVu Sans',sans-serif;font-size:16.7px">0</text>
<line x1="1435.1" y1="1009.12" x2="1439.1" y2="1009.12" stroke="#737373" stroke-width="1.2"/>
<text x="1430.9" y="1014.82" text-anchor="end" style="font-family:'DejaVu Sans',sans-serif;font-size:16.7px">50</text>
<line x1="1435.1" y1="950.44" x2="1439.1" y2="950.44" stroke="#737373" stroke-width="1.2"/>
<text x="1430.9" y="956.14" text-anchor="end" style="font-family:'DejaVu Sans',sans-serif;font-size:16.7px">100</text>
<line x1="1435.1" y1="891.76" x2="1439.1" y2="891.76" stroke="#737373" stroke-width="1.2"/>
<text x="1430.9" y="897.46" text-anchor="end" style="font-family:'DejaVu Sans',sans-serif;font-size:16.7px">150</text>
<line x1="1435.1" y1="833.08" x2="1439.1" y2="833.08" stroke="#737373" stroke-width="1.2"/>
<text x="1430.9" y="838.78" text-anchor="end" style="font-family:'DejaVu Sans',sans-serif;font-size:16.7px">200</text>
<line x1="1435.1" y1="774.4" x2="1439.1" y2="774.4" stroke="#737373" stroke-width="1.2"/>
<text x="1430.9" y="780.1" text-anchor="end" style="font-family:'DejaVu Sans',sans-serif;font-size:16.7px">250</text>
<line x1="1493.09" y1="1069.6" x2="1493.09" y2="1073.6" stroke="#737373" stroke-width="1.2"/>
<text x="1493.09" y="1088.9" text-anchor="middle" style="font-family:'DejaVu Sans',sans-serif;font-size:16.7px">5</text>
<line x1="1560.57" y1="1069.6" x2="1560.57" y2="1073.6" stroke="#737373" stroke-width="1.2"/>
<text x="1560.57" y="1088.9" text-anchor="middle" style="font-family:'DejaVu Sans',sans-serif;font-size:16.7px">10</text>
<line x1="1628.05" y1="1069.6" x2="1628.05" y2="1073.6" stroke="#737373" stroke-width="1.2"/>
<text x="1628.05" y="1088.9" text-anchor="middle" style="font-family:'DejaVu Sans',sans-serif;font-size:16.7px">15</text>
<line x1="1695.53" y1="1069.6" x2="1695.53" y2="1073.6" stroke="#737373" stroke-width="1.2"/>
<text x="1695.53" y="1088.9" text-anchor="middle" style="font-family:'DejaVu Sans',sans-serif;font-size:16.7px">20</text>
<line x1="1763.02" y1="1069.6" x2="1763.02" y2="1073.6" stroke="#737373" stroke-width="1.2"/>
<text x="1763.02" y="1088.9" text-anchor="middle" style="font-family:'DejaVu Sans',sans-serif;font-size:16.7px">25</text>
<line x1="1830.5" y1="1069.6" x2="1830.5" y2="1073.6" stroke="#737373" stroke-width="1.2"/>
<text x="1830.5" y="1088.9" text-anchor="middle" style="font-family:'DejaVu Sans',sans-serif;font-size:16.7px">30</text>
<text x="1634.8" y="1109.9" text-anchor="middle" style="font-family:'DejaVu Sans',sans-serif;font-size:18.6px">Frequency (GHz)</text>
<text transform="translate(1392.1,922) rotate(-90)" text-anchor="middle" style="font-family:'DejaVu Sans',sans-serif;font-size:18.6px">Delay (ps)</text>
<clipPath id="cp6"><rect x="1439.1" y="774.4" width="391.4" height="295.2"/></clipPath>
<g clip-path="url(#cp6)" fill="none" stroke-width="2.2" stroke-linejoin="round">
<path transform="translate(1439.1,0) scale(3.3741,0.1)" vector-effect="non-scaling-stroke" stroke="#32cd32" d="M0 9460l1 3 1 -2 1 0 1 -5 1 2 1 3 1 3 1 -2 1 -2 1 -1 1 2 1 0 1 0 1 1 1 1 1 -2 1 -4 1 0 1 2 1 0 1 0 1 1 1 1 1 -1 1 -3 1 1 1 0 1 2 1 -2 1 1 1 -1 1 2 1 1 1 1 1 2 1 -1 1 0 1 -4 1 1 1 0 1 0 1 1 1 0 1 0 1 -1 1 1 1 0 1 2 1 -2 1 -2 1 -2 1 1 1 2 1 1 1 0 1 0 1 0 1 3 1 0 1 0 1 -2 1 -2 1 0 1 1 1 1 1 -1 1 -1 1 1 1 -1 1 0 1 0 1 -2 1 0 1 2 1 0 1 -1 1 1 1 1 1 -1 1 0 1 0 1 0 1 0 1 -1 1 0 1 -1 1 -1 1 2 1 0 1 1 1 -3 1 2 1 0 1 0 1 1 1 -1 1 1 1 0 1 1 1 0 1 -1 1 0 1 -1 1 0 1 0 1 -1 1 0 1 1 1 0 1 0 1 -1 1 0 1 -1 1 -1 1 3 1 1"/>
<path transform="translate(1439.1,0) scale(3.3741,0.1)" vector-effect="non-scaling-stroke" stroke="#008000" d="M0 9602l1 6 1 5 1 4 1 0 1 3 1 1 1 3 1 1 1 -1 1 1 1 2 1 2 1 4 1 2 1 -1 1 -2 1 -4 1 0 1 1 1 2 1 -1 1 -1 1 0 1 4 1 -1 1 1 1 0 1 -1 1 0 1 0 1 1 1 -1 1 0 1 0 1 1 1 1 1 0 1 -1 1 1 1 -2 1 1 1 -1 1 -1 1 0 1 1 1 0 1 1 1 -1 1 0 1 0 1 0 1 2 1 1 1 0 1 -1 1 1 1 2 1 -2 1 -2 1 1 1 -1 1 3 1 -3 1 2 1 -2 1 0 1 -1 1 2 1 1 1 -2 1 0 1 -1 1 1 1 1 1 -1 1 0 1 -4 1 -1 1 1 1 2 1 3 1 1 1 -1 1 -1 1 -1 1 1 1 -1 1 -1 1 0 1 1 1 0 1 -2 1 2 1 1 1 2 1 -2 1 -3 1 0 1 -2 1 2 1 0 1 3 1 -2 1 0 1 -1 1 2 1 0 1 1 1 0 1 0 1 1 1 -1 1 -1 1 -2 1 2 1 0"/>
<path transform="translate(1439.1,0) scale(3.3741,0.1)" vector-effect="non-scaling-stroke" stroke="#808000" d="M0 9790l1 4 1 -2 1 0 1 -1 1 1 1 1 1 3 1 4 1 1 1 1 1 1 1 0 1 -1 1 -1 1 1 1 -1 1 1 1 0 1 2 1 2 1 1 1 -2 1 0 1 -2 1 2 1 -1 1 1 1 0 1 -2 1 -1 1 0 1 2 1 3 1 -2 1 0 1 -1 1 1 1 1 1 -3 1 0 1 -1 1 -1 1 3 1 1 1 2 1 -2 1 -1 1 -1 1 1 1 2 1 0 1 0 1 -3 1 -2 1 0 1 0 1 3 1 -1 1 0 1 -1 1 0 1 2 1 -1 1 1 1 -3 1 2 1 1 1 -1 1 -1 1 0 1 1 1 -3 1 -1 1 3 1 3 1 0 1 0 1 1 1 -1 1 -1 1 -1 1 0 1 1 1 0 1 0 1 -1 1 1 1 0 1 -1 1 0 1 0 1 -1 1 0 1 1 1 2 1 0 1 -1 1 -2 1 0 1 1 1 1 1 0 1 1 1 -1 1 1 1 -1 1 0 1 0 1 -1 1 1 1 -1 1 -1 1 -1 1 0 1 2 1 0"/>
<path transform="translate(1439.1,0) scale(3.3741,0.1)" vector-effect="non-scaling-stroke" stroke="#daa520" d="M0 9929l1 7 1 7 1 1 1 6 1 3 1 2 1 -2 1 3 1 2 1 -2 1 -3 1 0 1 8 1 2 1 0 1 -3 1 -2 1 0 1 0 1 0 1 3 1 -2 1 1 1 -1 1 1 1 -1 1 -2 1 3 1 0 1 0 1 1 1 1 1 1 1 -1 1 0 1 1 1 -1 1 -1 1 -2 1 0 1 1 1 3 1 0 1 0 1 -4 1 -2 1 -2 1 3 1 4 1 1 1 0 1 -2 1 -1 1 0 1 1 1 -1 1 1 1 -1 1 3 1 -1 1 1 1 -2 1 0 1 -2 1 0 1 1 1 2 1 2 1 -1 1 -1 1 0 1 -1 1 -1 1 -1 1 2 1 1 1 0 1 -1 1 2 1 0 1 2 1 -2 1 -1 1 -1 1 0 1 1 1 0 1 -2 1 -1 1 -1 1 2 1 0 1 1 1 -1 1 2 1 -1 1 1 1 1 1 -2 1 -1 1 -1 1 3 1 2 1 0 1 -1 1 1 1 0 1 -1 1 -2 1 1 1 0 1 2 1 -1 1 0 1 0 1 -1"/>
<path transform="translate(1439.1,0) scale(3.3741,0.1)" vector-effect="non-scaling-stroke" stroke="#ff8c00" d="M0 10276l1 -33 1 -33 1 -21 1 -7 1 -28 1 17 1 8 1 -34 1 11 1 16 1 -29 1 15 1 16 1 -4 1 5 1 11 1 -33 1 1 1 31 1 -17 1 15 1 -19 1 1 1 13 1 -24 1 19 1 -3 1 -10 1 11 1 -2 1 3 1 -7 1 0 1 -2 1 11 1 -19 1 19 1 -17 1 22 1 -7 1 3 1 -6 1 2 1 -2 1 8 1 1 1 -5 1 -1 1 11 1 -15 1 10 1 -17 1 14 1 -20 1 13 1 3 1 1 1 -2 1 -2 1 13 1 -14 1 10 1 1 1 11 1 -18 1 -5 1 0 1 4 1 3 1 -6 1 -2 1 7 1 -5 1 3 1 1 1 -2 1 3 1 4 1 -15 1 9 1 -13 1 7 1 14 1 -5 1 -11 1 0 1 10 1 0 1 3 1 2 1 -7 1 1 1 -8 1 7 1 -6 1 13 1 -3 1 -3 1 -10 1 17 1 2 1 -9 1 -8 1 16 1 -7 1 6 1 -14 1 5 1 5 1 -4 1 1 1 1 1 -2 1 8 1 -4 1 -4"/>
<path transform="translate(1439.1,0) scale(3.3741,0.1)" vector-effect="non-scaling-stroke" stroke="#ff4500" d="M0 10413l1 -32 1 -34 1 -16 1 11 1 -27 1 3 1 -1 1 -24 1 16 1 6 1 -20 1 2 1 31 1 -16 1 9 1 13 1 -30 1 -4 1 27 1 -13 1 17 1 -25 1 12 1 -3 1 -6 1 11 1 0 1 -6 1 7 1 -13 1 5 1 -3 1 3 1 2 1 12 1 -22 1 13 1 -10 1 14 1 -7 1 2 1 -6 1 8 1 -7 1 14 1 -6 1 0 1 2 1 11 1 -13 1 3 1 -17 1 15 1 -17 1 9 1 2 1 9 1 -9 1 -3 1 17 1 -21 1 16 1 -3 1 12 1 -13 1 -6 1 6 1 -7 1 6 1 1 1 -10 1 14 1 -9 1 -2 1 6 1 0 1 -2 1 4 1 -16 1 11 1 -11 1 3 1 22 1 -12 1 -6 1 0 1 15 1 -9 1 2 1 6 1 -5 1 -3 1 -10 1 8 1 -3 1 14 1 -5 1 -2 1 -10 1 14 1 0 1 -3 1 -6 1 13 1 -7 1 11 1 -20 1 -1 1 6 1 -2 1 11 1 -9 1 1 1 0 1 7 1 -5"/>
<path transform="translate(1439.1,0) scale(3.3741,0.1)" vector-effect="non-scaling-stroke" stroke="#dc143c" d="M0 10584l1 -30 1 -46 1 -18 1 -4 1 -28 1 2 1 11 1 -24 1 11 1 12 1 -25 1 7 1 19 1 -12 1 18 1 1 1 -32 1 10 1 14 1 -6 1 7 1 -17 1 9 1 4 1 -14 1 16 1 1 1 -5 1 1 1 -4 1 1 1 -5 1 7 1 -7 1 13 1 -18 1 12 1 -10 1 14 1 -5 1 6 1 -8 1 8 1 -10 1 15 1 -12 1 9 1 -4 1 9 1 -15 1 5 1 -12 1 14 1 -18 1 7 1 11 1 -2 1 -2 1 0 1 12 1 -18 1 13 1 -5 1 16 1 -21 1 1 1 1 1 1 1 2 1 -4 1 -4 1 7 1 0 1 -5 1 5 1 0 1 -1 1 10 1 -22 1 16 1 -7 1 -3 1 19 1 -14 1 -3 1 -1 1 10 1 -5 1 6 1 -2 1 3 1 -8 1 -5 1 7 1 -9 1 12 1 5 1 -3 1 -16 1 19 1 0 1 -3 1 -11 1 11 1 -3 1 5 1 -19 1 6 1 1 1 3 1 0 1 5 1 2 1 3 1 -8 1 -1"/>
<path transform="translate(1439.1,0) scale(3.3741,0.1)" vector-effect="non-scaling-stroke" stroke="#800080" d="M0 10678l1 0 1 0 1 0 1 0 1 0 1 0 1 0 1 0 1 0 1 0 1 0 1 0 1 0 1 0 1 0 1 0 1 0 1 0 1 0 1 0 1 0 1 0 1 0 1 0 1 0 1 0 1 0 1 0 1 0 1 0 1 0 1 0 1 0 1 0 1 0 1 0 1 0 1 0 1 0 1 0 1 0 1 0 1 0 1 0 1 0 1 0 1 0 1 0 1 0 1 0 1 0 1 0 1 0 1 0 1 0 1 0 1 0 1 0 1 0 1 0 1 0 1 0 1 0 1 0 1 0 1 0 1 0 1 0 1 0 1 0 1 0 1 0 1 0 1 0 1 0 1 0 1 0 1 0 1 0 1 0 1 0 1 0 1 0 1 0 1 0 1 0 1 0 1 0 1 0 1 0 1 0 1 0 1 0 1 0 1 0 1 0 1 0 1 0 1 0 1 0 1 0 1 0 1 0 1 0 1 0 1 0 1 0 1 0 1 0 1 0 1 0 1 0 1 0 1 0 1 0 1 0"/>
</g>
<rect x="1734.8" y="839.8" width="88.7" height="164.9" rx="3" fill="#ffffff" fill-opacity="0.8" stroke="#d0d0d0" stroke-width="1"/>
<line x1="1739" y1="850.3" x2="1767" y2="850.3" stroke="#32cd32" stroke-width="2"/>
<text x="1776.5" y="855.3" style="font-family:'DejaVu Sans',sans-serif;font-size:13.6px">Line 1</text>
<line x1="1739" y1="870.4" x2="1767" y2="870.4" stroke="#008000" stroke-width="2"/>
<text x="1776.5" y="875.4" style="font-family:'DejaVu Sans',sans-serif;font-size:13.6px">Line 2</text>
<line x1="1739" y1="890.5" x2="1767" y2="890.5" stroke="#808000" stroke-width="2"/>
<text x="1776.5" y="895.5" style="font-family:'DejaVu Sans',sans-serif;font-size:13.6px">Line 3</text>
<line x1="1739" y1="910.6" x2="1767" y2="910.6" stroke="#daa520" stroke-width="2"/>
<text x="1776.5" y="915.6" style="font-family:'DejaVu Sans',sans-serif;font-size:13.6px">Line 4</text>
<line x1="1739" y1="930.7" x2="1767" y2="930.7" stroke="#ff8c00" stroke-width="2"/>
<text x="1776.5" y="935.7" style="font-family:'DejaVu Sans',sans-serif;font-size:13.6px">Line 5</text>
<line x1="1739" y1="950.8" x2="1767" y2="950.8" stroke="#ff4500" stroke-width="2"/>
<text x="1776.5" y="955.8" style="font-family:'DejaVu Sans',sans-serif;font-size:13.6px">Line 6</text>
<line x1="1739" y1="970.9" x2="1767" y2="970.9" stroke="#dc143c" stroke-width="2"/>
<text x="1776.5" y="975.9" style="font-family:'DejaVu Sans',sans-serif;font-size:13.6px">Line 7</text>
<line x1="1739" y1="991" x2="1767" y2="991" stroke="#800080" stroke-width="2"/>
<text x="1776.5" y="996" style="font-family:'DejaVu Sans',sans-serif;font-size:13.6px">Line 8</text>
<circle cx="1196.8" cy="547.7" r="44" fill="none" stroke="#b8b8b8" stroke-width="1.1"/>
<circle cx="1196.8" cy="547.7" r="88" fill="none" stroke="#b8b8b8" stroke-width="1.1"/>
<circle cx="1196.8" cy="547.7" r="132" fill="none" stroke="#b8b8b8" stroke-width="1.1"/>
<circle cx="1196.8" cy="547.7" r="176" fill="none" stroke="#b8b8b8" stroke-width="1.1"/>
<circle cx="1196.8" cy="547.7" r="220" fill="none" stroke="#b8b8b8" stroke-width="1.1"/>
<line x1="1196.8" y1="547.7" x2="1419.3" y2="547.7" stroke="#b8b8b8" stroke-width="1.1"/>
<line x1="1196.8" y1="547.7" x2="1354.13" y2="390.37" stroke="#b8b8b8" stroke-width="1.1"/>
<line x1="1196.8" y1="547.7" x2="1196.8" y2="325.2" stroke="#b8b8b8" stroke-width="1.1"/>
<line x1="1196.8" y1="547.7" x2="1039.47" y2="390.37" stroke="#b8b8b8" stroke-width="1.1"/>
<line x1="1196.8" y1="547.7" x2="974.3" y2="547.7" stroke="#b8b8b8" stroke-width="1.1"/>
<line x1="1196.8" y1="547.7" x2="1039.47" y2="705.03" stroke="#b8b8b8" stroke-width="1.1"/>
<line x1="1196.8" y1="547.7" x2="1196.8" y2="770.2" stroke="#b8b8b8" stroke-width="1.1"/>
<line x1="1196.8" y1="547.7" x2="1354.13" y2="705.03" stroke="#b8b8b8" stroke-width="1.1"/>
<text x="1087.6" y="352.2" style="font-family:'DejaVu Sans',sans-serif;font-size:23.3px">1.0</text>
<text x="1108.3" y="390.5" style="font-family:'DejaVu Sans',sans-serif;font-size:23.3px">0.8</text>
<text x="1129.5" y="428.8" style="font-family:'DejaVu Sans',sans-serif;font-size:23.3px">0.6</text>
<text x="1152.7" y="467.1" style="font-family:'DejaVu Sans',sans-serif;font-size:23.3px">0.4</text>
<text x="1174.4" y="505.4" style="font-family:'DejaVu Sans',sans-serif;font-size:23.3px">0.2</text>
<path transform="scale(0.1)" fill="none" stroke="#ff8c00" stroke-width="28" stroke-linejoin="round" d="M11968 5594l1 0 1 0 0 0 1 0 1 0 1 0 1 0 1 -1 0 0 1 0 1 0 1 0 1 -1 0 0 1 0 1 0 1 -1 0 0 1 0 1 -1 1 0 0 -1 1 0 1 -1 1 0 0 -1 1 0 1 -1 0 0 1 -1 1 -1 0 0 1 -1 0 -1 1 -1 1 0 0 -1 1 -1 0 -1 1 -1 0 -1 1 -1 0 -1 0 -1 1 -1 0 -1 1 -1 0 -2 0 -1 0 -1 1 -1 0 -2 0 -1 0 -2 0 -1 0 -1 0 -2 0 -1 0 -2 0 -2 0 -1 0 -2 0 -2 -1 -1 0 -2 0 -2 -1 -2 0 -2 0 -1 -1 -2 0 -2 -1 -2 -1 -2 0 -2 -1 -2 -1 -2 0 -2 -1 -2 -1 -2 -1 -2 -1 -2 0 -2 -1 -2 -1 -1 -1 -2 -1 -2 -1 -2 -1 -2 -1 -2 -1 -1 -1 -2 -1 -1 -1 -2 -1 -2 -1 -1 -1 -1 -1 -2 -1 -1 -1 -1 -1 -1 0 -1 -1 -1 -1 0 0 -1 0 0 -1 -1 0 0 0 0 0 0 0 0 1 1 0 0 1 1 1 1 1 1 2 1 1 2 2 1 2 2 3 2 2 2 3 3 4 2 3 3 4 3 5 3 4 4 5 4 6 3 6 5 6 4 7 4 8 5 7 5 9 5 8 5 10 6 10 6 10 5 11 7 12 6 12 6 13 7 13 7 14 6 15 7 15 8 16 7 17 7 17 8 18 7 18 8 20 7 20 8 20 8 21 7 22 8 23 8 23 7 24 8 25 8 25 7 26 7 27 8 27 7 27 6 29 7 29 7 29 6 30 6 30 6 31 5 32 6 31 5 33 4 32 5 33 3 33 4 34 3 33 3 34 2 34 2 35 2 34 1 34 0 35 0 34 0 34 -1 35 -1 34 -2 33 -3 34 -3 33 -3 33 -4 33 -5 32 -5 32 -5 31 -7 30 -6 30 -7 30 -8 28 -8 28 -9 27 -9 27 -10 25 -10 25 -10 23 -11 23 -12 21 -11 21 -13 20 -12 18 -13 17 -13 16 -14 15 -14 14 -14 12 -14 11 -15 10 -14 9 -15 7 -15 6 -15 5 -16 3 -15 2 -15 1 -16 -1 -15 -2 -15 -3 -16 -5 -15 -6 -15 -7 -15 -9 -14 -10 -15 -11 -14 -13 -14 -13 -14 -15 -13 -16 -14 -17 -12 -19 -13 -19 -12 -20 -12 -22 -11 -22 -11 -24 -10 -24 -10 -25 -10 -27 -9 -26 -8 -28 -8 -28 -8 -29 -7 -30 -6 -30 -6 -31 -6 -31 -5 -32 -4 -32 -4 -33 -3 -33 -3 -33 -3 -33 -1 -34 -2 -33 0 -34 -1 -34 1 -34 0 -34 2 -34 1 -33 2 -34 3 -33 3 -33 3 -33 4 -33 4 -33 5 -32 5 -31 5 -32 5 -30 6 -31 6 -30 7 -29 6 -29 7 -29 7 -28 7 -27 8 -27 7 -26 8 -26 8 -25 7 -24 8 -24 8 -23 9 -23 8 -22 8 -21 8 -20 8 -20 8 -20 8 -18 8 -18 8 -18 8 -16 8 -16 8 -16 7 -15 8 -14 7 -14 7 -13 7 -12 7 -12 7 -11 6 -11 7 -10 6 -10 6 -9 6 -9 5 -8 6 -8 5 -8 5 -7 5 -6 4 -6 5 -6 4 -5 4 -5 4 -4 3 -5 4 -4 3 -3 3 -3 2 -3 3 -3 2 -3 3 -2 2 -2 1 -1 2 -2 2 -1 1 -1 1 -1 1 -1 1 -1 1 0 0 -1 0 0 1 0 0 0 0 0 0 0 0 0 -1 1 0 0 -1 1 0 0 -1 1 -1 0 -1 1 -1 1 -1 0 -1 1 -1 1 -1 0 -2 1 -1 1 -1 1 -2 0 -1 1 -2 1 -1 0 -2 1 -1 1 -2 0 -1 1 -2 1 -1 0 -2 1 -2 0 -1 1 -2 0 -1 1 -2 0 -2 1 -1 0 -2 0 -1 1 -2 0 -1 0 -2 0 -1 1 -2 0 -1 0 -2 0 -1 0 -1 0 -2 0 -1 0 -1 0 -2 0 -1 0 -1 0 -1 0 -1 -1 -1 0 -2 0 -1 0 -1 -1 -1 0 -1 0 -1 0 -1 -1 0 0 -1 -1 -1 0 -1 0 -1 -1 -1 0 0 -1 -1 0 -1 -1 0 0 -1 -1 -1 0 0 -1 -1 0 0 -1 -1 0 0 -1 -1 -1 0 0 0 -1 -1 0 0 -1 0 -1 -1 0 0 -1 0 -1 -1 0 0 -1 0 0 0 -1 0 -1 0 0 0 -1 -1 -1 0 0 0 -1 0"/>
<path transform="scale(0.1)" fill="none" stroke="#ff8c00" stroke-width="28" stroke-linejoin="round" d="M11968 5558l1 0 0 0 1 0 0 0 1 0 0 0 1 0 1 0 0 0 1 -1 0 0 1 0 0 0 1 0 0 0 1 0 1 0 0 0 1 0 0 0 1 -1 0 0 1 0 0 0 1 0 0 0 1 -1 1 0 0 0 1 0 0 0 1 -1 0 0 1 0 0 0 1 -1 0 0 1 0 0 -1 0 0 1 0 0 -1 1 0 0 -1 1 0 0 -1 0 0 1 -1 0 0 1 -1 0 0 0 -1 1 0 0 -1 0 -1 1 0 0 -1 0 -1 0 0 0 -1 1 -1 0 -1 0 0 0 -1 0 -1 0 -1 0 -1 0 -1 0 -1 0 -1 0 -1 0 -1 0 -1 0 -1 0 -1 0 -1 0 -1 -1 -1 0 -1 0 -1 0 -2 -1 -1 0 -1 -1 -1 0 -1 0 -2 -1 -1 0 -1 -1 -1 0 -1 -1 -2 -1 -1 0 -1 -1 -1 0 -2 -1 -1 -1 -1 0 -1 -1 -1 -1 -2 -1 -1 0 -1 -1 -1 -1 -1 -1 -1 -1 -1 0 -1 -1 -1 -1 -1 -1 -1 0 -1 -1 -1 -1 -1 -1 -1 0 0 -1 -1 -1 -1 0 0 -1 -1 0 0 -1 -1 0 0 -1 -1 0 0 0 0 0 -1 -1 0 0 0 0 0 0 0 0 0 1 0 0 1 0 0 0 0 1 0 1 1 0 0 1 1 1 0 1 1 1 0 1 1 1 1 1 1 2 0 1 1 2 1 2 1 1 1 2 1 2 0 2 1 2 1 3 1 2 1 2 1 3 1 2 1 3 1 2 1 3 1 3 0 2 1 3 1 3 1 3 1 2 0 3 1 3 0 3 1 2 0 3 1 3 0 2 1 3 0 2 0 3 0 2 0 2 0 2 0 2 0 2 0 2 0 2 -1 1 0 1 0 2 -1 1 0 0 -1 1 -1 0 0 1 -1 0 -1 0 -1 -1 -1 0 0 -1 -1 -1 -1 -1 -1 -1 -1 -2 -1 -2 -1 -2 -1 -2 -1 -2 -1 -3 -1 -2 -1 -3 -1 -3 -1 -3 -1 -3 -1 -4 -1 -3 -1 -4 0 -3 -1 -4 -1 -4 0 -3 -1 -4 0 -4 -1 -4 0 -3 0 -4 -1 -4 0 -3 0 -4 0 -3 0 -3 0 -3 0 -2 0 -3 0 -2 0 -2 0 -2 0 -1 0 -1 0 -1 0 0 0 0 0 1 0 1 0 1 0 2 -1 3 0 2 -1 4 0 4 -1 4 -1 5 -1 6 -1 6 -1 7 -2 8 -2 8 -2 8 -2 9 -3 10 -3 11 -3 11 -4 11 -3 13 -5 13 -4 13 -5 14 -5 15 -6 15 -6 16 -6 16 -7 17 -8 18 -7 18 -9 18 -8 19 -9 19 -10 20 -10 20 -11 21 -11 21 -11 21 -12 22 -13 21 -13 23 -14 22 -14 23 -14 22 -15 23 -16 23 -16 23 -16 24 -17 23 -17 23 -18 23 -19 23 -18 24 -19 23 -20 22 -20 23 -20 23 -21 22 -21 22 -21 22 -22 21 -22 21 -22 21 -23 20 -23 21 -23 19 -23 19 -23 19 -24 18 -24 18 -24 17 -24 17 -24 16 -24 16 -25 15 -24 14 -24 14 -25 13 -24 13 -24 12 -24 11 -25 11 -24 10 -24 9 -23 9 -24 8 -24 7 -23 7 -23 6 -23 5 -22 5 -23 4 -22 3 -22 3 -21 2 -22 2 -21 1 -20 0 -20 -1 -20 -1 -20 -1 -19 -2 -19 -3 -18 -3 -18 -4 -18 -5 -17 -5 -17 -5 -16 -6 -16 -7 -16 -7 -15 -7 -15 -8 -14 -8 -14 -9 -13 -9 -13 -10 -13 -10 -12 -10 -12 -11 -11 -11 -11 -12 -10 -11 -10 -12 -10 -13 -9 -12 -9 -13 -9 -13 -8 -14 -7 -13 -7 -14 -7 -14 -7 -14 -6 -14 -6 -15 -5 -15 -5 -14 -5 -15 -5 -15 -4 -15 -4 -16 -3 -15 -3 -15 -3 -16 -3 -15 -2 -16 -3 -15 -1 -16 -2 -16 -2 -15 -1 -16 -1 -16 -1 -15 0 -16 -1 -16 0 -15 0 -16 0 -16 0 -15 0 -16 1 -15 0 -16 1 -15 1 -15 1 -16 1 -15 1 -15 1 -15 1 -15 2 -15 1 -15 2 -15 1 -15 1 -15 2 -15 2 -14 1 -15 2 -14 1 -15 2 -14 2 -14 1 -15 2 -14 1 -14 2 -14 1 -14 2 -14 1 -14 1 -14 2 -14 1 -13 1 -14 2 -14 1 -13 1 -14 1 -13 1 -14 1 -13 0 -14 1 -13 1 -14 0 -13 1 -13 0 -14 1 -13 0 -13 0 -14 0 -13 0"/>
<path transform="scale(0.1)" fill="none" stroke="#ff8c00" stroke-width="28" stroke-linejoin="round" d="M11968 7492l14 0 14 0 14 0 14 1 14 0 14 0 15 0 14 1 14 0 14 0 14 1 14 0 15 1 14 0 14 1 15 0 14 1 14 1 15 0 14 1 15 0 14 1 15 1 15 0 14 1 15 0 15 1 14 1 15 0 15 1 15 0 15 0 15 1 15 0 15 0 15 0 15 1 16 0 15 -1 15 0 15 0 16 0 15 -1 15 -1 16 0 15 -1 16 -1 15 -2 15 -1 16 -2 15 -1 15 -2 16 -2 15 -3 15 -2 16 -3 15 -3 15 -3 15 -4 15 -3 15 -4 15 -4 15 -5 14 -5 15 -5 14 -5 15 -6 14 -6 14 -6 14 -7 13 -7 14 -7 13 -8 13 -8 13 -8 13 -9 12 -9 12 -9 12 -10 12 -11 11 -10 11 -11 11 -12 11 -11 10 -13 9 -12 10 -13 9 -14 8 -14 8 -14 8 -14 8 -16 7 -15 6 -16 6 -16 5 -17 5 -17 5 -17 4 -18 4 -18 3 -19 2 -19 2 -19 1 -20 1 -20 0 -20 0 -21 -1 -20 -2 -22 -2 -21 -3 -22 -3 -22 -4 -23 -5 -22 -5 -23 -6 -23 -7 -23 -7 -24 -8 -23 -8 -24 -9 -24 -10 -24 -10 -24 -11 -24 -11 -24 -12 -25 -13 -24 -13 -24 -14 -25 -14 -24 -15 -24 -15 -24 -16 -24 -16 -24 -17 -24 -17 -24 -18 -23 -18 -24 -19 -23 -19 -23 -19 -23 -20 -22 -20 -22 -20 -22 -21 -22 -20 -21 -22 -21 -21 -21 -21 -20 -22 -20 -22 -19 -21 -19 -22 -19 -22 -18 -22 -18 -22 -17 -22 -17 -22 -17 -22 -16 -21 -15 -22 -16 -21 -14 -21 -14 -21 -14 -21 -13 -20 -13 -20 -12 -20 -11 -20 -12 -19 -10 -19 -11 -18 -9 -18 -10 -17 -8 -17 -9 -17 -8 -16 -7 -15 -7 -15 -7 -15 -6 -14 -6 -13 -5 -13 -5 -12 -5 -12 -4 -11 -4 -11 -4 -10 -3 -9 -3 -9 -3 -8 -3 -8 -2 -7 -2 -6 -2 -6 -1 -6 -2 -4 -1 -5 -1 -4 -1 -3 0 -3 -1 -2 0 -2 -1 -1 0 -1 0 -1 0 0 0 0 0 1 0 1 0 1 0 2 0 2 1 2 0 2 0 3 0 3 0 3 0 3 0 3 0 3 0 4 0 4 0 3 -1 4 0 4 0 4 -1 3 0 4 -1 4 0 4 -1 3 0 4 -1 3 -1 4 -1 3 0 3 -1 3 -1 3 -1 2 -1 3 -1 2 -1 2 -1 2 -1 2 -1 2 -1 1 -1 1 -1 2 -1 0 -1 1 -1 1 -1 0 -1 0 0 0 -1 0 -1 -1 -1 0 0 -1 -1 -1 -1 -1 0 -1 -1 -2 0 -1 0 -2 -1 -2 0 -2 0 -2 0 -2 -1 -2 0 -2 0 -2 1 -3 0 -2 0 -3 0 -2 0 -3 1 -3 0 -2 1 -3 0 -2 1 -3 0 -3 1 -2 0 -3 1 -3 1 -2 0 -3 1 -2 1 -2 1 -3 1 -2 0 -2 1 -3 1 -2 1 -2 1 -2 1 -2 0 -2 1 -1 1 -2 1 -2 1 -1 0 -2 1 -1 1 -2 1 -1 0 -1 1 -1 0 -1 1 -1 1 -1 0 -1 1 -1 0 0 1 -1 0 0 0 -1 1 0 0 -1 0 0 1 0 0 -1 0 0 0 0 0 0 0 0 0 0 0 0 0 0 0 0 0 0 0 0 0 1 -1 0 0 0 0 0 0 1 -1 0 0 0 0 0 0 1 -1 0 0 0 -1 1 0 0 0 0 -1 0 0 1 -1 0 0 0 -1 1 0 0 -1 0 0 0 -1 1 0 0 -1 0 0 0 0 1 -1 0 0 0 -1 0 0 0 -1 1 0 0 -1 0 0 0 -1 0 0 0 0 0 -1 0 0 0 -1 1 0 0 0 0 -1 0 0 0 0 0 -1 0 0 0 0 0 -1 0 0 -1 0 0 0 0 -1 0 0 0 0 0 0 0 0 0 -1 0 0 0 0 0 0 -1 0 0 0 0 -1 0 0 0 0 0 0 0 0 -1 0 0 0 0 0 0 0 0 0 0 0 -1 0 0 -1 0 0 0 0 0 0 0 0 -1 0 0 0 0 0 0 0 0 0 -1 0 0 0 0 0 0 0 0 0 0 0 -1 0 0 0 0 0 0 0 0 0 -1 0 0 0 0 0 0 0 0 0 0 0 -1 0 0 0 0 0 0 0 0 0 0 0 -1 0 0 0 0 0 0 0 0 0 0 0 -1 0 0 1 0 0"/>
<path transform="scale(0.1)" fill="none" stroke="#ff0000" stroke-width="28" stroke-linejoin="round" d="M11968 5539l0 0 1 0 0 0 1 0 0 0 1 1 0 0 1 0 0 0 0 0 1 1 0 0 1 0 0 0 1 1 0 0 1 1 0 0 1 0 0 1 1 0 0 1 1 0 1 1 0 0 1 1 0 0 1 1 1 0 0 1 1 0 1 1 0 0 1 1 1 0 0 1 1 0 1 1 0 0 1 1 1 0 0 1 1 0 1 1 1 0 0 0 1 0 1 1 0 0 1 0 1 0 0 0 1 0 1 0 0 0 1 0 0 0 1 -1 0 0 1 -1 0 0 1 -1 0 0 0 -1 0 -1 1 -1 0 -1 0 -1 0 -2 0 -1 0 -1 -1 -2 0 -1 0 -2 -1 -2 0 -2 -1 -2 0 -2 -1 -2 -1 -2 -1 -2 -1 -2 -1 -3 -1 -2 -1 -2 -1 -3 -2 -2 -1 -2 -1 -3 -2 -2 -1 -3 -2 -2 -1 -2 -2 -2 -1 -2 -1 -2 -2 -2 -1 -2 -1 -2 -2 -1 -1 -2 -1 -1 -1 -1 0 -1 -1 -1 0 0 -1 -1 0 0 0 0 1 1 0 0 1 1 1 1 1 1 2 1 1 2 3 2 2 2 2 2 3 2 3 3 4 3 3 3 4 2 4 3 5 4 4 3 5 3 4 3 5 3 5 3 5 3 5 3 5 3 5 3 4 2 5 2 4 2 4 2 4 2 3 1 3 1 3 0 2 1 2 0 1 -1 0 -1 0 -1 0 -1 -1 -2 -2 -2 -3 -3 -3 -2 -3 -3 -4 -3 -5 -4 -5 -3 -6 -4 -6 -4 -7 -4 -6 -4 -7 -3 -7 -4 -7 -4 -7 -3 -6 -3 -7 -3 -5 -3 -5 -2 -5 -2 -3 -1 -2 -1 -1 -1 1 0 2 1 4 1 5 2 8 3 10 3 12 4 15 4 17 5 20 5 23 6 26 7 28 6 31 8 35 7 37 8 41 8 43 8 46 8 49 8 52 8 54 8 57 8 59 7 61 7 64 6 64 5 67 5 67 5 69 3 69 3 69 1 70 1 69 0 68 -2 68 -2 66 -4 65 -4 63 -6 60 -7 58 -8 55 -8 52 -10 48 -11 45 -11 40 -13 37 -13 32 -13 28 -14 23 -15 18 -15 13 -15 8 -15 3 -16 -2 -15 -7 -15 -12 -15 -17 -15 -22 -14 -26 -13 -31 -13 -36 -12 -39 -11 -44 -11 -47 -9 -50 -9 -54 -8 -56 -6 -60 -5 -61 -5 -63 -3 -65 -2 -66 -1 -67 0 -68 1 -68 2 -68 4 -68 4 -67 4 -67 6 -65 7 -64 7 -63 7 -61 8 -58 9 -57 9 -54 9 -52 9 -49 9 -47 10 -44 9 -41 9 -38 9 -36 9 -33 8 -30 8 -27 7 -24 7 -22 7 -20 6 -17 5 -14 5 -13 4 -10 4 -8 3 -7 2 -4 2 -4 1 -1 1 -1 0 1 -1 2 0 2 -2 4 -1 3 -2 5 -3 5 -2 5 -3 5 -3 6 -3 5 -3 5 -3 5 -4 5 -3 5 -3 4 -3 4 -3 4 -3 3 -3 3 -2 2 -2 2 -2 1 -2 1 -1 0 -2 0 0 0 -1 -1 0 -1 -1 -2 1 -1 0 -3 1 -2 1 -3 1 -3 1 -3 2 -3 1 -3 2 -4 2 -3 2 -4 2 -3 3 -4 2 -3 2 -4 3 -3 2 -3 3 -3 2 -3 3 -3 2 -3 2 -3 2 -2 2 -2 3 -3 1 -1 2 -2 2 -2 1 -1 2 -2 1 -1 1 -1 1 -1 1 0 1 -1 1 -1 0 0 1 0 0 0 0 0 0 0 0 0 0 0 0 0 0 0 -1 1 0 0 -1 0 0 1 -1 0 0 0 -1 1 -1 0 -1 1 0 0 -1 1 -1 0 -1 0 0 1 -1 0 -1 0 -1 1 0 0 -1 0 -1 0 0 1 -1 0 -1 0 0 0 -1 0 0 0 -1 0 0 0 0 0 -1 0 0 0 0 0 -1 0 0 0 0 0 0 0 0 0 0 -1 0 0 0 0 0 0 0 0 0 0 0 -1 0 0 0 0 0 0 0 0 0 -1 0 0 1 0 0 0 0 0 0 -1 0 0 1 0 0 0 0 0 0 -1 1 0 0 0 0 0 0 0 1 -1 0 0 0 0 0 0 0 0 1 0 0 -1 0 0 0 0 0 0 1 0 0 0 0 0 0 0 0 -1 0 0 0 0 1 0 0 0 0 0 0 0 0 0 0 0 0 -1 0 0 0 0 0 0 0 0 0 0 0"/>
<path transform="scale(0.1)" fill="none" stroke="#ff0000" stroke-width="28" stroke-linejoin="round" d="M11968 5504l0 0 0 0 1 0 0 0 0 1 0 0 0 0 1 0 0 0 0 0 0 0 0 1 1 0 0 0 0 1 0 0 1 0 0 0 0 1 0 0 1 1 0 0 0 1 1 0 0 0 0 1 1 0 0 1 0 1 1 0 0 1 0 0 1 1 0 1 1 0 0 1 1 1 0 0 1 1 0 1 1 0 0 1 1 1 0 1 1 0 1 1 0 1 1 0 1 1 0 1 1 1 0 0 1 1 1 1 1 0 0 1 1 0 1 1 0 1 1 0 1 1 0 0 1 0 1 1 0 0 1 0 1 0 0 1 1 0 0 0 1 0 0 -1 1 0 0 0 0 0 1 -1 0 0 0 -1 0 0 0 -1 0 -1 0 -1 0 -1 0 -1 0 -1 0 -1 -1 -1 0 -1 -1 -2 0 -1 -1 -2 -1 -1 0 -2 -1 -2 -1 -1 -1 -2 -1 -2 -1 -1 -1 -2 -1 -2 -2 -2 -1 -2 -1 -1 -1 -2 -2 -2 -1 -1 -1 -2 -1 -2 -2 -1 -1 -1 -1 -2 -1 -1 -1 -1 -1 -1 -1 -1 -1 -1 -1 -1 -1 -1 0 -1 -1 0 0 0 -1 -1 0 0 0 0 0 0 0 0 0 0 1 1 0 0 1 1 1 0 1 1 1 0 1 1 1 1 1 1 1 0 1 1 2 1 1 1 1 0 2 1 1 1 1 0 1 1 1 1 1 0 1 0 1 1 1 0 1 0 0 0 0 0 0 0 0 0 0 -1 0 0 0 -1 -1 0 -1 -1 -1 0 -1 -1 -1 -1 -1 0 -1 -1 -2 -1 -1 -1 -1 0 -2 -1 -1 0 -1 -1 -1 -1 -1 0 -1 0 -1 -1 0 0 0 0 0 0 0 0 1 0 1 0 1 1 2 0 2 1 2 0 2 1 3 1 4 0 3 1 4 1 4 1 5 0 5 1 4 1 5 1 5 0 6 1 5 0 5 1 5 0 5 0 5 0 4 1 4 0 4 -1 4 0 3 0 3 -1 2 0 1 -1 2 -1 0 0 0 -1 0 -1 -1 -1 -2 -1 -2 -1 -3 -1 -3 -1 -4 0 -4 -1 -5 -1 -5 -1 -5 0 -6 -1 -6 0 -6 -1 -6 0 -6 0 -6 -1 -6 0 -6 0 -5 0 -5 0 -5 1 -4 0 -4 0 -3 0 -3 0 -2 1 -2 0 -1 0 0 0 0 0 1 0 2 -1 2 0 3 -1 4 0 4 -1 4 -1 5 -1 5 -1 6 -2 5 -1 6 -2 6 -1 6 -2 6 -2 6 -2 5 -2 5 -2 5 -2 4 -1 4 -2 3 -2 3 -2 2 -1 2 -1 0 -1 0 -1 0 -1 -2 0 -2 0 -3 0 -3 1 -4 1 -5 1 -5 1 -5 1 -6 2 -6 2 -7 3 -6 2 -7 2 -6 3 -7 2 -6 3 -5 2 -5 3 -5 2 -3 2 -3 1 -3 1 -1 1 0 0 2 -1 2 -1 4 -2 5 -3 6 -4 8 -5 10 -6 11 -7 12 -9 14 -9 16 -11 17 -12 19 -13 20 -15 21 -17 23 -17 25 -20 25 -20 27 -22 28 -24 29 -25 30 -26 31 -28 32 -29 32 -30 33 -32 33 -32 34 -34 34 -35 34 -36 34 -37 34 -37 33 -39 34 -39 33 -40 32 -40 32 -40 31 -41 31 -41 29 -41 28 -42 28 -41 26 -41 25 -40 24 -41 23 -40 21 -39 20 -39 19 -38 17 -37 15 -37 14 -36 13 -34 11 -34 10 -33 8 -31 7 -30 5 -29 4 -28 2 -27 1 -25 0 -24 -2 -22 -3 -21 -4 -20 -5 -18 -7 -17 -7 -16 -9 -14 -10 -13 -11 -12 -12 -10 -12 -9 -14 -7 -14 -6 -15 -5 -15 -4 -16 -3 -17 -1 -18 0 -17 0 -18 2 -19 3 -19 4 -19 4 -19 6 -20 6 -20 7 -20 8 -20 9 -20 9 -20 10 -20 11 -20 11 -20 11 -20 12 -20 12 -19 13 -20 13 -19 13 -19 14 -19 14 -19 14 -18 14 -19 14 -18 15 -17 14 -18 15 -17 14 -17 14 -16 15 -16 14 -16 14 -16 14 -15 14 -15 14 -15 14 -15 13 -14 13 -14 13 -13 13 -14 12 -13 12 -12 12 -13 12 -12 11 -12 11 -12 10 -11 11 -12 10 -11 9 -11 9 -10 9 -11 9 -10 8 -10 7 -10 8 -10 6 -9 7 -10 6 -9 6 -9 5 -9 5 -9 4 -9 4 -9 4 -8 3 -9 3 -9 2 -8 2 -9 1 -8 1 -9 1 -8 0"/>
<path transform="scale(0.1)" fill="none" stroke="#ff0000" stroke-width="28" stroke-linejoin="round" d="M11968 7008l11 0 10 0 11 1 11 2 11 2 10 2 11 2 11 3 11 3 11 4 12 4 11 4 11 5 12 5 11 5 12 6 12 6 12 7 12 6 13 7 12 8 13 7 13 8 13 8 13 9 13 8 14 9 14 9 14 10 14 9 15 10 14 10 15 10 15 10 16 10 15 10 16 11 16 10 16 10 17 11 16 10 17 10 17 10 17 10 18 10 17 10 18 9 17 10 18 9 18 8 18 9 18 7 19 8 18 7 18 7 18 6 18 5 18 5 18 4 18 4 18 3 17 2 18 1 17 1 16 0 17 -1 16 -3 15 -3 16 -4 14 -5 14 -6 14 -7 13 -8 12 -10 12 -10 11 -12 10 -13 9 -14 8 -16 8 -16 6 -18 6 -19 4 -21 4 -21 2 -23 1 -24 0 -25 -1 -27 -3 -27 -3 -29 -5 -30 -6 -31 -8 -32 -8 -33 -10 -33 -12 -35 -12 -36 -14 -36 -15 -37 -17 -38 -18 -39 -18 -38 -20 -40 -22 -40 -22 -40 -23 -40 -25 -40 -25 -41 -26 -40 -27 -40 -27 -41 -29 -39 -29 -40 -29 -39 -30 -38 -30 -38 -31 -37 -30 -37 -31 -35 -30 -35 -31 -34 -30 -32 -30 -32 -29 -30 -30 -30 -28 -28 -28 -26 -27 -26 -26 -24 -25 -23 -24 -21 -23 -20 -22 -19 -21 -17 -20 -16 -18 -15 -17 -13 -16 -12 -14 -11 -13 -9 -12 -8 -10 -7 -9 -7 -8 -5 -6 -4 -5 -3 -4 -2 -2 -2 -2 -1 0 0 1 0 1 1 3 2 3 1 4 2 4 2 5 3 6 3 6 2 6 3 6 3 6 2 7 3 6 2 6 2 6 2 6 2 5 2 5 1 5 1 4 1 3 0 3 1 2 0 2 -1 1 0 1 -1 0 -1 -1 -1 -1 -1 -2 -1 -2 -2 -3 -2 -3 -1 -4 -2 -4 -2 -4 -2 -4 -2 -5 -1 -5 -2 -5 -2 -5 -2 -5 -1 -5 -2 -5 -1 -5 -2 -4 -1 -5 -1 -4 -1 -4 -1 -3 -1 -4 -1 -3 0 -2 -1 -3 0 -2 0 -1 -1 -2 0 -1 0 -1 0 0 0 -1 -1 0 0 0 0 0 0 1 0 0 0 1 0 0 0 1 0 0 0 1 0 0 0 1 0 0 0 0 0 0 0 0 0 0 0 0 0 0 0 -1 0 0 0 -1 -1 -1 0 0 0 -1 1 -1 0 -1 0 -1 0 0 0 -1 0 -1 0 0 0 -1 0 0 0 0 0 0 0 1 0 0 0 1 0 1 0 1 -1 1 0 2 0 1 -1 2 0 2 -1 2 -1 3 0 2 -1 3 -1 3 -1 3 -1 2 -1 3 -1 3 -1 3 -1 3 -1 2 -1 3 -2 2 -1 3 -1 2 -1 1 -1 2 -1 2 -1 1 -1 1 -1 0 -1 1 -1 0 0 0 -1 0 0 -1 0 -1 0 -1 0 -1 0 -2 0 -1 0 -2 1 -2 0 -2 1 -3 1 -2 1 -3 1 -2 1 -3 1 -2 1 -3 1 -3 1 -2 2 -3 1 -2 1 -2 1 -3 2 -2 1 -2 1 -2 1 -1 1 -2 1 -1 1 -2 1 -1 1 -1 0 0 1 -1 0 0 1 -1 0 0 0 0 0 0 0 0 0 1 -1 0 0 1 0 0 -1 1 -1 1 0 0 -1 1 -1 1 -1 1 0 1 -1 1 -1 1 -1 0 -1 1 -1 1 -1 1 -1 0 -1 1 -1 1 -1 0 -1 1 0 0 -1 1 -1 0 -1 0 0 0 -1 0 0 0 0 0 -1 0 0 0 0 0 0 0 0 -1 0 0 0 0 0 -1 1 0 0 -1 0 0 1 -1 0 0 1 -1 0 0 1 -1 0 0 1 -1 0 0 1 -1 1 -1 1 0 0 -1 1 0 1 -1 0 0 1 0 1 -1 0 0 1 -1 1 0 0 0 1 -1 0 0 1 0 0 -1 1 0 0 0 0 0 1 0 0 0 0 -1 0 0 1 0 0 0 0 0 0 0 0 0 0 0 0 0 0 0 0 0 -1 0 0 0 0 0 0 0 0 0 -1 0 0 0 0 0 -1 1 0 0 0 0 -1 0 0 0 -1 0 0 0 0 0 -1 0 0 0 -1 0 0 0 0 0 -1 0 0 0 -1 0 0 0 0 0 -1 0 0 0 -1 0 0 -1 0 0 -1 0 0 0 0 0 0 0 -1 0 0 0 0 0 0 0 0 0 0 -1 -1 0 0 0 0 0 0 0 0"/>
<path transform="scale(0.1)" fill="none" stroke="#b22222" stroke-width="28" stroke-linejoin="round" d="M11968 5480l0 0 0 0 0 0 0 0 0 0 0 0 0 0 0 0 0 0 0 -1 0 0 0 0 0 0 0 0 0 0 0 0 0 0 0 -1 0 0 0 0 0 0 0 0 0 0 0 0 0 0 0 0 0 0 0 -1 0 0 0 0 0 0 0 1 0 0 0 0 0 0 0 0 0 0 0 0 0 1 1 0 0 0 0 1 0 0 0 1 0 0 1 1 0 0 0 1 0 0 1 1 0 1 0 0 0 1 1 1 0 0 1 1 0 1 0 1 1 0 0 1 1 1 0 0 0 1 1 0 0 1 1 0 0 1 0 0 1 0 0 1 0 0 0 0 0 0 0 -1 0 0 0 0 0 -1 0 0 0 -1 0 -1 -1 0 0 -1 -1 -1 0 -1 -1 -1 0 -1 -1 -2 -1 -1 -1 -1 0 -1 -1 -1 -1 -1 0 -1 -1 0 0 -1 -1 0 0 -1 0 0 0 0 0 1 1 0 1 1 1 1 1 1 1 2 2 2 2 2 2 2 3 2 3 3 3 3 3 3 4 4 4 3 4 3 4 4 4 3 4 4 5 3 4 3 4 3 4 3 4 3 4 2 3 2 3 1 2 2 2 0 2 0 1 0 0 -1 0 -1 -1 -1 -2 -3 -2 -2 -3 -3 -4 -3 -4 -4 -4 -4 -5 -4 -6 -4 -5 -4 -6 -4 -6 -4 -5 -4 -6 -4 -5 -3 -5 -3 -4 -3 -3 -2 -3 -2 -2 -1 0 0 0 0 1 1 3 1 4 2 5 2 6 3 7 3 8 4 9 4 9 4 10 4 11 4 10 4 11 4 10 3 10 3 8 3 8 2 7 2 5 0 4 1 1 -1 0 -1 -1 -2 -4 -2 -6 -3 -7 -4 -9 -4 -11 -4 -11 -4 -13 -5 -13 -4 -13 -4 -12 -4 -12 -4 -9 -2 -8 -3 -5 -1 -2 -1 2 1 6 1 12 2 17 4 23 4 29 5 36 6 43 6 50 7 57 8 64 8 70 8 77 7 83 8 89 7 93 6 97 6 101 4 103 4 104 2 105 0 104 -1 102 -2 100 -4 95 -6 90 -8 83 -8 77 -11 69 -11 59 -13 50 -14 40 -14 29 -15 19 -15 7 -16 -4 -15 -16 -15 -26 -14 -37 -14 -47 -12 -57 -12 -65 -10 -74 -8 -81 -7 -86 -5 -92 -4 -97 -2 -99 0 -101 1 -102 3 -102 4 -101 6 -99 7 -97 7 -92 9 -88 9 -84 9 -77 10 -72 10 -66 10 -59 9 -53 9 -47 8 -40 7 -34 7 -28 6 -22 5 -18 4 -12 3 -8 2 -4 1 -1 0 2 -1 4 -1 6 -2 8 -3 8 -3 9 -3 9 -3 9 -4 9 -3 7 -4 7 -3 6 -3 4 -2 4 -2 1 -2 1 -1 -1 0 -1 -1 -3 1 -4 1 -5 1 -5 2 -6 2 -7 2 -6 3 -7 2 -7 3 -7 3 -6 3 -6 3 -6 3 -5 2 -5 2 -4 3 -4 2 -3 1 -2 2 -2 1 -1 0 -1 1 -1 0 0 0 0 0 1 0 1 -1 1 0 0 -1 1 -1 1 -1 1 0 1 -1 1 -1 1 0 0 -1 0 0 0 0 0 0 0 0 0 0 -1 0 0 1 -1 0 -1 1 -1 0 0 1 -1 1 -1 0 -1 1 -1 1 0 0 -1 1 0 0 0 0 0 0 0 0 0 0 0 0 1 -1 1 -1 1 -1 1 -1 1 -1 1 -2 1 -2 2 -1 1 -2 2 -3 1 -2 2 -2 2 -2 1 -3 2 -2 2 -3 1 -2 1 -3 2 -2 1 -2 1 -2 1 -3 1 -2 1 -1 1 -2 0 -2 1 -1 0 -2 0 -1 0 -1 0 -1 0 -1 0 0 0 0 -1 -1 0 0 -1 0 0 1 -1 0 -1 1 -1 0 -1 1 -1 1 -1 1 -1 1 -1 1 -1 1 -1 2 -1 1 -1 1 -1 2 -1 1 -1 2 -1 1 0 2 -1 1 -1 2 -1 1 -1 2 -1 1 0 2 -1 1 -1 2 -1 1 0 1 -1 1 0 2 -1 1 0 1 -1 1 0 1 -1 1 0 1 0 1 -1 1 0 1 0 1 0 0 -1 1 0 1 0 0 0 1 0 0 -1 1 0 0 0 1 0 0 0 1 0 0 0 0 0 1 0 0 0 0 -1 0 0 1 0 0 0 0 0 0 0 0 0 0 0 1 0 0 0 0 0 0 0 0 0 0 0 0 0 0 0 0"/>
<path transform="scale(0.1)" fill="none" stroke="#b22222" stroke-width="28" stroke-linejoin="round" d="M11968 6067l4 0 4 -1 4 -2 4 -2 4 -3 4 -3 4 -4 4 -5 4 -5 3 -6 4 -6 3 -7 3 -8 3 -8 3 -8 2 -10 3 -9 2 -10 2 -11 2 -11 2 -11 1 -12 2 -12 1 -13 0 -13 1 -13 0 -13 0 -14 0 -14 0 -14 -1 -14 -1 -14 -1 -15 -1 -14 -2 -15 -1 -14 -2 -14 -2 -15 -2 -14 -3 -14 -2 -13 -3 -14 -3 -13 -3 -13 -3 -13 -3 -12 -3 -11 -3 -11 -3 -11 -3 -10 -3 -10 -3 -9 -2 -8 -3 -8 -3 -7 -2 -7 -2 -6 -2 -5 -2 -4 -2 -4 -1 -3 -1 -2 -1 -2 0 -1 0 0 0 0 0 1 1 1 1 3 2 2 2 3 2 4 2 4 3 4 2 5 4 4 3 5 3 6 4 5 4 5 4 6 4 5 4 5 4 5 4 5 4 4 3 4 4 4 3 3 4 3 2 3 3 2 2 2 2 1 2 0 1 0 1 0 1 -1 0 -1 -1 -2 -1 -3 -1 -2 -1 -4 -2 -3 -2 -4 -3 -4 -3 -4 -3 -5 -3 -4 -4 -5 -4 -4 -3 -5 -4 -5 -4 -4 -4 -5 -4 -4 -4 -4 -3 -4 -4 -3 -3 -4 -3 -3 -3 -2 -2 -3 -3 -2 -2 -2 -2 -2 -1 -1 -2 -1 -1 -1 -1 -1 0 0 -1 -1 0 0 -1 -1 0 0 0 0 0 0 0 0 -1 0 0 0 0 -1 0 0 0 0 -1 0 0 0 0 -1 -1 0 0 0 0 0 0 0 0 0 0 0 1 1 1 0 1 0 1 1 2 1 2 1 3 1 3 2 3 1 4 2 4 1 4 2 5 2 5 2 5 2 5 2 6 2 5 1 5 2 5 1 4 1 5 1 3 1 3 0 3 1 2 0 1 -1 0 0 0 -1 -2 -1 -2 -2 -2 -1 -4 -2 -4 -2 -5 -1 -5 -2 -6 -2 -6 -2 -6 -2 -6 -2 -6 -2 -6 -1 -6 -2 -5 -1 -5 -1 -4 -1 -4 -1 -2 0 -3 -1 -1 0 -1 0 0 0 1 0 1 0 2 0 2 1 3 0 2 0 3 0 3 1 3 0 3 0 3 0 2 0 1 0 2 0 0 -1 1 0 -1 0 0 0 -1 -1 -2 0 -2 0 -2 0 -2 0 -2 0 -2 -1 -1 0 -1 0 -1 0 0 0 1 0 2 0 2 -1 4 0 4 -1 5 0 7 -1 7 -1 7 -1 9 -2 9 -2 9 -1 10 -2 9 -2 9 -3 9 -2 8 -2 8 -3 7 -2 5 -2 5 -2 3 -2 2 -1 0 -1 -1 -1 -2 -1 -4 0 -6 0 -6 1 -8 1 -9 1 -9 2 -10 2 -11 3 -11 2 -11 3 -10 3 -10 3 -10 3 -8 3 -8 2 -7 2 -5 2 -4 2 -3 1 -1 0 0 0 1 0 3 -1 4 -2 5 -2 5 -3 7 -3 7 -4 8 -4 7 -4 8 -4 7 -4 8 -4 6 -4 6 -4 5 -3 3 -3 3 -2 1 -2 1 -1 -2 0 -2 0 -3 2 -5 2 -6 2 -6 4 -8 4 -7 4 -9 5 -8 5 -8 5 -8 5 -7 4 -6 5 -5 3 -4 3 -2 1 -1 1 2 -2 4 -2 6 -5 8 -7 11 -9 14 -12 16 -14 19 -16 22 -20 24 -22 27 -25 29 -28 32 -31 34 -33 36 -37 37 -39 40 -41 40 -45 42 -46 43 -49 43 -50 44 -53 44 -53 44 -56 44 -56 43 -57 42 -57 41 -58 40 -58 39 -58 36 -57 35 -57 33 -56 31 -54 28 -53 27 -52 23 -49 21 -48 19 -45 16 -43 14 -41 10 -38 9 -36 5 -32 3 -30 1 -27 -1 -24 -4 -21 -6 -18 -9 -16 -10 -12 -12 -10 -14 -6 -16 -4 -17 -1 -19 1 -19 4 -22 6 -22 9 -23 11 -24 13 -24 15 -25 17 -26 18 -26 20 -27 22 -26 23 -27 24 -26 25 -27 27 -26 27 -27 28 -26 29 -25 29 -26 29 -25 30 -24 31 -24 30 -23 31 -23 30 -23 31 -21 30 -21 30 -21 30 -20 29 -19 29 -18 29 -18 28 -18 28 -16 27 -16 27 -16 26 -15 25 -14 25 -14 24 -13 24 -12 23 -12 22 -12 21 -11 21 -10 20 -10 19 -10 19 -9 17 -9 18 -8 16 -8 16 -8 15 -7 14 -7 14 -6 13 -7 12 -6 12 -6 11 -5 11 -5 9 -6 10 -4 8 -5 8 -5 8 -4 6 -4 7 -4 5 -4 6 -4 4 -4 4 -4 4 -3 3 -4 2 -4 2 -3 1 -4 1 -3 0"/>
<path transform="scale(0.1)" fill="none" stroke="#b22222" stroke-width="28" stroke-linejoin="round" d="M11968 6400l6 0 7 1 6 2 7 2 7 3 6 4 7 4 7 5 7 6 7 6 7 7 8 8 7 8 8 9 8 10 8 10 9 11 8 12 9 12 9 13 10 14 10 14 10 15 11 16 10 16 12 17 11 18 12 18 13 18 13 20 13 20 14 20 14 21 15 21 15 22 15 22 16 23 17 23 17 23 17 24 18 24 18 24 19 24 20 24 19 24 20 25 21 24 21 24 21 23 22 24 22 23 22 22 22 22 22 21 23 21 23 19 22 19 23 17 22 17 23 15 22 14 22 13 21 10 21 10 20 7 20 6 18 4 18 2 17 -1 16 -2 15 -5 14 -7 12 -10 11 -11 9 -15 8 -17 6 -19 5 -22 2 -24 1 -27 -1 -30 -4 -32 -5 -34 -8 -37 -9 -39 -12 -41 -14 -44 -16 -45 -18 -47 -21 -49 -22 -50 -24 -52 -26 -53 -28 -54 -30 -55 -31 -55 -33 -56 -34 -56 -35 -56 -36 -55 -37 -56 -37 -54 -39 -54 -38 -53 -38 -51 -38 -50 -38 -48 -37 -46 -37 -44 -35 -43 -35 -39 -33 -38 -31 -35 -30 -33 -29 -30 -26 -27 -24 -25 -22 -22 -20 -20 -18 -17 -16 -14 -13 -13 -11 -10 -9 -8 -7 -6 -5 -4 -3 -2 -1 -1 1 1 2 1 3 3 5 3 6 4 6 5 7 5 8 5 8 5 8 5 7 5 8 5 7 4 7 3 6 3 5 3 5 2 3 1 3 0 1 0 1 0 0 -1 -1 -2 -2 -2 -3 -2 -3 -3 -4 -3 -5 -3 -5 -4 -5 -3 -6 -4 -6 -3 -5 -3 -6 -4 -5 -3 -6 -2 -5 -3 -4 -2 -5 -3 -3 -1 -4 -2 -3 -1 -2 -2 -2 -1 -2 0 -2 -1 -1 -1 -1 0 -1 0 -1 -1 0 0 -1 0 0 -1 -1 0 -1 0 0 0 -1 -1 -1 0 -1 0 0 0 -1 0 -1 -1 0 0 0 0 0 0 0 0 1 0 1 1 2 0 2 0 2 1 4 0 3 1 5 0 4 1 6 1 5 0 6 1 6 0 6 0 7 1 6 0 6 0 5 0 5 0 5 0 4 -1 3 0 2 -1 2 0 0 -1 0 -1 -2 0 -2 -1 -3 -1 -4 0 -5 -1 -5 -1 -6 0 -6 0 -7 -1 -6 0 -7 0 -7 0 -6 0 -6 0 -6 1 -5 0 -4 0 -4 0 -3 1 -2 0 -2 0 -1 0 0 0 1 0 1 0 2 -1 2 0 2 0 3 -1 3 0 2 -1 3 -1 2 0 2 -1 2 0 1 -1 1 0 0 0 0 -1 -1 0 -1 0 -1 1 -2 0 -2 0 -2 1 -2 0 -2 1 -2 0 -2 1 -2 0 0 0 -1 1 1 -1 1 0 1 -1 3 -1 3 -1 5 -2 5 -2 5 -3 7 -3 7 -3 7 -3 8 -4 9 -5 8 -4 8 -4 9 -5 8 -5 8 -5 7 -4 7 -4 6 -5 5 -3 4 -4 3 -3 2 -2 1 -2 0 -2 -1 0 -2 0 -3 0 -4 1 -5 2 -6 2 -6 3 -8 4 -7 4 -8 4 -8 5 -9 4 -8 5 -8 5 -8 5 -7 5 -8 5 -6 4 -6 4 -5 4 -5 3 -3 3 -3 2 -2 2 -1 1 -1 0 1 -1 1 -1 2 -2 2 -2 4 -3 3 -3 4 -4 4 -5 5 -4 5 -6 5 -5 5 -5 4 -6 5 -5 4 -5 4 -6 4 -4 3 -5 3 -4 2 -4 2 -3 1 -3 1 -2 0 -1 0 -1 -1 0 -2 0 -2 1 -2 2 -3 2 -3 3 -4 3 -4 4 -4 5 -4 5 -4 5 -5 5 -4 5 -5 6 -4 6 -4 5 -4 6 -4 5 -3 5 -4 5 -2 4 -3 4 -2 3 -1 3 -2 2 0 1 -1 0 1 0 0 -1 1 -2 2 -3 2 -4 2 -5 3 -6 3 -7 4 -8 4 -9 4 -10 4 -10 5 -12 5 -13 5 -13 5 -14 5 -15 5 -16 6 -17 5 -17 5 -18 6 -18 5 -19 5 -20 5 -20 5 -20 4 -21 4 -21 5 -21 4 -22 3 -21 3 -22 3 -22 3 -22 3 -22 2 -21 1 -22 2 -21 1 -21 0 -21 1 -21 -1 -20 0 -20 -1 -19 -1 -20 -1 -18 -2 -18 -2 -18 -3 -17 -3 -17 -3 -16 -3 -15 -4 -15 -4 -14 -4 -14 -5 -13 -5 -12 -5 -11 -5 -11 -6 -10 -5 -10 -6 -8 -6 -8 -6 -7 -6 -7 -7 -6 -6 -5 -7 -4 -7 -3 -7 -3 -6 -2 -7 -1 -7 0"/>
<path transform="scale(0.1)" fill="none" stroke="#000000" stroke-width="28" stroke-linejoin="round" d="M11968 5477l0 0 0 0 0 0 0 0 0 0 0 0 0 0 0 0 0 0 0 0 0 0 0 0 0 0 0 0 0 0 0 0 0 0 0 0 0 0 0 1 0 0 0 0 0 0 0 0 0 0 0 0 0 1 0 0 0 0 1 0 0 1 0 0 0 1 0 0 0 0 0 1 0 0 1 1 0 1 0 0 0 1 1 1 0 0 0 1 1 1 0 1 0 1 1 1 0 0 1 1 0 1 1 1 0 1 1 1 0 1 1 1 0 1 1 1 1 1 0 1 1 1 0 1 1 1 1 0 0 1 1 1 0 0 1 0 0 1 1 0 0 0 0 0 0 0 1 0 0 0 0 -1 0 0 0 -1 -1 -1 0 -1 0 -1 -1 -1 0 -1 -1 -1 0 -1 -1 -2 -1 -1 -1 -2 -1 -2 -1 -1 -1 -2 -1 -1 -1 -2 -1 -1 -1 -2 -1 -1 -1 -1 -1 -1 0 -1 -1 -1 0 0 -1 -1 0 0 0 0 0 0 1 1 0 0 1 1 1 1 1 1 2 2 1 1 2 2 2 2 2 1 2 2 2 2 3 2 2 2 3 2 2 2 2 1 2 2 2 1 2 1 1 1 2 1 1 0 0 0 0 0 0 -1 0 -1 -1 -1 -1 -1 -2 -2 -2 -2 -3 -2 -2 -2 -3 -2 -3 -2 -3 -2 -3 -3 -3 -2 -3 -2 -3 -2 -2 -1 -2 -1 -2 -1 -1 -1 0 0 0 0 1 1 2 1 3 1 3 2 5 2 5 3 5 2 7 3 6 3 8 3 7 4 8 3 8 3 7 2 7 3 7 2 6 2 5 1 3 1 3 0 2 0 0 -1 -2 -1 -3 -2 -4 -3 -6 -3 -7 -3 -8 -3 -9 -4 -10 -3 -11 -4 -10 -4 -10 -3 -9 -3 -8 -2 -6 -2 -4 -1 -1 0 2 1 7 1 11 3 15 3 21 4 27 6 33 6 39 7 46 7 53 9 59 8 65 9 72 9 79 9 83 8 89 9 93 7 97 7 100 5 102 5 104 3 103 1 103 1 100 -2 98 -3 93 -5 88 -6 82 -8 75 -9 66 -11 58 -12 49 -13 38 -14 28 -15 16 -15 6 -15 -6 -15 -16 -15 -28 -15 -38 -14 -49 -13 -58 -12 -66 -11 -75 -9 -82 -8 -88 -6 -93 -5 -98 -3 -100 -2 -103 1 -103 1 -104 3 -102 5 -100 5 -97 7 -93 7 -89 9 -83 8 -79 9 -72 9 -65 9 -59 8 -53 9 -46 7 -39 7 -33 6 -27 6 -21 4 -15 3 -11 3 -7 1 -2 1 1 0 4 -1 6 -2 8 -2 9 -3 10 -3 10 -4 11 -4 10 -3 9 -4 8 -3 7 -3 6 -3 4 -3 3 -2 2 -1 0 -1 -2 0 -3 0 -3 1 -5 1 -6 2 -7 2 -7 3 -7 2 -8 3 -8 3 -7 4 -8 3 -6 3 -7 3 -5 2 -5 3 -5 2 -3 2 -3 1 -2 1 -1 1 0 0 0 0 1 -1 2 -1 2 -1 2 -1 3 -2 3 -2 3 -2 3 -3 3 -2 3 -2 3 -2 2 -2 3 -2 2 -2 2 -2 1 -1 1 -1 0 -1 0 -1 0 0 0 0 -1 0 -2 1 -1 1 -2 1 -2 1 -2 2 -2 1 -2 2 -3 2 -2 2 -3 2 -2 2 -2 2 -2 1 -2 2 -2 2 -1 1 -2 2 -1 1 -1 1 -1 1 0 0 -1 1 0 0 0 0 0 0 1 -1 0 0 1 -1 0 -1 1 -1 1 -1 1 -1 1 -2 1 -1 1 -2 1 -1 1 -2 1 -1 1 -2 1 -2 1 -1 1 -2 0 -1 1 -1 0 -1 1 -1 0 -1 0 -1 1 -1 0 -1 0 0 0 -1 0 0 -1 0 0 0 0 0 0 0 -1 0 0 1 -1 0 0 0 -1 1 0 1 -1 0 -1 1 0 1 -1 1 0 1 -1 1 -1 1 0 1 -1 1 0 1 -1 1 0 1 -1 1 0 1 -1 1 0 0 -1 1 0 1 0 1 -1 1 0 1 0 0 -1 1 0 1 0 0 0 1 -1 1 0 0 0 1 0 0 0 0 0 1 0 0 0 1 -1 0 0 0 0 0 0 1 0 0 0 0 0 0 0 0 0 0 0 0 0 1 0 0 0 0 0 0 0 0 0 0 0 0 0 0 0 0 0 0 0 0 0 0 0 0 0 0 0 0 0 0 0 0 0 0 0 0 0 0"/>
<path transform="scale(0.1)" fill="none" stroke="#000000" stroke-width="28" stroke-linejoin="round" d="M11968 5820l2 -1 3 0 2 -1 2 -2 3 -2 2 -3 2 -3 2 -3 2 -4 2 -5 2 -5 2 -5 2 -6 1 -6 2 -6 1 -7 1 -7 1 -7 1 -8 1 -8 0 -8 1 -9 0 -8 0 -9 0 -9 0 -10 0 -9 -1 -9 0 -10 -1 -9 -1 -10 -1 -9 -1 -9 -1 -10 -2 -9 -1 -9 -2 -9 -1 -8 -2 -9 -2 -8 -1 -7 -2 -8 -2 -7 -2 -7 -1 -6 -2 -6 -2 -6 -1 -5 -2 -4 -1 -4 -1 -4 -1 -3 -1 -2 -1 -2 0 -2 -1 -1 0 0 0 0 0 1 1 1 0 1 1 2 2 3 1 2 2 4 1 3 3 4 2 4 2 4 3 5 3 4 3 5 3 4 3 5 3 5 3 4 3 5 3 4 4 4 3 4 3 3 2 3 3 3 2 2 2 2 2 2 2 0 1 1 1 0 1 -1 0 -1 0 -1 0 -2 -1 -2 -2 -3 -1 -3 -2 -4 -2 -4 -3 -4 -3 -4 -3 -5 -3 -5 -4 -4 -3 -5 -4 -5 -4 -5 -4 -4 -3 -5 -4 -4 -4 -4 -3 -4 -3 -3 -3 -3 -2 -2 -2 -3 -2 -1 -1 -2 -1 0 -1 -1 0 0 0 0 1 1 1 1 2 1 2 2 2 2 2 2 3 2 3 2 3 2 3 2 3 2 3 2 3 2 2 1 2 1 2 1 2 1 1 1 1 0 1 0 0 -1 -1 0 -1 -1 -1 -2 -2 -1 -2 -2 -2 -1 -3 -2 -2 -2 -3 -2 -3 -2 -4 -2 -3 -2 -2 -1 -3 -2 -3 -1 -2 -1 -2 -1 -1 -1 -1 -1 -1 0 0 0 0 0 1 1 1 0 2 1 2 0 2 1 3 1 2 1 3 1 3 1 3 1 2 1 3 1 2 0 2 0 1 1 1 0 1 0 0 0 0 -1 -1 0 -1 -1 -2 -1 -2 0 -2 -1 -3 -1 -3 -1 -2 -1 -3 -1 -3 0 -3 -1 -2 -1 -2 0 -2 0 -2 -1 -1 0 0 0 0 0 1 0 1 0 1 0 2 1 2 0 3 0 3 1 3 0 3 0 3 0 3 0 3 0 2 0 2 0 2 0 1 0 1 0 0 -1 -1 0 -1 0 -1 0 -2 -1 -2 0 -3 0 -3 0 -3 0 -3 0 -3 0 -3 0 -3 0 -3 0 -2 0 -1 0 -1 0 -1 0 0 0 1 0 1 0 2 0 3 -1 3 0 3 -1 4 0 4 -1 4 -1 4 0 4 -1 3 -1 4 -1 3 -1 2 -1 2 0 1 -1 1 0 0 -1 -1 0 -2 0 -2 0 -3 1 -3 0 -4 1 -4 1 -4 1 -4 1 -4 1 -4 1 -4 1 -3 1 -3 1 -2 0 -2 1 0 0 0 0 2 -1 2 -1 3 -1 4 -1 5 -2 6 -3 6 -3 7 -3 7 -3 7 -4 8 -3 7 -4 7 -4 7 -4 6 -3 6 -4 4 -3 4 -2 2 -3 2 -1 0 -1 -1 -1 -2 1 -3 1 -5 1 -5 3 -7 3 -7 3 -8 4 -8 5 -8 4 -9 5 -8 5 -8 5 -7 4 -6 4 -5 3 -3 3 -2 1 0 0 2 -2 5 -3 7 -5 9 -7 12 -10 14 -12 18 -14 20 -17 23 -19 25 -23 28 -25 31 -28 33 -31 35 -34 38 -36 39 -39 41 -42 42 -44 44 -46 44 -49 46 -50 45 -53 46 -53 46 -55 45 -57 45 -56 43 -58 43 -57 41 -58 40 -58 38 -56 36 -57 34 -55 32 -54 29 -52 27 -51 24 -49 22 -46 19 -45 16 -42 13 -40 11 -36 8 -34 5 -32 3 -28 -1 -25 -2 -22 -5 -20 -7 -16 -10 -13 -12 -10 -13 -7 -16 -4 -17 -2 -19 2 -21 4 -22 7 -23 9 -24 11 -25 14 -26 16 -26 18 -28 20 -27 21 -28 23 -29 25 -28 26 -29 27 -28 29 -28 29 -29 30 -28 31 -27 31 -27 32 -27 32 -26 33 -26 33 -25 32 -25 33 -24 33 -23 33 -22 32 -22 32 -21 32 -21 31 -20 31 -19 30 -18 30 -18 29 -16 28 -17 28 -15 28 -15 26 -14 26 -14 25 -13 24 -12 24 -12 23 -11 22 -11 21 -10 21 -10 19 -9 20 -9 18 -8 17 -8 17 -8 16 -7 16 -6 15 -7 14 -6 13 -5 13 -6 12 -5 12 -5 10 -5 11 -4 9 -4 9 -4 9 -4 8 -4 7 -3 7 -3 7 -3 5 -4 6 -2 5 -3 4 -3 4 -3 3 -2 3 -3 3 -2 2 -3 1 -2 1 -3 1 -2 0"/>
<path transform="scale(0.1)" fill="none" stroke="#000000" stroke-width="28" stroke-linejoin="round" d="M11968 6495l7 0 7 1 7 2 8 2 7 3 7 4 8 4 7 5 8 6 7 6 8 7 8 7 9 9 8 9 9 9 9 11 9 10 9 12 10 12 10 13 10 14 10 14 11 14 11 16 12 16 12 16 12 17 12 18 13 18 14 19 14 19 14 20 15 20 15 20 15 21 16 22 17 21 16 22 18 22 17 23 19 22 18 23 19 23 19 22 20 23 20 22 21 23 21 21 21 22 21 21 21 21 22 20 22 20 22 18 22 18 22 17 22 16 21 14 22 14 21 12 21 11 21 9 20 8 19 6 19 4 18 2 17 0 16 -2 16 -3 14 -7 13 -8 11 -11 11 -13 9 -15 7 -18 5 -20 4 -23 2 -25 1 -28 -2 -30 -4 -33 -5 -35 -8 -37 -10 -39 -11 -42 -14 -44 -16 -45 -18 -48 -20 -49 -22 -50 -24 -52 -26 -53 -28 -54 -29 -55 -31 -55 -32 -56 -34 -56 -34 -56 -36 -56 -36 -55 -38 -54 -37 -54 -38 -52 -38 -52 -37 -49 -37 -49 -37 -46 -36 -44 -35 -42 -34 -40 -33 -37 -31 -35 -29 -33 -28 -29 -26 -27 -23 -25 -22 -22 -19 -19 -18 -17 -15 -14 -13 -12 -10 -10 -9 -7 -6 -6 -4 -4 -2 -2 -1 0 1 1 3 2 4 3 5 4 6 4 6 5 8 5 7 5 8 5 8 5 7 5 7 4 7 4 6 3 5 3 4 1 3 1 2 1 1 0 0 -1 -1 -2 -2 -2 -3 -3 -4 -3 -5 -4 -5 -3 -7 -4 -6 -4 -7 -5 -7 -4 -7 -4 -7 -4 -6 -3 -7 -3 -5 -3 -5 -3 -5 -2 -3 -1 -3 -2 -2 0 -1 -1 0 0 1 0 1 1 2 1 3 1 3 1 4 1 4 1 4 2 4 1 4 1 4 1 4 1 3 1 3 0 2 0 1 1 1 -1 0 0 0 0 -1 -1 -2 -1 -3 -1 -2 -1 -4 -1 -3 -1 -4 -1 -4 -1 -4 -1 -4 -1 -4 -1 -3 0 -3 -1 -3 0 -2 -1 -1 0 -1 0 0 0 0 0 1 0 2 0 2 1 2 0 3 0 3 0 3 0 3 0 3 0 3 0 3 0 2 0 2 0 2 0 1 0 1 -1 0 0 -1 0 -1 0 -1 0 -2 -1 -3 0 -2 0 -3 0 -3 0 -3 0 -3 0 -3 0 -3 0 -2 1 -2 0 -2 0 -1 0 -1 0 0 0 0 0 1 0 2 0 1 -1 3 0 2 0 3 -1 3 -1 3 0 3 -1 2 -1 3 0 2 -1 3 -1 1 0 2 -1 0 0 1 -1 0 0 -1 0 -1 0 -2 0 -2 1 -2 0 -3 1 -2 0 -3 1 -3 1 -3 1 -3 1 -2 0 -3 1 -2 1 -1 0 -1 1 -1 0 0 0 0 0 1 -1 2 0 1 -1 3 -1 2 -1 3 -1 3 -2 3 -2 3 -1 4 -2 3 -2 3 -2 3 -1 3 -2 2 -2 2 -1 1 -1 1 -1 0 -1 0 0 0 0 -1 0 -2 1 -2 0 -2 1 -2 2 -3 1 -3 2 -4 2 -3 2 -3 2 -3 2 -3 2 -3 2 -3 1 -2 2 -1 1 -2 1 -1 1 0 0 0 0 1 -1 1 -1 2 -1 2 -2 3 -2 3 -3 3 -3 4 -4 4 -4 4 -4 5 -4 4 -5 5 -5 4 -5 4 -4 5 -5 4 -5 3 -5 4 -4 3 -4 2 -4 2 -3 2 -3 1 -2 1 -2 0 -2 -1 0 0 -1 -2 1 -1 0 -3 2 -2 2 -3 2 -3 3 -4 4 -4 4 -4 4 -4 5 -4 4 -4 5 -4 6 -4 5 -4 5 -4 5 -4 5 -3 5 -3 4 -3 4 -2 4 -2 3 -2 2 -1 2 -1 1 0 1 0 0 1 -1 1 -2 1 -3 2 -4 3 -4 2 -6 3 -7 4 -7 4 -9 4 -9 4 -10 5 -12 5 -12 5 -13 5 -14 6 -15 5 -15 6 -17 5 -17 6 -17 6 -19 5 -19 5 -19 6 -20 5 -21 5 -21 5 -21 4 -21 5 -22 4 -22 3 -22 4 -22 3 -23 3 -22 2 -22 3 -22 2 -23 1 -21 1 -22 1 -22 0 -21 0 -21 0 -20 -1 -20 -1 -20 -1 -19 -2 -19 -2 -18 -3 -18 -2 -17 -4 -17 -3 -16 -4 -15 -4 -15 -4 -14 -5 -14 -5 -13 -5 -12 -5 -11 -6 -11 -6 -10 -5 -10 -7 -8 -6 -8 -6 -7 -7 -7 -7 -6 -7 -4 -7 -5 -7 -3 -7 -3 -7 -2 -7 -1 -7 0"/>
<text x="1441.6" y="554.8" text-anchor="middle" style="font-family:'DejaVu Sans',sans-serif;font-size:23.3px">0°</text>
<text x="1370.8" y="379.9" text-anchor="middle" style="font-family:'DejaVu Sans',sans-serif;font-size:23.3px">45°</text>
<text x="1196" y="308.9" text-anchor="middle" style="font-family:'DejaVu Sans',sans-serif;font-size:23.3px">90°</text>
<text x="1021.6" y="380.1" text-anchor="middle" style="font-family:'DejaVu Sans',sans-serif;font-size:23.3px">135°</text>
<text x="949.8" y="554.8" text-anchor="middle" style="font-family:'DejaVu Sans',sans-serif;font-size:23.3px">180°</text>
<text x="1022" y="729" text-anchor="middle" style="font-family:'DejaVu Sans',sans-serif;font-size:23.3px">225°</text>
<text x="1196.5" y="801" text-anchor="middle" style="font-family:'DejaVu Sans',sans-serif;font-size:23.3px">270°</text>
<text x="1370.8" y="729" text-anchor="middle" style="font-family:'DejaVu Sans',sans-serif;font-size:23.3px">315°</text>
<rect x="992.6" y="469.4" width="189.1" height="145.6" rx="4" fill="#ffffff" fill-opacity="0.8" stroke="#cccccc" stroke-width="1"/>
<line x1="999.9" y1="488.7" x2="1050.2" y2="488.7" stroke="#000000" stroke-width="3"/>
<text x="1052.6" y="497" style="font-family:'DejaVu Sans',sans-serif;font-size:23.3px">Simulated</text>
<line x1="999.9" y1="524.2" x2="1050.2" y2="524.2" stroke="#b22222" stroke-width="3"/>
<text x="1052.6" y="532.5" style="font-family:'DejaVu Sans',sans-serif;font-size:23.3px">30GHz</text>
<line x1="999.9" y1="558.7" x2="1050.2" y2="558.7" stroke="#ff0000" stroke-width="3"/>
<text x="1052.6" y="567" style="font-family:'DejaVu Sans',sans-serif;font-size:23.3px">20GHz</text>
<line x1="999.9" y1="592.3" x2="1050.2" y2="592.3" stroke="#ff8c00" stroke-width="3"/>
<text x="1052.6" y="600.6" style="font-family:'DejaVu Sans',sans-serif;font-size:23.3px">10GHz</text>
<circle cx="1196.8" cy="547.7" r="222.5" fill="none" stroke="#111" stroke-width="1.3"/>
<polygon fill="#ff0000" points="1318.3,347.4 1326.2,352.8 1359.5,301.9 1363.8,304.4 1360.6,290.8 1347.3,293.3 1351.3,296.5"/>
<polygon fill="#ff0000" points="1458.4,545.2 1519.2,545.2 1519.2,539.8 1529.3,550 1519.2,560.2 1519.2,555 1458.4,555"/>
<polygon fill="#ff0000" points="1345.4,738.1 1338.1,745.2 1380.1,788.5 1376.5,792.2 1391,792.4 1391.1,777.9 1387.3,781.5"/>
<text transform="translate(1.1,376.8) scale(0.78,1)" stroke="#000" stroke-width="0.7" style="font-family:'Liberation Sans',Arial,sans-serif;font-size:35.5px">a</text>
<text transform="translate(20.75,376.5) scale(0.75,1)" stroke="#000" stroke-width="0.7" style="font-family:'Liberation Sans',Arial,sans-serif;font-size:35.5px">)</text>
<text transform="translate(420.3,34.5) scale(0.98,1)" stroke="#000" stroke-width="0.7" style="font-family:'Liberation Sans',Arial,sans-serif;font-size:35.5px">b</text>
<text transform="translate(441.05,34.1) scale(0.75,1)" stroke="#000" stroke-width="0.7" style="font-family:'Liberation Sans',Arial,sans-serif;font-size:35.5px">)</text>
<text transform="translate(974.6,34.8) scale(0.89,1)" stroke="#000" stroke-width="0.7" style="font-family:'Liberation Sans',Arial,sans-serif;font-size:35.5px">c</text>
<text transform="translate(992.25,34.1) scale(0.75,1)" stroke="#000" stroke-width="0.7" style="font-family:'Liberation Sans',Arial,sans-serif;font-size:35.5px">)</text>
<defs>
<linearGradient id="chipg" x1="0" y1="0" x2="1" y2="1" gradientUnits="objectBoundingBox">
<stop offset="0" stop-color="#8e8e8a"/><stop offset="0.55" stop-color="#b4b4b2"/><stop offset="0.8" stop-color="#d6d6d6"/><stop offset="1" stop-color="#9a9a98"/>
</linearGradient>
<linearGradient id="chipt" x1="20" y1="0" x2="284" y2="0" gradientUnits="userSpaceOnUse">
<stop offset="0" stop-color="#dcdcda"/><stop offset="0.5" stop-color="#b9b9b7"/><stop offset="1" stop-color="#6a6a66"/>
</linearGradient>
<linearGradient id="chipb" x1="20" y1="0" x2="284" y2="0" gradientUnits="userSpaceOnUse">
<stop offset="0" stop-color="#7a7a78"/><stop offset="0.5" stop-color="#b4b4b2"/><stop offset="0.85" stop-color="#ececec"/><stop offset="1" stop-color="#f2f2f2"/>
</linearGradient>
<linearGradient id="chipm" x1="0" y1="600" x2="0" y2="680" gradientUnits="userSpaceOnUse">
<stop offset="0" stop-color="#000"/><stop offset="1" stop-color="#fff"/>
</linearGradient>
<mask id="chipmask" maskUnits="userSpaceOnUse" x="0" y="590" width="300" height="100"><rect x="0" y="590" width="300" height="100" fill="url(#chipm)"/></mask>
<filter id="blur6" x="-20%" y="-20%" width="140%" height="160%"><feGaussianBlur stdDeviation="4"/></filter>
<radialGradient id="ring" cx="0.5" cy="0.5" r="0.5"><stop offset="0" stop-color="#f4f4f4"/><stop offset="1" stop-color="#dcdcdc"/></radialGradient>
</defs>
<polyline fill="none" stroke="#f8383c" stroke-width="3.6" stroke-linejoin="miter" points="199.8,533 199.8,571 5.3,571 5.3,630 46,630"/>
<polyline fill="none" stroke="#f8383c" stroke-width="3.6" stroke-linejoin="miter" points="256.9,533 256.9,572 307.5,572 307.5,602.4"/>
<rect x="108.6" y="384.7" width="232.2" height="166.3" rx="1.5" fill="#b2b0b1" stroke="#5e5e5e" stroke-width="1.4"/>
<rect x="109.3" y="514.7" width="230.8" height="35.6" fill="#d3d3d3"/>
<line x1="108.6" y1="514.7" x2="340.8" y2="514.7" stroke="#555" stroke-width="1.3"/>
<rect x="112.2" y="390" width="138.1" height="84.7" rx="1" fill="#34486b"/>
<rect x="116.9" y="394.6" width="128.4" height="76.4" rx="2" fill="#2b2e3b"/>
<rect x="119.9" y="397.6" width="123.1" height="70.5" fill="#9cc3d4"/>
<polyline fill="none" stroke="#0b6fc6" stroke-width="2" stroke-linejoin="round" points="121.6,456.6 122.2,453.9 122.8,455.6 123.3,454.9 123.9,455.0 124.5,455.0 125.0,454.0 125.6,454.9 126.2,454.5 126.7,456.7 127.3,454.8 127.8,454.3 128.4,454.2 129.0,453.8 129.5,453.4 130.1,453.6 130.7,453.9 131.2,453.4 131.8,454.0 132.4,453.3 132.9,453.3 133.5,454.1 134.1,453.5 134.6,452.8 135.2,452.7 135.7,452.7 136.3,453.0 136.9,451.4 137.4,451.0 138.0,451.2 138.6,449.8 139.1,449.4 139.7,449.4 140.3,448.5 140.8,447.6 141.4,447.2 142.0,444.5 142.5,446.0 143.1,444.7 143.7,444.7 144.2,446.2 144.8,446.9 145.3,446.6 145.9,446.7 146.5,447.9 147.0,448.6 147.6,450.1 148.2,450.4 148.7,450.8 149.3,452.1 149.9,452.0 150.4,453.0 151.0,455.2 151.6,456.5 152.1,457.4 152.7,457.0 153.2,457.1 153.8,455.1 154.4,456.4 154.9,455.4 155.5,453.1 156.1,452.9 156.6,451.1 157.2,450.6 157.8,447.5 158.3,446.6 158.9,446.0 159.5,445.1 160.0,442.8 160.6,443.3 161.1,443.3 161.7,442.3 162.3,443.1 162.8,441.1 163.4,441.5 164.0,440.3 164.5,441.2 165.1,439.9 165.7,439.2 166.2,438.0 166.8,439.4 167.4,438.5 167.9,438.0 168.5,437.7 169.0,436.8 169.6,435.8 170.2,435.4 170.7,435.1 171.3,436.1 171.9,434.2 172.4,434.4 173.0,434.3 173.6,434.2 174.1,433.8 174.7,432.2 175.3,431.4 175.8,427.4 176.4,427.0 177.0,426.7 177.5,426.4 178.1,426.1 178.6,426.4 179.2,426.1 179.8,426.7 180.3,425.8 180.9,426.3 181.5,426.2 182.0,426.6 182.6,426.3 183.2,427.6 183.7,427.0 184.3,426.9 184.9,424.9 185.4,425.8 186.0,425.6 186.5,426.2 187.1,424.5 187.7,426.6 188.2,426.9 188.8,425.9 189.4,426.5 189.9,427.0 190.5,428.1 191.1,429.5 191.6,431.7 192.2,432.0 192.8,434.3 193.3,437.4 193.9,442.8 194.4,447.9 195.0,452.0 195.6,454.0 196.1,457.9 196.7,458.6 197.3,458.8 197.8,457.2 198.4,455.6 199.0,454.8 199.5,454.5 200.1,453.6 200.7,453.5 201.2,454.3 201.8,455.4 202.4,453.9 202.9,453.7 203.5,453.4 204.0,453.2 204.6,454.1 205.2,454.2 205.7,453.6 206.3,453.6 206.9,453.4 207.4,453.3 208.0,452.3 208.6,452.2 209.1,451.5 209.7,450.0 210.3,449.2 210.8,448.0 211.4,447.3 211.9,447.0 212.5,445.7 213.1,445.3 213.6,445.3 214.2,444.6 214.8,444.6 215.3,441.9 215.9,443.0 216.5,441.7 217.0,441.5 217.6,441.3 218.2,440.9 218.7,440.3 219.3,439.2 219.8,439.5 220.4,437.9 221.0,437.4 221.5,437.4 222.1,436.0 222.7,437.0 223.2,435.8 223.8,435.8 224.4,433.9 224.9,433.1 225.5,432.8 226.1,432.4 226.6,431.1 227.2,431.1 227.8,430.7 228.3,431.5 228.9,430.0 229.4,430.8 230.0,429.7 230.6,429.4 231.1,429.3 231.7,428.9 232.3,429.6 232.8,430.1 233.4,429.5 234.0,429.7 234.5,430.2 235.1,429.4 235.7,429.3 236.2,429.0 236.8,428.2 237.3,429.5 237.9,428.1 238.5,429.4 239.0,429.0 239.6,429.6 240.2,428.9 240.7,428.5 241.3,429.1 241.9,428.6 242.4,428.7"/>
<polyline fill="none" stroke="#f4ef1c" stroke-width="2" stroke-linejoin="round" points="120.2,404.3 120.8,404.6 121.4,405.6 121.9,405.1 122.5,403.9 123.0,404.8 123.6,404.5 124.2,405.0 124.7,404.0 125.3,404.9 125.9,404.9 126.4,405.6 127.0,404.8 127.6,404.8 128.1,403.6 128.7,405.8 129.3,403.5 129.8,405.3 130.4,404.5 131.0,404.3 131.5,404.5 132.1,404.5 132.6,405.1 133.2,404.9 133.8,405.8 134.3,403.9 134.9,405.1 135.5,405.5 136.0,407.3 136.6,406.6 137.2,409.4 137.7,411.7 138.3,412.7 138.9,416.5 139.4,418.8 140.0,422.1 140.5,425.0 141.1,426.9 141.7,430.0 142.2,433.3 142.8,436.9 143.4,439.2 143.9,436.6 144.5,435.0 145.1,433.2 145.6,430.2 146.2,426.8 146.8,422.3 147.3,420.2 147.9,416.5 148.4,415.6 149.0,415.3 149.6,413.7 150.1,413.3 150.7,412.8 151.3,412.6 151.8,411.0 152.4,412.0 153.0,410.5 153.5,410.3 154.1,410.1 154.7,409.5 155.2,409.2 155.8,408.9 156.3,409.6 156.9,410.6 157.5,410.6 158.0,412.5 158.6,411.7 159.2,411.8 159.7,414.0 160.3,413.0 160.9,412.0 161.4,413.3 162.0,411.7 162.6,412.1 163.1,410.6 163.7,410.3 164.3,408.8 164.8,408.1 165.4,407.9 165.9,407.8 166.5,408.0 167.1,408.5 167.6,406.2 168.2,407.0 168.8,405.8 169.3,405.7 169.9,404.7 170.5,404.6 171.0,404.9 171.6,404.6 172.2,405.1 172.7,404.8 173.3,406.2 173.8,405.9 174.4,406.3 175.0,408.0 175.5,409.5 176.1,411.9 176.7,414.5 177.2,418.2 177.8,422.6 178.4,426.2 178.9,429.8 179.5,433.8 180.1,435.7 180.6,438.9 181.2,438.3 181.7,438.1 182.3,435.7 182.9,433.7 183.4,430.0 184.0,425.4 184.6,420.8 185.1,420.4 185.7,419.2 186.3,418.0 186.8,418.2 187.4,416.5 188.0,417.8 188.5,416.2 189.1,415.8 189.7,416.4 190.2,415.8 190.8,413.9 191.3,413.3 191.9,412.7 192.5,412.2 193.0,410.3 193.6,409.6 194.2,409.4 194.7,408.2 195.3,407.8 195.9,407.0 196.4,405.3 197.0,404.7 197.6,403.0 198.1,404.1 198.7,405.2 199.2,404.0 199.8,405.5 200.4,405.6 200.9,405.2 201.5,405.5 202.1,405.9 202.6,405.7 203.2,406.9 203.8,407.9 204.3,409.1 204.9,410.0 205.5,409.7 206.0,410.0 206.6,408.4 207.1,408.1 207.7,407.7 208.3,406.9 208.8,406.7 209.4,406.7 210.0,406.1 210.5,405.8 211.1,405.9 211.7,406.4 212.2,405.6 212.8,406.5 213.4,405.4 213.9,403.6 214.5,406.2 215.1,408.5 215.6,408.9 216.2,410.2 216.7,411.3 217.3,413.1 217.9,413.5 218.4,413.9 219.0,414.3 219.6,415.4 220.1,415.3 220.7,414.4 221.3,415.8 221.8,418.4 222.4,421.6 223.0,423.7 223.5,421.4 224.1,417.9 224.6,419.9 225.2,419.3 225.8,418.3 226.3,418.1 226.9,418.4 227.5,417.5 228.0,418.4 228.6,418.1 229.2,418.1 229.7,417.8 230.3,417.7 230.9,418.6 231.4,418.5 232.0,417.8 232.5,417.3 233.1,416.8 233.7,417.6 234.2,418.0 234.8,416.1 235.4,417.5 235.9,415.8 236.5,417.0 237.1,417.6 237.6,416.8 238.2,416.9 238.8,417.9 239.3,418.3 239.9,417.5 240.5,418.6 241.0,417.4"/>
<rect x="254.3" y="396.6" width="82.5" height="47.9" rx="2" fill="#555555" stroke="#333" stroke-width="1"/>
<rect x="261.2" y="402.8" width="6.8" height="3.6" rx="1.2" fill="#f6f6f6"/>
<rect x="261.2" y="409.7" width="6.8" height="3.6" rx="1.2" fill="#f6f6f6"/>
<rect x="273.6" y="402.8" width="6.8" height="3.6" rx="1.2" fill="#f6f6f6"/>
<rect x="273.6" y="409.7" width="6.8" height="3.6" rx="1.2" fill="#f6f6f6"/>
<rect x="286.1" y="402.8" width="6.8" height="3.6" rx="1.2" fill="#f6f6f6"/>
<rect x="286.1" y="409.7" width="6.8" height="3.6" rx="1.2" fill="#f6f6f6"/>
<rect x="263.2" y="422.7" width="2.8" height="2" rx="0.5" fill="#f0f0f0"/>
<rect x="263.2" y="426.7" width="2.8" height="2" rx="0.5" fill="#f0f0f0"/>
<rect x="263.2" y="430.4" width="2.8" height="2" rx="0.5" fill="#f0f0f0"/>
<rect x="263.2" y="434.2" width="2.8" height="2" rx="0.5" fill="#f0f0f0"/>
<rect x="268.2" y="422.7" width="2.8" height="2" rx="0.5" fill="#f0f0f0"/>
<rect x="268.2" y="426.7" width="2.8" height="2" rx="0.5" fill="#f0f0f0"/>
<rect x="268.2" y="430.4" width="2.8" height="2" rx="0.5" fill="#f0f0f0"/>
<rect x="268.2" y="434.2" width="2.8" height="2" rx="0.5" fill="#f0f0f0"/>
<rect x="273.1" y="422.7" width="2.8" height="2" rx="0.5" fill="#f0f0f0"/>
<rect x="273.1" y="426.7" width="2.8" height="2" rx="0.5" fill="#f0f0f0"/>
<rect x="273.1" y="430.4" width="2.8" height="2" rx="0.5" fill="#f0f0f0"/>
<rect x="273.1" y="434.2" width="2.8" height="2" rx="0.5" fill="#f0f0f0"/>
<ellipse cx="313" cy="415" rx="6.6" ry="5.5" fill="#ffffff" stroke="#2a78c8" stroke-width="1"/>
<rect x="311" y="427.3" width="4" height="2.2" rx="0.5" fill="#c8c8c8"/>
<rect x="303" y="431.6" width="4" height="2.2" rx="0.5" fill="#c8c8c8"/>
<rect x="311" y="431.6" width="4" height="2.2" rx="0.5" fill="#c8c8c8"/>
<rect x="319.1" y="431.6" width="4" height="2.2" rx="0.5" fill="#c8c8c8"/>
<circle cx="266.7" cy="466.6" r="3.4" fill="#d8d8d8" stroke="#2a2a2a" stroke-width="2.3"/>
<circle cx="266.7" cy="466.6" r="1" fill="#ffffff"/>
<circle cx="281.5" cy="466.6" r="3.4" fill="#d8d8d8" stroke="#2a2a2a" stroke-width="2.3"/>
<circle cx="281.5" cy="466.6" r="1" fill="#ffffff"/>
<circle cx="296.3" cy="466.6" r="3.4" fill="#d8d8d8" stroke="#2a2a2a" stroke-width="2.3"/>
<circle cx="296.3" cy="466.6" r="1" fill="#ffffff"/>
<rect x="320.2" y="462.9" width="9.8" height="7.6" fill="#f4f4f4"/>
<circle cx="325.1" cy="467" r="2.3" fill="none" stroke="#e03030" stroke-width="0.8"/><line x1="325.1" y1="463.9" x2="325.1" y2="466" stroke="#e03030" stroke-width="0.8"/>
<circle cx="154.5" cy="495.7" r="6.9" fill="#4a4a4a" stroke="#1e1e1e" stroke-width="1.1"/>
<circle cx="154.5" cy="495.7" r="3.4" fill="#f6f6f6"/>
<circle cx="154.5" cy="495.7" r="1.4" fill="#2a2a2a"/>
<circle cx="154.5" cy="531.9" r="6.9" fill="#4a4a4a" stroke="#1e1e1e" stroke-width="1.1"/>
<circle cx="154.5" cy="531.9" r="3.4" fill="#f6f6f6"/>
<circle cx="154.5" cy="531.9" r="1.4" fill="#2a2a2a"/>
<path d="M154.2,496.3 C148.5,500 139.5,505 139.7,512 C139.9,519 148.5,526 154.5,531.8" fill="none" stroke="#3a3a3a" stroke-width="3.4" stroke-linecap="round"/>
<path d="M154.2,496.3 C148.5,500 139.5,505 139.7,512 C139.9,519 148.5,526 154.5,531.8" fill="none" stroke="#8c8c8c" stroke-width="1.3" stroke-linecap="round"/>
<circle cx="299.3" cy="495.7" r="6.9" fill="#4a4a4a" stroke="#1e1e1e" stroke-width="1.1"/>
<circle cx="299.3" cy="495.7" r="3.4" fill="#f6f6f6"/>
<circle cx="299.3" cy="495.7" r="1.4" fill="#2a2a2a"/>
<circle cx="299.3" cy="531.9" r="6.9" fill="#4a4a4a" stroke="#1e1e1e" stroke-width="1.1"/>
<circle cx="299.3" cy="531.9" r="3.4" fill="#f6f6f6"/>
<circle cx="299.3" cy="531.9" r="1.4" fill="#2a2a2a"/>
<path d="M299,496.3 C293.3,500 284.3,505 284.5,512 C284.7,519 293.3,526 299.3,531.8" fill="none" stroke="#3a3a3a" stroke-width="3.4" stroke-linecap="round"/>
<path d="M299,496.3 C293.3,500 284.3,505 284.5,512 C284.7,519 293.3,526 299.3,531.8" fill="none" stroke="#8c8c8c" stroke-width="1.3" stroke-linecap="round"/>
<circle cx="199.8" cy="531.9" r="4.4" fill="#8a8a8a" stroke="#262626" stroke-width="1.6"/>
<circle cx="257.2" cy="531.9" r="4.4" fill="#8a8a8a" stroke="#262626" stroke-width="1.6"/>
<line x1="199.8" y1="531.8" x2="199.8" y2="560" stroke="#f8383c" stroke-width="3.8" stroke-linecap="round"/>
<line x1="257.0" y1="531.8" x2="257.0" y2="560" stroke="#f8383c" stroke-width="3.8" stroke-linecap="round"/>
<rect x="199.8" y="488.6" width="49.7" height="20.8" rx="3" fill="#e6e6e6" stroke="#7a7a7a" stroke-width="1"/>
<text x="201.6" y="506.8" style="font-family:'Liberation Sans',Arial,sans-serif;font-size:22.3px">VNA</text>
<rect x="111.3" y="534" width="26.9" height="15.6" rx="1.5" fill="#ececec" stroke="#9a9a9a" stroke-width="0.8"/>
<line x1="119.6" y1="541.3" x2="138" y2="541.3" stroke="#f02020" stroke-width="1.2"/>
<line x1="122.1" y1="541.7" x2="126.1" y2="541.7" stroke="#ff1a1a" stroke-width="0.9"/>
<line x1="121.8" y1="543.0" x2="125.2" y2="545.0" stroke="#ff1a1a" stroke-width="0.9"/>
<line x1="120.8" y1="543.9" x2="122.8" y2="547.3" stroke="#ff1a1a" stroke-width="0.9"/>
<line x1="119.6" y1="544.2" x2="119.6" y2="548.2" stroke="#ff1a1a" stroke-width="0.9"/>
<line x1="118.3" y1="543.9" x2="116.3" y2="547.3" stroke="#ff1a1a" stroke-width="0.9"/>
<line x1="117.4" y1="543.0" x2="114.0" y2="545.0" stroke="#ff1a1a" stroke-width="0.9"/>
<line x1="117.1" y1="541.7" x2="113.1" y2="541.7" stroke="#ff1a1a" stroke-width="0.9"/>
<line x1="117.4" y1="540.5" x2="114.0" y2="538.5" stroke="#ff1a1a" stroke-width="0.9"/>
<line x1="118.3" y1="539.5" x2="116.3" y2="536.1" stroke="#ff1a1a" stroke-width="0.9"/>
<line x1="119.6" y1="539.2" x2="119.6" y2="535.2" stroke="#ff1a1a" stroke-width="0.9"/>
<line x1="120.8" y1="539.5" x2="122.8" y2="536.1" stroke="#ff1a1a" stroke-width="0.9"/>
<line x1="121.8" y1="540.5" x2="125.2" y2="538.5" stroke="#ff1a1a" stroke-width="0.9"/>
<circle cx="119.6" cy="541.7" r="3.2" fill="#ff1010"/>
<polygon points="64,603 285,603 247,690 22,690" fill="#000" fill-opacity="0.55" filter="url(#blur6)"/>
<polygon points="62.1,599.4 283.4,599.4 241.5,680 19.9,680.2" fill="url(#chipt)"/>
<polygon points="62.1,599.4 283.4,599.4 241.5,680 19.9,680.2" fill="url(#chipb)" mask="url(#chipmask)"/>
<polygon points="62.1,599.4 283.4,599.4 241.5,680 19.9,680.2" fill="none" stroke="#111" stroke-width="1.3" stroke-linejoin="miter"/>
<polyline fill="none" stroke="#f8383c" stroke-width="3.6" points="267,631 308.3,631"/>
<line x1="5.3" y1="630" x2="46" y2="630" stroke="#f8383c" stroke-width="3.6"/>
<path fill="none" stroke="#111" stroke-width="1.1" d="M67.2,638.8 C73.2,638.8 76.2,637.8 80.3,633.7 C84.5,629.6 86.5,629.1 90.5,629.0"/>
<path fill="none" stroke="#111" stroke-width="1.1" d="M85.4,617.6 C89.0,618.3 88.0,620.8 87.5,623.3 C87.5,627.6 88.0,628.2 90.5,628.2"/>
<path fill="none" stroke="#111" stroke-width="1.1" d="M99.0,628.1 C106.5,628.1 109.2,618.4 118.2,618.4 L129.7,618.6 C132.2,618.7 133.0,620.9 133.0,627.1 C133.3,628.2 134.2,628.2 136.7,628.2"/>
<path fill="none" stroke="#111" stroke-width="1.1" d="M99.0,629.1 C102.5,629.1 103.0,631.6 103.3,634.1 C103.5,636.8 105.5,637.8 109.5,637.8 C118.7,637.8 120.7,638.1 125.7,635.3 C130.7,630.1 132.7,629.1 136.7,629.1"/>
<path fill="none" stroke="#111" stroke-width="1.1" d="M145.2,628.1 C152.7,628.1 162.0,618.4 171.0,618.4 L176.4,618.6 C178.9,618.7 179.7,620.9 179.7,627.1 C180.0,628.2 179.9,628.2 182.4,628.2"/>
<path fill="none" stroke="#111" stroke-width="1.1" d="M145.2,629.1 C148.7,629.1 149.2,631.6 149.5,634.1 C149.7,636.8 151.7,637.8 155.7,637.8 C164.4,637.8 166.4,638.1 171.4,635.3 C176.4,630.1 178.4,629.1 182.4,629.1"/>
<path fill="none" stroke="#111" stroke-width="1.1" d="M190.9,628.1 C198.4,628.1 209.0,618.4 218.0,618.4 L222.6,618.6 C225.1,618.7 225.9,620.9 225.9,627.1 C226.2,628.2 226.1,628.2 228.6,628.2"/>
<path fill="none" stroke="#111" stroke-width="1.1" d="M190.9,629.1 C194.4,629.1 194.9,631.6 195.2,634.1 C195.4,636.8 197.4,637.8 201.4,637.8 C210.6,637.8 212.6,638.1 217.6,635.3 C222.6,630.1 224.6,629.1 228.6,629.1"/>
<path fill="none" stroke="#111" stroke-width="1.1" d="M237.1,628.1 C241.6,628.1 243.6,625.6 249.2,623.1 C249.4,619.1 253.4,617.6 261.4,617.6"/>
<path fill="none" stroke="#111" stroke-width="1.1" d="M237.1,629.1 C240.6,629.1 241.1,631.6 241.4,634.1 C241.6,638.2 243.6,639.2 249.9,639.2"/>
<line x1="90.2" y1="628.6" x2="98.8" y2="628.6" stroke="#000" stroke-width="3" stroke-linecap="round"/>
<line x1="136.4" y1="628.6" x2="145.0" y2="628.6" stroke="#000" stroke-width="3" stroke-linecap="round"/>
<line x1="182.1" y1="628.6" x2="190.7" y2="628.6" stroke="#000" stroke-width="3" stroke-linecap="round"/>
<line x1="228.3" y1="628.6" x2="236.9" y2="628.6" stroke="#000" stroke-width="3" stroke-linecap="round"/>
<ellipse cx="70.4" cy="611.8" rx="8.0" ry="4.7" transform="rotate(-38 70.4 611.8)" fill="#f4f4f4" stroke="#000" stroke-width="1.3"/>
<ellipse cx="72.9" cy="611.8" rx="8.0" ry="4.7" transform="rotate(-38 72.9 611.8)" fill="#f4f4f4" stroke="#000" stroke-width="1.3"/>
<ellipse cx="75.4" cy="611.8" rx="8.0" ry="4.7" transform="rotate(-38 75.4 611.8)" fill="#f4f4f4" stroke="#000" stroke-width="1.3"/>
<ellipse cx="77.9" cy="611.8" rx="8.0" ry="4.7" transform="rotate(-38 77.9 611.8)" fill="#f4f4f4" stroke="#000" stroke-width="1.3"/>
<ellipse cx="80.4" cy="611.8" rx="8.0" ry="4.7" transform="rotate(-38 80.4 611.8)" fill="#f4f4f4" stroke="#000" stroke-width="1.3"/>
<ellipse cx="82.9" cy="611.8" rx="8.0" ry="4.7" transform="rotate(-38 82.9 611.8)" fill="#f4f4f4" stroke="#000" stroke-width="1.3"/>
<ellipse cx="85.4" cy="611.8" rx="8.0" ry="4.7" transform="rotate(-38 85.4 611.8)" fill="#e4e4e4" stroke="#000" stroke-width="1.6"/>
<ellipse cx="84.8" cy="612.1" rx="6.0" ry="3.1" transform="rotate(-38 84.8 612.1)" fill="#ffffff"/>
<ellipse cx="124.2" cy="611.4" rx="8.0" ry="4.7" transform="rotate(-38 124.2 611.4)" fill="#e4e4e4" stroke="#000" stroke-width="1.6"/>
<ellipse cx="123.6" cy="611.7" rx="6.0" ry="3.1" transform="rotate(-38 123.6 611.7)" fill="#ffffff"/>
<ellipse cx="172.0" cy="611.0" rx="8.0" ry="4.7" transform="rotate(-38 172.0 611.0)" fill="#f4f4f4" stroke="#000" stroke-width="1.3"/>
<ellipse cx="174.5" cy="611.0" rx="8.0" ry="4.7" transform="rotate(-38 174.5 611.0)" fill="#f4f4f4" stroke="#000" stroke-width="1.3"/>
<ellipse cx="177.0" cy="611.0" rx="8.0" ry="4.7" transform="rotate(-38 177.0 611.0)" fill="#e4e4e4" stroke="#000" stroke-width="1.6"/>
<ellipse cx="176.4" cy="611.3" rx="6.0" ry="3.1" transform="rotate(-38 176.4 611.3)" fill="#ffffff"/>
<ellipse cx="216.5" cy="611.0" rx="8.0" ry="4.7" transform="rotate(-38 216.5 611.0)" fill="#f4f4f4" stroke="#000" stroke-width="1.3"/>
<ellipse cx="219.0" cy="611.0" rx="8.0" ry="4.7" transform="rotate(-38 219.0 611.0)" fill="#f4f4f4" stroke="#000" stroke-width="1.3"/>
<ellipse cx="221.5" cy="611.0" rx="8.0" ry="4.7" transform="rotate(-38 221.5 611.0)" fill="#f4f4f4" stroke="#000" stroke-width="1.3"/>
<ellipse cx="224.0" cy="611.0" rx="8.0" ry="4.7" transform="rotate(-38 224.0 611.0)" fill="#e4e4e4" stroke="#000" stroke-width="1.6"/>
<ellipse cx="223.4" cy="611.3" rx="6.0" ry="3.1" transform="rotate(-38 223.4 611.3)" fill="#ffffff"/>
<path fill="none" stroke="#111" stroke-width="1.1" d="M48.3,675.0 C54.3,675.0 57.3,674.0 61.1,669.8 C65.0,665.5 67.0,665.0 71.0,664.9"/>
<path fill="none" stroke="#111" stroke-width="1.1" d="M62.8,653.4 C69.5,654.1 68.5,656.6 68.0,659.1 C68.0,663.5 68.5,664.1 71.0,664.1"/>
<path fill="none" stroke="#111" stroke-width="1.1" d="M79.5,664.0 C87.0,664.0 95.1,654.4 104.1,654.4 L112.3,654.6 C114.8,654.7 115.6,656.9 115.6,663.0 C115.9,664.1 115.8,664.1 118.3,664.1"/>
<path fill="none" stroke="#111" stroke-width="1.1" d="M79.5,665.0 C83.0,665.0 83.5,667.5 83.8,670.0 C84.0,673.0 86.0,674.0 90.0,674.0 C100.3,674.0 102.3,674.3 107.3,671.5 C112.3,666.0 114.3,665.0 118.3,665.0"/>
<path fill="none" stroke="#111" stroke-width="1.1" d="M126.8,664.0 C134.3,664.0 146.0,654.4 155.0,654.4 L157.5,654.6 C160.0,654.7 160.8,656.9 160.8,663.0 C161.1,664.1 161.0,664.1 163.5,664.1"/>
<path fill="none" stroke="#111" stroke-width="1.1" d="M126.8,665.0 C130.3,665.0 130.8,667.5 131.1,670.0 C131.3,673.0 133.3,674.0 137.3,674.0 C145.5,674.0 147.5,674.3 152.5,671.5 C157.5,666.0 159.5,665.0 163.5,665.0"/>
<path fill="none" stroke="#111" stroke-width="1.1" d="M172.0,664.0 C179.5,664.0 192.3,654.4 201.3,654.4 L203.7,654.6 C206.2,654.7 207.0,656.9 207.0,663.0 C207.3,664.1 207.2,664.1 209.7,664.1"/>
<path fill="none" stroke="#111" stroke-width="1.1" d="M172.0,665.0 C175.5,665.0 176.0,667.5 176.3,670.0 C176.5,673.0 178.5,674.0 182.5,674.0 C191.7,674.0 193.7,674.3 198.7,671.5 C203.7,666.0 205.7,665.0 209.7,665.0"/>
<path fill="none" stroke="#111" stroke-width="1.1" d="M218.2,664.0 C222.7,664.0 224.7,661.5 230.3,659.2 C230.5,655.5 234.5,654.0 242.5,654.0"/>
<path fill="none" stroke="#111" stroke-width="1.1" d="M218.2,665.0 C221.7,665.0 222.2,667.5 222.5,670.0 C222.7,674.0 224.7,675.0 231.0,675.0"/>
<line x1="70.7" y1="664.5" x2="79.3" y2="664.5" stroke="#000" stroke-width="3" stroke-linecap="round"/>
<line x1="118.0" y1="664.5" x2="126.6" y2="664.5" stroke="#000" stroke-width="3" stroke-linecap="round"/>
<line x1="163.2" y1="664.5" x2="171.8" y2="664.5" stroke="#000" stroke-width="3" stroke-linecap="round"/>
<line x1="209.4" y1="664.5" x2="218.0" y2="664.5" stroke="#000" stroke-width="3" stroke-linecap="round"/>
<ellipse cx="47.8" cy="647.6" rx="8.0" ry="4.7" transform="rotate(-38 47.8 647.6)" fill="#f4f4f4" stroke="#000" stroke-width="1.3"/>
<ellipse cx="50.3" cy="647.6" rx="8.0" ry="4.7" transform="rotate(-38 50.3 647.6)" fill="#f4f4f4" stroke="#000" stroke-width="1.3"/>
<ellipse cx="52.8" cy="647.6" rx="8.0" ry="4.7" transform="rotate(-38 52.8 647.6)" fill="#f4f4f4" stroke="#000" stroke-width="1.3"/>
<ellipse cx="55.3" cy="647.6" rx="8.0" ry="4.7" transform="rotate(-38 55.3 647.6)" fill="#f4f4f4" stroke="#000" stroke-width="1.3"/>
<ellipse cx="57.8" cy="647.6" rx="8.0" ry="4.7" transform="rotate(-38 57.8 647.6)" fill="#f4f4f4" stroke="#000" stroke-width="1.3"/>
<ellipse cx="60.3" cy="647.6" rx="8.0" ry="4.7" transform="rotate(-38 60.3 647.6)" fill="#f4f4f4" stroke="#000" stroke-width="1.3"/>
<ellipse cx="62.8" cy="647.6" rx="8.0" ry="4.7" transform="rotate(-38 62.8 647.6)" fill="#e4e4e4" stroke="#000" stroke-width="1.6"/>
<ellipse cx="62.2" cy="647.9" rx="6.0" ry="3.1" transform="rotate(-38 62.2 647.9)" fill="#ffffff"/>
<ellipse cx="105.1" cy="647.6" rx="8.0" ry="4.7" transform="rotate(-38 105.1 647.6)" fill="#f4f4f4" stroke="#000" stroke-width="1.3"/>
<ellipse cx="107.6" cy="647.6" rx="8.0" ry="4.7" transform="rotate(-38 107.6 647.6)" fill="#f4f4f4" stroke="#000" stroke-width="1.3"/>
<ellipse cx="110.1" cy="647.6" rx="8.0" ry="4.7" transform="rotate(-38 110.1 647.6)" fill="#e4e4e4" stroke="#000" stroke-width="1.6"/>
<ellipse cx="109.5" cy="647.9" rx="6.0" ry="3.1" transform="rotate(-38 109.5 647.9)" fill="#ffffff"/>
<ellipse cx="151.0" cy="647.4" rx="8.0" ry="4.7" transform="rotate(-38 151.0 647.4)" fill="#f4f4f4" stroke="#000" stroke-width="1.3"/>
<ellipse cx="153.5" cy="647.4" rx="8.0" ry="4.7" transform="rotate(-38 153.5 647.4)" fill="#f4f4f4" stroke="#000" stroke-width="1.3"/>
<ellipse cx="156.0" cy="647.4" rx="8.0" ry="4.7" transform="rotate(-38 156.0 647.4)" fill="#f4f4f4" stroke="#000" stroke-width="1.3"/>
<ellipse cx="158.5" cy="647.4" rx="8.0" ry="4.7" transform="rotate(-38 158.5 647.4)" fill="#f4f4f4" stroke="#000" stroke-width="1.3"/>
<ellipse cx="161.0" cy="647.4" rx="8.0" ry="4.7" transform="rotate(-38 161.0 647.4)" fill="#e4e4e4" stroke="#000" stroke-width="1.6"/>
<ellipse cx="160.4" cy="647.7" rx="6.0" ry="3.1" transform="rotate(-38 160.4 647.7)" fill="#ffffff"/>
<ellipse cx="189.8" cy="647.4" rx="8.0" ry="4.7" transform="rotate(-38 189.8 647.4)" fill="#f4f4f4" stroke="#000" stroke-width="1.3"/>
<ellipse cx="192.3" cy="647.4" rx="8.0" ry="4.7" transform="rotate(-38 192.3 647.4)" fill="#f4f4f4" stroke="#000" stroke-width="1.3"/>
<ellipse cx="194.8" cy="647.4" rx="8.0" ry="4.7" transform="rotate(-38 194.8 647.4)" fill="#f4f4f4" stroke="#000" stroke-width="1.3"/>
<ellipse cx="197.3" cy="647.4" rx="8.0" ry="4.7" transform="rotate(-38 197.3 647.4)" fill="#f4f4f4" stroke="#000" stroke-width="1.3"/>
<ellipse cx="199.8" cy="647.4" rx="8.0" ry="4.7" transform="rotate(-38 199.8 647.4)" fill="#f4f4f4" stroke="#000" stroke-width="1.3"/>
<ellipse cx="202.3" cy="647.4" rx="8.0" ry="4.7" transform="rotate(-38 202.3 647.4)" fill="#f4f4f4" stroke="#000" stroke-width="1.3"/>
<ellipse cx="204.8" cy="647.4" rx="8.0" ry="4.7" transform="rotate(-38 204.8 647.4)" fill="#f4f4f4" stroke="#000" stroke-width="1.3"/>
<ellipse cx="207.3" cy="647.4" rx="8.0" ry="4.7" transform="rotate(-38 207.3 647.4)" fill="#e4e4e4" stroke="#000" stroke-width="1.6"/>
<ellipse cx="206.7" cy="647.7" rx="6.0" ry="3.1" transform="rotate(-38 206.7 647.7)" fill="#ffffff"/>
<rect x="295.5" y="590.4" width="119.6" height="54.3" rx="1.5" fill="#c1c1c1" stroke="#6a6a6a" stroke-width="1.5"/>
<line x1="296.3" y1="591.6" x2="414.3" y2="591.6" stroke="#8a8a8a" stroke-width="1.2"/>
<rect x="301.3" y="596.2" width="14.3" height="12.4" rx="1.2" fill="#a9a9a9" stroke="#555" stroke-width="1.2"/>
<rect x="301.3" y="624.8" width="14.3" height="12.4" rx="1.2" fill="#a9a9a9" stroke="#555" stroke-width="1.2"/>
<circle cx="308.2" cy="602.4" r="2.8" fill="#6a6a6a" stroke="#444" stroke-width="0.8"/>
<circle cx="308.5" cy="631" r="2.8" fill="#6a6a6a" stroke="#444" stroke-width="0.8"/>
<line x1="307.5" y1="590" x2="307.5" y2="602.4" stroke="#f8383c" stroke-width="3.6" stroke-linecap="round"/>
<line x1="290" y1="631" x2="307.5" y2="631" stroke="#f8383c" stroke-width="3.6" stroke-linecap="round"/>
<rect x="321.8" y="608" width="64.4" height="21.7" rx="3.5" fill="#e8e8e8" stroke="#666" stroke-width="1.1"/>
<text x="324.5" y="626.5" style="font-family:'Liberation Sans',Arial,sans-serif;font-size:22px">EDFA</text>
<circle cx="398.2" cy="606.3" r="8.1" fill="#ededed" stroke="#333" stroke-width="1.5"/>
<rect x="396" y="629.7" width="9.7" height="7.5" fill="#f6f6f6"/>
<circle cx="400.9" cy="633.6" r="2.3" fill="none" stroke="#e04040" stroke-width="0.8"/><line x1="400.9" y1="630.6" x2="400.9" y2="632.6" stroke="#e04040" stroke-width="0.8"/>
<line x1="130.5" y1="727" x2="130.5" y2="698" stroke="#222" stroke-width="1.7"/>
<polygon points="130.5,689.9 126.2,699.3 134.8,699.3" fill="#000"/>
<line x1="152.6" y1="727" x2="152.6" y2="698" stroke="#222" stroke-width="1.7"/>
<polygon points="152.6,689.9 148.3,699.3 156.9,699.3" fill="#000"/>
<line x1="174.7" y1="727" x2="174.7" y2="698" stroke="#222" stroke-width="1.7"/>
<polygon points="174.7,689.9 170.4,699.3 179,699.3" fill="#000"/>
<rect x="84.2" y="726.6" width="136.9" height="53.8" rx="1.5" fill="#c0c0c0" stroke="#6a6a6a" stroke-width="1.3"/>
<rect x="87" y="729.3" width="101" height="25.8" fill="#0b0b0b"/>
<rect x="89.1" y="731" width="9.9" height="3.2" rx="1" fill="#d23a3a"/>
<circle cx="203.5" cy="741.7" r="8.2" fill="#eeeeee" stroke="#333" stroke-width="1.3"/>
<circle cx="102.5" cy="767.4" r="3.3" fill="#8a8a8a" stroke="#5a5a5a" stroke-width="0.9"/>
<circle cx="116.9" cy="767.4" r="3.3" fill="#8a8a8a" stroke="#5a5a5a" stroke-width="0.9"/>
<circle cx="131" cy="767.4" r="3.3" fill="#8a8a8a" stroke="#5a5a5a" stroke-width="0.9"/>
<rect x="152.6" y="762.7" width="12.8" height="4.1" rx="1.5" fill="#f2f2f2" stroke="#9a9a9a" stroke-width="0.8"/>
<rect x="152.6" y="769.5" width="12.8" height="4.1" rx="1.5" fill="#f2f2f2" stroke="#9a9a9a" stroke-width="0.8"/>
<rect x="172.4" y="762.7" width="12.8" height="4.1" rx="1.5" fill="#f2f2f2" stroke="#9a9a9a" stroke-width="0.8"/>
<rect x="172.4" y="769.5" width="12.8" height="4.1" rx="1.5" fill="#f2f2f2" stroke="#9a9a9a" stroke-width="0.8"/>
<text x="79.8" y="799.9" style="font-family:'Liberation Sans',Arial,sans-serif;font-size:22px">Current source</text>
</svg>
</body></html>
